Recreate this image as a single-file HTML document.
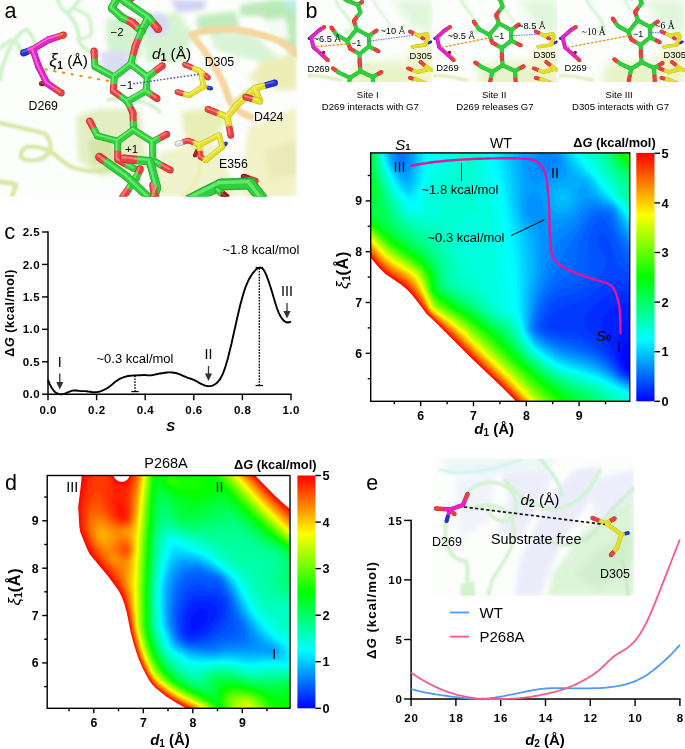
<!DOCTYPE html>
<html><head><meta charset="utf-8"><title>Figure</title>
<style>
html,body{margin:0;padding:0;background:#fff}
svg{display:block}
text{font-family:"Liberation Sans",sans-serif;fill:#000}
.b{font-weight:bold}
.i{font-style:italic}
.ser{font-family:"Liberation Serif",serif}
</style></head><body>

<svg width="685" height="749" viewBox="0 0 685 749">
<rect width="685" height="749" fill="#fff"/>
<defs><filter id="bl2" x="-20%" y="-20%" width="140%" height="140%"><feGaussianBlur stdDeviation="1.2"/></filter><filter id="bl3" x="-20%" y="-20%" width="140%" height="140%"><feGaussianBlur stdDeviation="2.5"/></filter><filter id="bl5" x="-30%" y="-30%" width="160%" height="160%"><feGaussianBlur stdDeviation="4"/></filter><filter id="bl9" x="-30%" y="-30%" width="160%" height="160%"><feGaussianBlur stdDeviation="8"/></filter></defs>
<clipPath id="ca"><rect x="0" y="0" width="296.8" height="196.6"/></clipPath>
<g clip-path="url(#ca)">
<rect x="0" y="0" width="297" height="197" fill="#fcfefb"/>
<g filter="url(#bl3)"><path d="M106 19 L132.6 15.8 L139.6 22.8 L141.3 57.8 L123.8 61.3 L111.5 57.8 L106.3 43.8 Z" fill="#d3f3cf"/><path d="M137.8 17.5 L178 12 L193 33 L186 61 L146.6 63 Z" fill="#d6f4d2"/><circle cx="157" cy="24" r="12" fill="#d8d8f5"/><path d="M100 52 L128 50 L130 74 L104 78 Z" fill="#dcdcf4"/><path d="M170 0 L207 0 L203 10 L178 12 Z" fill="#d0d0f4"/><path d="M240 5 L272 0 L297 0 L297 62 L288 51 L275 27 L261 16 L240 16 Z" fill="#bbeab8"/><path d="M197 16 L235 11 L240 27 L213 35 L197 29 Z" fill="#c0ecbd"/><path d="M210 35 L250 30 L270 50 L297 70 L297 82 L260 62 L215 50 Z" fill="#d8f4d5"/><path d="M283 0 L297 0 L297 11 L285 8 Z" fill="#b8ece0"/><path d="M264 20 L285 18 L290 40 L272 36 Z" fill="#f4fbf3"/><path d="M248 80 L262 61 L297 53 L297 90 L280 90 Z" fill="#ededb6"/><path d="M181 112 L213 107 L227 120 L213 139 L187 150 Z" fill="#e8efb6"/><path d="M248 128 L297 107 L297 197 L240 197 Z" fill="#f1f2c6"/><path d="M160 152 L215 142 L240 197 L150 197 Z" fill="#eff3cc"/><path d="M265 150 L297 140 L297 175 L270 180 Z" fill="#ebe9b8"/><path d="M76 116 L100 108 L140 110 L148 170 L100 176 L78 160 Z" fill="#e3efc2"/><path d="M88 140 L112 136 L116 162 L92 164 Z" fill="#d6e4a8"/></g><g fill="none" stroke-linecap="round" stroke-linejoin="round" filter="url(#bl2)"><path d="M57.5 0 C60 6 63 10 65.5 12 C70 12 73 9 75 5 L80 0" stroke="#cdf2ca" stroke-width="3.5"/><path d="M66.8 12 C72 18 76 24 77.5 29.4 C79 36 79 40 80.2 43 C83 48 88 52 94 54" stroke="#cdf2ca" stroke-width="4"/><path d="M0 80 C1 70 3 64 5.3 59 C9 48 13 40 18.7 35 C21 32 24 30 26.7 29.4 C30 32 33 38 35 43" stroke="#cdf2ca" stroke-width="4"/><path d="M0 48 C5 44 9 41 13.4 40 C17 42 19 46 21.4 51" stroke="#d2f3cf" stroke-width="4.5"/><path d="M72 8 C78 10 84 12 88 16 C91 22 92 28 91 35 C87 38 82 39 77.5 40" stroke="#d2f3cf" stroke-width="3.5"/><path d="M192 35 C208 27 240 26 277 40 C288 45 294 52 300 56" stroke="#f4d6a0" stroke-width="7"/><path d="M192 35 C205 50 222 75 229 99 C232 108 243 114 251 117" stroke="#f4d6a0" stroke-width="7"/><path d="M0 123 C8 125 15 126 21.4 128 C30 130 38 131 45.5 134 C49 138 51 144 50.8 150 C47 156 42 159 37.4 160 C31 161 25 160 21.4 158 C20 153 22 149 26.7 147 C34 146 41 147 48 150 C56 155 62 161 69.5 166 C76 169 82 170 88 171 C98 171 108 170 118 168" stroke="#d7e8a8" stroke-width="4.5"/><path d="M0 182 C6 182 12 183 16 185 L11 200" stroke="#d7e8a8" stroke-width="5"/><path d="M196 150 C205 168 196 186 182 197" stroke="#eceeb0" stroke-width="4"/><path d="M108 100 C120 96 150 100 160 112" stroke="#cdf2ca" stroke-width="3.5"/><path d="M232 104 C240 96 252 86 262 84" stroke="#e6e6a8" stroke-width="4"/></g>
<g fill="none"><circle cx="255.5" cy="181.0" r="3.2" fill="#c43030"/><circle cx="244.0" cy="177.0" r="3.2" fill="#701010"/><path d="M244.0 177.0 L249.8 179.0" stroke="#701010" stroke-width="6.5"/><path d="M249.8 179.0 L255.5 181.0" stroke="#c43030" stroke-width="6.5"/><circle cx="255.5" cy="181.0" r="2.6" fill="#ea4040"/><circle cx="244.0" cy="177.0" r="2.6" fill="#a01c1c"/><path d="M244.0 177.0 L249.8 179.0" stroke="#a01c1c" stroke-width="5.2"/><path d="M249.8 179.0 L255.5 181.0" stroke="#ea4040" stroke-width="5.2"/><g stroke-linecap="round" opacity="0.8"><path d="M243.0 176.0 L248.7 178.0" stroke="#c04040" stroke-width="1.8"/><path d="M248.7 178.0 L254.5 180.0" stroke="#f88888" stroke-width="1.8"/></g></g>
<g fill="none"><circle cx="250.0" cy="183.5" r="6.0" fill="#25ac30"/><circle cx="262.0" cy="199.0" r="6.0" fill="#25ac30"/><circle cx="221.0" cy="184.5" r="6.0" fill="#25ac30"/><circle cx="190.0" cy="200.0" r="6.0" fill="#25ac30"/><path d="M190.0 200.0 L205.5 192.2" stroke="#25ac30" stroke-width="12.0"/><path d="M205.5 192.2 L221.0 184.5" stroke="#25ac30" stroke-width="12.0"/><path d="M221.0 184.5 L235.5 184.0" stroke="#25ac30" stroke-width="12.0"/><path d="M235.5 184.0 L250.0 183.5" stroke="#25ac30" stroke-width="12.0"/><path d="M250.0 183.5 L256.0 191.2" stroke="#25ac30" stroke-width="12.0"/><path d="M256.0 191.2 L262.0 199.0" stroke="#25ac30" stroke-width="12.0"/><circle cx="250.0" cy="183.5" r="4.8" fill="#2fd03c"/><circle cx="262.0" cy="199.0" r="4.8" fill="#2fd03c"/><circle cx="221.0" cy="184.5" r="4.8" fill="#2fd03c"/><circle cx="190.0" cy="200.0" r="4.8" fill="#2fd03c"/><path d="M190.0 200.0 L205.5 192.2" stroke="#2fd03c" stroke-width="9.6"/><path d="M205.5 192.2 L221.0 184.5" stroke="#2fd03c" stroke-width="9.6"/><path d="M221.0 184.5 L235.5 184.0" stroke="#2fd03c" stroke-width="9.6"/><path d="M235.5 184.0 L250.0 183.5" stroke="#2fd03c" stroke-width="9.6"/><path d="M250.0 183.5 L256.0 191.2" stroke="#2fd03c" stroke-width="9.6"/><path d="M256.0 191.2 L262.0 199.0" stroke="#2fd03c" stroke-width="9.6"/><g stroke-linecap="round" opacity="0.8"><path d="M188.1 198.1 L203.6 190.3" stroke="#74ec7c" stroke-width="3.4"/><path d="M203.6 190.3 L219.1 182.6" stroke="#74ec7c" stroke-width="3.4"/><path d="M219.1 182.6 L233.6 182.1" stroke="#74ec7c" stroke-width="3.4"/><path d="M233.6 182.1 L248.1 181.6" stroke="#74ec7c" stroke-width="3.4"/><path d="M248.1 181.6 L254.1 189.3" stroke="#74ec7c" stroke-width="3.4"/><path d="M254.1 189.3 L260.1 197.1" stroke="#74ec7c" stroke-width="3.4"/></g></g>
<g fill="none"><circle cx="218.0" cy="190.0" r="3.5" fill="#25ac30"/><circle cx="226.0" cy="197.0" r="3.5" fill="#701010"/><path d="M218.0 190.0 L222.0 193.5" stroke="#25ac30" stroke-width="7.0"/><path d="M222.0 193.5 L226.0 197.0" stroke="#701010" stroke-width="7.0"/><circle cx="218.0" cy="190.0" r="2.8" fill="#2fd03c"/><circle cx="226.0" cy="197.0" r="2.8" fill="#a01c1c"/><path d="M218.0 190.0 L222.0 193.5" stroke="#2fd03c" stroke-width="5.6"/><path d="M222.0 193.5 L226.0 197.0" stroke="#a01c1c" stroke-width="5.6"/><g stroke-linecap="round" opacity="0.8"><path d="M216.9 188.9 L220.9 192.4" stroke="#74ec7c" stroke-width="2.0"/><path d="M220.9 192.4 L224.9 195.9" stroke="#c04040" stroke-width="2.0"/></g></g>
<g fill="none"><circle cx="132.6" cy="22.8" r="4.0" fill="#c43030"/><circle cx="141.5" cy="31.2" r="4.0" fill="#25ac30"/><circle cx="117.7" cy="-3.0" r="4.0" fill="#25ac30"/><circle cx="111.8" cy="8.2" r="4.0" fill="#25ac30"/><circle cx="122.0" cy="17.5" r="4.0" fill="#25ac30"/><path d="M117.7 -3.0 L114.8 2.6" stroke="#25ac30" stroke-width="8.0"/><path d="M114.8 2.6 L111.8 8.2" stroke="#25ac30" stroke-width="8.0"/><path d="M111.8 8.2 L116.9 12.8" stroke="#25ac30" stroke-width="8.0"/><path d="M116.9 12.8 L122.0 17.5" stroke="#25ac30" stroke-width="8.0"/><path d="M122.0 17.5 L127.3 20.1" stroke="#25ac30" stroke-width="8.0"/><path d="M127.3 20.1 L132.6 22.8" stroke="#c43030" stroke-width="8.0"/><path d="M132.6 22.8 L137.1 27.0" stroke="#c43030" stroke-width="8.0"/><path d="M137.1 27.0 L141.5 31.2" stroke="#25ac30" stroke-width="8.0"/><circle cx="132.6" cy="22.8" r="3.2" fill="#ea4040"/><circle cx="141.5" cy="31.2" r="3.2" fill="#2fd03c"/><circle cx="117.7" cy="-3.0" r="3.2" fill="#2fd03c"/><circle cx="111.8" cy="8.2" r="3.2" fill="#2fd03c"/><circle cx="122.0" cy="17.5" r="3.2" fill="#2fd03c"/><path d="M117.7 -3.0 L114.8 2.6" stroke="#2fd03c" stroke-width="6.4"/><path d="M114.8 2.6 L111.8 8.2" stroke="#2fd03c" stroke-width="6.4"/><path d="M111.8 8.2 L116.9 12.8" stroke="#2fd03c" stroke-width="6.4"/><path d="M116.9 12.8 L122.0 17.5" stroke="#2fd03c" stroke-width="6.4"/><path d="M122.0 17.5 L127.3 20.1" stroke="#2fd03c" stroke-width="6.4"/><path d="M127.3 20.1 L132.6 22.8" stroke="#ea4040" stroke-width="6.4"/><path d="M132.6 22.8 L137.1 27.0" stroke="#ea4040" stroke-width="6.4"/><path d="M137.1 27.0 L141.5 31.2" stroke="#2fd03c" stroke-width="6.4"/><g stroke-linecap="round" opacity="0.8"><path d="M116.4 -4.3 L113.5 1.3" stroke="#74ec7c" stroke-width="2.2"/><path d="M113.5 1.3 L110.5 6.9" stroke="#74ec7c" stroke-width="2.2"/><path d="M110.5 6.9 L115.6 11.6" stroke="#74ec7c" stroke-width="2.2"/><path d="M115.6 11.6 L120.7 16.2" stroke="#74ec7c" stroke-width="2.2"/><path d="M120.7 16.2 L126.0 18.9" stroke="#74ec7c" stroke-width="2.2"/><path d="M126.0 18.9 L131.3 21.5" stroke="#f88888" stroke-width="2.2"/><path d="M131.3 21.5 L135.8 25.7" stroke="#f88888" stroke-width="2.2"/><path d="M135.8 25.7 L140.2 29.9" stroke="#74ec7c" stroke-width="2.2"/></g></g>
<g fill="none"><circle cx="131.5" cy="-2.0" r="3.5" fill="#c43030"/><circle cx="127.0" cy="3.0" r="3.5" fill="#25ac30"/><path d="M131.5 -2.0 L129.2 0.5" stroke="#c43030" stroke-width="7.0"/><path d="M129.2 0.5 L127.0 3.0" stroke="#25ac30" stroke-width="7.0"/><circle cx="131.5" cy="-2.0" r="2.8" fill="#ea4040"/><circle cx="127.0" cy="3.0" r="2.8" fill="#2fd03c"/><path d="M131.5 -2.0 L129.2 0.5" stroke="#ea4040" stroke-width="5.6"/><path d="M129.2 0.5 L127.0 3.0" stroke="#2fd03c" stroke-width="5.6"/><g stroke-linecap="round" opacity="0.8"><path d="M130.4 -3.1 L128.1 -0.6" stroke="#f88888" stroke-width="2.0"/><path d="M128.1 -0.6 L125.9 1.9" stroke="#74ec7c" stroke-width="2.0"/></g></g>
<g fill="none"><circle cx="158.0" cy="28.9" r="4.0" fill="#c43030"/><circle cx="125.5" cy="1.8" r="4.0" fill="#25ac30"/><circle cx="141.5" cy="31.2" r="4.0" fill="#25ac30"/><circle cx="119.0" cy="-4.0" r="4.0" fill="#25ac30"/><circle cx="148.5" cy="17.5" r="4.0" fill="#25ac30"/><path d="M141.5 31.2 L145.0 24.4" stroke="#25ac30" stroke-width="8.0"/><path d="M145.0 24.4 L148.5 17.5" stroke="#25ac30" stroke-width="8.0"/><path d="M148.5 17.5 L153.2 23.2" stroke="#25ac30" stroke-width="8.0"/><path d="M153.2 23.2 L158.0 28.9" stroke="#c43030" stroke-width="8.0"/><path d="M148.5 17.5 L137.0 9.7" stroke="#25ac30" stroke-width="8.0"/><path d="M137.0 9.7 L125.5 1.8" stroke="#25ac30" stroke-width="8.0"/><path d="M125.5 1.8 L122.2 -1.1" stroke="#25ac30" stroke-width="8.0"/><path d="M122.2 -1.1 L119.0 -4.0" stroke="#25ac30" stroke-width="8.0"/><circle cx="158.0" cy="28.9" r="3.2" fill="#ea4040"/><circle cx="125.5" cy="1.8" r="3.2" fill="#2fd03c"/><circle cx="141.5" cy="31.2" r="3.2" fill="#2fd03c"/><circle cx="119.0" cy="-4.0" r="3.2" fill="#2fd03c"/><circle cx="148.5" cy="17.5" r="3.2" fill="#2fd03c"/><path d="M141.5 31.2 L145.0 24.4" stroke="#2fd03c" stroke-width="6.4"/><path d="M145.0 24.4 L148.5 17.5" stroke="#2fd03c" stroke-width="6.4"/><path d="M148.5 17.5 L153.2 23.2" stroke="#2fd03c" stroke-width="6.4"/><path d="M153.2 23.2 L158.0 28.9" stroke="#ea4040" stroke-width="6.4"/><path d="M148.5 17.5 L137.0 9.7" stroke="#2fd03c" stroke-width="6.4"/><path d="M137.0 9.7 L125.5 1.8" stroke="#2fd03c" stroke-width="6.4"/><path d="M125.5 1.8 L122.2 -1.1" stroke="#2fd03c" stroke-width="6.4"/><path d="M122.2 -1.1 L119.0 -4.0" stroke="#2fd03c" stroke-width="6.4"/><g stroke-linecap="round" opacity="0.8"><path d="M140.2 29.9 L143.7 23.1" stroke="#74ec7c" stroke-width="2.2"/><path d="M143.7 23.1 L147.2 16.2" stroke="#74ec7c" stroke-width="2.2"/><path d="M147.2 16.2 L152.0 21.9" stroke="#74ec7c" stroke-width="2.2"/><path d="M152.0 21.9 L156.7 27.6" stroke="#f88888" stroke-width="2.2"/><path d="M147.2 16.2 L135.7 8.4" stroke="#74ec7c" stroke-width="2.2"/><path d="M135.7 8.4 L124.2 0.5" stroke="#74ec7c" stroke-width="2.2"/><path d="M124.2 0.5 L121.0 -2.4" stroke="#74ec7c" stroke-width="2.2"/><path d="M121.0 -2.4 L117.7 -5.3" stroke="#74ec7c" stroke-width="2.2"/></g></g>
<g fill="none"><circle cx="127.5" cy="101.5" r="3.5" fill="#25ac30"/><circle cx="114.2" cy="77.0" r="3.5" fill="#25ac30"/><circle cx="133.4" cy="129.8" r="3.5" fill="#25ac30"/><circle cx="157.0" cy="98.5" r="3.5" fill="#c43030"/><circle cx="162.3" cy="65.7" r="3.5" fill="#c43030"/><circle cx="130.8" cy="64.0" r="3.5" fill="#25ac30"/><circle cx="113.3" cy="91.0" r="3.5" fill="#c43030"/><circle cx="146.0" cy="91.0" r="3.5" fill="#25ac30"/><circle cx="94.9" cy="66.6" r="3.5" fill="#25ac30"/><circle cx="94.0" cy="51.0" r="3.5" fill="#c43030"/><circle cx="147.4" cy="77.0" r="3.5" fill="#25ac30"/><circle cx="133.0" cy="113.0" r="3.5" fill="#c43030"/><circle cx="141.5" cy="31.2" r="3.5" fill="#25ac30"/><circle cx="135.2" cy="46.4" r="3.5" fill="#c43030"/><path d="M130.8 64.0 L139.1 70.5" stroke="#25ac30" stroke-width="7.0"/><path d="M139.1 70.5 L147.4 77.0" stroke="#25ac30" stroke-width="7.0"/><path d="M147.4 77.0 L146.7 84.0" stroke="#25ac30" stroke-width="7.0"/><path d="M146.7 84.0 L146.0 91.0" stroke="#25ac30" stroke-width="7.0"/><path d="M146.0 91.0 L136.8 96.2" stroke="#25ac30" stroke-width="7.0"/><path d="M136.8 96.2 L127.5 101.5" stroke="#25ac30" stroke-width="7.0"/><path d="M127.5 101.5 L120.4 96.2" stroke="#25ac30" stroke-width="7.0"/><path d="M120.4 96.2 L113.3 91.0" stroke="#c43030" stroke-width="7.0"/><path d="M113.3 91.0 L113.8 84.0" stroke="#c43030" stroke-width="7.0"/><path d="M113.8 84.0 L114.2 77.0" stroke="#25ac30" stroke-width="7.0"/><path d="M114.2 77.0 L122.5 70.5" stroke="#25ac30" stroke-width="7.0"/><path d="M122.5 70.5 L130.8 64.0" stroke="#25ac30" stroke-width="7.0"/><path d="M114.2 77.0 L104.6 71.8" stroke="#25ac30" stroke-width="7.0"/><path d="M104.6 71.8 L94.9 66.6" stroke="#25ac30" stroke-width="7.0"/><path d="M94.9 66.6 L94.5 58.8" stroke="#25ac30" stroke-width="7.0"/><path d="M94.5 58.8 L94.0 51.0" stroke="#c43030" stroke-width="7.0"/><path d="M130.8 64.0 L133.0 55.2" stroke="#25ac30" stroke-width="7.0"/><path d="M133.0 55.2 L135.2 46.4" stroke="#c43030" stroke-width="7.0"/><path d="M135.2 46.4 L138.3 38.8" stroke="#c43030" stroke-width="7.0"/><path d="M138.3 38.8 L141.5 31.2" stroke="#25ac30" stroke-width="7.0"/><path d="M147.4 77.0 L154.9 71.3" stroke="#25ac30" stroke-width="7.0"/><path d="M154.9 71.3 L162.3 65.7" stroke="#c43030" stroke-width="7.0"/><path d="M146.0 91.0 L151.5 94.8" stroke="#25ac30" stroke-width="7.0"/><path d="M151.5 94.8 L157.0 98.5" stroke="#c43030" stroke-width="7.0"/><path d="M127.5 101.5 L130.2 107.2" stroke="#25ac30" stroke-width="7.0"/><path d="M130.2 107.2 L133.0 113.0" stroke="#c43030" stroke-width="7.0"/><path d="M133.0 113.0 L133.2 121.4" stroke="#c43030" stroke-width="7.0"/><path d="M133.2 121.4 L133.4 129.8" stroke="#25ac30" stroke-width="7.0"/><circle cx="127.5" cy="101.5" r="2.8" fill="#2fd03c"/><circle cx="114.2" cy="77.0" r="2.8" fill="#2fd03c"/><circle cx="133.4" cy="129.8" r="2.8" fill="#2fd03c"/><circle cx="157.0" cy="98.5" r="2.8" fill="#ea4040"/><circle cx="162.3" cy="65.7" r="2.8" fill="#ea4040"/><circle cx="130.8" cy="64.0" r="2.8" fill="#2fd03c"/><circle cx="113.3" cy="91.0" r="2.8" fill="#ea4040"/><circle cx="146.0" cy="91.0" r="2.8" fill="#2fd03c"/><circle cx="94.9" cy="66.6" r="2.8" fill="#2fd03c"/><circle cx="94.0" cy="51.0" r="2.8" fill="#ea4040"/><circle cx="147.4" cy="77.0" r="2.8" fill="#2fd03c"/><circle cx="133.0" cy="113.0" r="2.8" fill="#ea4040"/><circle cx="141.5" cy="31.2" r="2.8" fill="#2fd03c"/><circle cx="135.2" cy="46.4" r="2.8" fill="#ea4040"/><path d="M130.8 64.0 L139.1 70.5" stroke="#2fd03c" stroke-width="5.6"/><path d="M139.1 70.5 L147.4 77.0" stroke="#2fd03c" stroke-width="5.6"/><path d="M147.4 77.0 L146.7 84.0" stroke="#2fd03c" stroke-width="5.6"/><path d="M146.7 84.0 L146.0 91.0" stroke="#2fd03c" stroke-width="5.6"/><path d="M146.0 91.0 L136.8 96.2" stroke="#2fd03c" stroke-width="5.6"/><path d="M136.8 96.2 L127.5 101.5" stroke="#2fd03c" stroke-width="5.6"/><path d="M127.5 101.5 L120.4 96.2" stroke="#2fd03c" stroke-width="5.6"/><path d="M120.4 96.2 L113.3 91.0" stroke="#ea4040" stroke-width="5.6"/><path d="M113.3 91.0 L113.8 84.0" stroke="#ea4040" stroke-width="5.6"/><path d="M113.8 84.0 L114.2 77.0" stroke="#2fd03c" stroke-width="5.6"/><path d="M114.2 77.0 L122.5 70.5" stroke="#2fd03c" stroke-width="5.6"/><path d="M122.5 70.5 L130.8 64.0" stroke="#2fd03c" stroke-width="5.6"/><path d="M114.2 77.0 L104.6 71.8" stroke="#2fd03c" stroke-width="5.6"/><path d="M104.6 71.8 L94.9 66.6" stroke="#2fd03c" stroke-width="5.6"/><path d="M94.9 66.6 L94.5 58.8" stroke="#2fd03c" stroke-width="5.6"/><path d="M94.5 58.8 L94.0 51.0" stroke="#ea4040" stroke-width="5.6"/><path d="M130.8 64.0 L133.0 55.2" stroke="#2fd03c" stroke-width="5.6"/><path d="M133.0 55.2 L135.2 46.4" stroke="#ea4040" stroke-width="5.6"/><path d="M135.2 46.4 L138.3 38.8" stroke="#ea4040" stroke-width="5.6"/><path d="M138.3 38.8 L141.5 31.2" stroke="#2fd03c" stroke-width="5.6"/><path d="M147.4 77.0 L154.9 71.3" stroke="#2fd03c" stroke-width="5.6"/><path d="M154.9 71.3 L162.3 65.7" stroke="#ea4040" stroke-width="5.6"/><path d="M146.0 91.0 L151.5 94.8" stroke="#2fd03c" stroke-width="5.6"/><path d="M151.5 94.8 L157.0 98.5" stroke="#ea4040" stroke-width="5.6"/><path d="M127.5 101.5 L130.2 107.2" stroke="#2fd03c" stroke-width="5.6"/><path d="M130.2 107.2 L133.0 113.0" stroke="#ea4040" stroke-width="5.6"/><path d="M133.0 113.0 L133.2 121.4" stroke="#ea4040" stroke-width="5.6"/><path d="M133.2 121.4 L133.4 129.8" stroke="#2fd03c" stroke-width="5.6"/><g stroke-linecap="round" opacity="0.8"><path d="M129.7 62.9 L138.0 69.4" stroke="#74ec7c" stroke-width="2.0"/><path d="M138.0 69.4 L146.3 75.9" stroke="#74ec7c" stroke-width="2.0"/><path d="M146.3 75.9 L145.6 82.9" stroke="#74ec7c" stroke-width="2.0"/><path d="M145.6 82.9 L144.9 89.9" stroke="#74ec7c" stroke-width="2.0"/><path d="M144.9 89.9 L135.6 95.1" stroke="#74ec7c" stroke-width="2.0"/><path d="M135.6 95.1 L126.4 100.4" stroke="#74ec7c" stroke-width="2.0"/><path d="M126.4 100.4 L119.3 95.1" stroke="#74ec7c" stroke-width="2.0"/><path d="M119.3 95.1 L112.2 89.9" stroke="#f88888" stroke-width="2.0"/><path d="M112.2 89.9 L112.6 82.9" stroke="#f88888" stroke-width="2.0"/><path d="M112.6 82.9 L113.1 75.9" stroke="#74ec7c" stroke-width="2.0"/><path d="M113.1 75.9 L121.4 69.4" stroke="#74ec7c" stroke-width="2.0"/><path d="M121.4 69.4 L129.7 62.9" stroke="#74ec7c" stroke-width="2.0"/><path d="M113.1 75.9 L103.4 70.7" stroke="#74ec7c" stroke-width="2.0"/><path d="M103.4 70.7 L93.8 65.5" stroke="#74ec7c" stroke-width="2.0"/><path d="M93.8 65.5 L93.3 57.7" stroke="#74ec7c" stroke-width="2.0"/><path d="M93.3 57.7 L92.9 49.9" stroke="#f88888" stroke-width="2.0"/><path d="M129.7 62.9 L131.9 54.1" stroke="#74ec7c" stroke-width="2.0"/><path d="M131.9 54.1 L134.1 45.3" stroke="#f88888" stroke-width="2.0"/><path d="M134.1 45.3 L137.2 37.7" stroke="#f88888" stroke-width="2.0"/><path d="M137.2 37.7 L140.4 30.1" stroke="#74ec7c" stroke-width="2.0"/><path d="M146.3 75.9 L153.7 70.2" stroke="#74ec7c" stroke-width="2.0"/><path d="M153.7 70.2 L161.2 64.6" stroke="#f88888" stroke-width="2.0"/><path d="M144.9 89.9 L150.4 93.6" stroke="#74ec7c" stroke-width="2.0"/><path d="M150.4 93.6 L155.9 97.4" stroke="#f88888" stroke-width="2.0"/><path d="M126.4 100.4 L129.1 106.1" stroke="#74ec7c" stroke-width="2.0"/><path d="M129.1 106.1 L131.9 111.9" stroke="#f88888" stroke-width="2.0"/><path d="M131.9 111.9 L132.1 120.3" stroke="#f88888" stroke-width="2.0"/><path d="M132.1 120.3 L132.3 128.7" stroke="#74ec7c" stroke-width="2.0"/></g></g>
<g fill="none"><circle cx="133.4" cy="129.8" r="3.5" fill="#25ac30"/><circle cx="152.7" cy="142.0" r="3.5" fill="#25ac30"/><circle cx="117.7" cy="159.6" r="3.5" fill="#c43030"/><circle cx="170.2" cy="170.0" r="3.5" fill="#c43030"/><circle cx="166.7" cy="134.2" r="3.5" fill="#c43030"/><circle cx="134.0" cy="168.5" r="3.5" fill="#25ac30"/><circle cx="152.7" cy="160.4" r="3.5" fill="#25ac30"/><circle cx="97.5" cy="135.9" r="3.5" fill="#25ac30"/><circle cx="89.6" cy="121.0" r="3.5" fill="#c43030"/><circle cx="117.7" cy="141.2" r="3.5" fill="#25ac30"/><path d="M133.4 129.8 L143.1 135.9" stroke="#25ac30" stroke-width="7.0"/><path d="M143.1 135.9 L152.7 142.0" stroke="#25ac30" stroke-width="7.0"/><path d="M152.7 142.0 L152.7 151.2" stroke="#25ac30" stroke-width="7.0"/><path d="M152.7 151.2 L152.7 160.4" stroke="#25ac30" stroke-width="7.0"/><path d="M134.0 168.5 L125.8 164.1" stroke="#25ac30" stroke-width="7.0"/><path d="M125.8 164.1 L117.7 159.6" stroke="#c43030" stroke-width="7.0"/><path d="M117.7 159.6 L117.7 150.4" stroke="#c43030" stroke-width="7.0"/><path d="M117.7 150.4 L117.7 141.2" stroke="#25ac30" stroke-width="7.0"/><path d="M117.7 141.2 L125.6 135.5" stroke="#25ac30" stroke-width="7.0"/><path d="M125.6 135.5 L133.4 129.8" stroke="#25ac30" stroke-width="7.0"/><path d="M117.7 141.2 L107.6 138.6" stroke="#25ac30" stroke-width="7.0"/><path d="M107.6 138.6 L97.5 135.9" stroke="#25ac30" stroke-width="7.0"/><path d="M97.5 135.9 L93.5 128.4" stroke="#25ac30" stroke-width="7.0"/><path d="M93.5 128.4 L89.6 121.0" stroke="#c43030" stroke-width="7.0"/><path d="M152.7 142.0 L159.7 138.1" stroke="#25ac30" stroke-width="7.0"/><path d="M159.7 138.1 L166.7 134.2" stroke="#c43030" stroke-width="7.0"/><path d="M152.7 160.4 L161.4 165.2" stroke="#25ac30" stroke-width="7.0"/><path d="M161.4 165.2 L170.2 170.0" stroke="#c43030" stroke-width="7.0"/><circle cx="133.4" cy="129.8" r="2.8" fill="#2fd03c"/><circle cx="152.7" cy="142.0" r="2.8" fill="#2fd03c"/><circle cx="117.7" cy="159.6" r="2.8" fill="#ea4040"/><circle cx="170.2" cy="170.0" r="2.8" fill="#ea4040"/><circle cx="166.7" cy="134.2" r="2.8" fill="#ea4040"/><circle cx="134.0" cy="168.5" r="2.8" fill="#2fd03c"/><circle cx="152.7" cy="160.4" r="2.8" fill="#2fd03c"/><circle cx="97.5" cy="135.9" r="2.8" fill="#2fd03c"/><circle cx="89.6" cy="121.0" r="2.8" fill="#ea4040"/><circle cx="117.7" cy="141.2" r="2.8" fill="#2fd03c"/><path d="M133.4 129.8 L143.1 135.9" stroke="#2fd03c" stroke-width="5.6"/><path d="M143.1 135.9 L152.7 142.0" stroke="#2fd03c" stroke-width="5.6"/><path d="M152.7 142.0 L152.7 151.2" stroke="#2fd03c" stroke-width="5.6"/><path d="M152.7 151.2 L152.7 160.4" stroke="#2fd03c" stroke-width="5.6"/><path d="M134.0 168.5 L125.8 164.1" stroke="#2fd03c" stroke-width="5.6"/><path d="M125.8 164.1 L117.7 159.6" stroke="#ea4040" stroke-width="5.6"/><path d="M117.7 159.6 L117.7 150.4" stroke="#ea4040" stroke-width="5.6"/><path d="M117.7 150.4 L117.7 141.2" stroke="#2fd03c" stroke-width="5.6"/><path d="M117.7 141.2 L125.6 135.5" stroke="#2fd03c" stroke-width="5.6"/><path d="M125.6 135.5 L133.4 129.8" stroke="#2fd03c" stroke-width="5.6"/><path d="M117.7 141.2 L107.6 138.6" stroke="#2fd03c" stroke-width="5.6"/><path d="M107.6 138.6 L97.5 135.9" stroke="#2fd03c" stroke-width="5.6"/><path d="M97.5 135.9 L93.5 128.4" stroke="#2fd03c" stroke-width="5.6"/><path d="M93.5 128.4 L89.6 121.0" stroke="#ea4040" stroke-width="5.6"/><path d="M152.7 142.0 L159.7 138.1" stroke="#2fd03c" stroke-width="5.6"/><path d="M159.7 138.1 L166.7 134.2" stroke="#ea4040" stroke-width="5.6"/><path d="M152.7 160.4 L161.4 165.2" stroke="#2fd03c" stroke-width="5.6"/><path d="M161.4 165.2 L170.2 170.0" stroke="#ea4040" stroke-width="5.6"/><g stroke-linecap="round" opacity="0.8"><path d="M132.3 128.7 L141.9 134.8" stroke="#74ec7c" stroke-width="2.0"/><path d="M141.9 134.8 L151.6 140.9" stroke="#74ec7c" stroke-width="2.0"/><path d="M151.6 140.9 L151.6 150.1" stroke="#74ec7c" stroke-width="2.0"/><path d="M151.6 150.1 L151.6 159.3" stroke="#74ec7c" stroke-width="2.0"/><path d="M132.9 167.4 L124.7 162.9" stroke="#74ec7c" stroke-width="2.0"/><path d="M124.7 162.9 L116.6 158.5" stroke="#f88888" stroke-width="2.0"/><path d="M116.6 158.5 L116.6 149.3" stroke="#f88888" stroke-width="2.0"/><path d="M116.6 149.3 L116.6 140.1" stroke="#74ec7c" stroke-width="2.0"/><path d="M116.6 140.1 L124.4 134.4" stroke="#74ec7c" stroke-width="2.0"/><path d="M124.4 134.4 L132.3 128.7" stroke="#74ec7c" stroke-width="2.0"/><path d="M116.6 140.1 L106.5 137.4" stroke="#74ec7c" stroke-width="2.0"/><path d="M106.5 137.4 L96.4 134.8" stroke="#74ec7c" stroke-width="2.0"/><path d="M96.4 134.8 L92.4 127.3" stroke="#74ec7c" stroke-width="2.0"/><path d="M92.4 127.3 L88.5 119.9" stroke="#f88888" stroke-width="2.0"/><path d="M151.6 140.9 L158.6 137.0" stroke="#74ec7c" stroke-width="2.0"/><path d="M158.6 137.0 L165.6 133.1" stroke="#f88888" stroke-width="2.0"/><path d="M151.6 159.3 L160.3 164.1" stroke="#74ec7c" stroke-width="2.0"/><path d="M160.3 164.1 L169.1 168.9" stroke="#f88888" stroke-width="2.0"/></g></g>
<g fill="none"><circle cx="140.0" cy="169.0" r="3.8" fill="#c43030"/><circle cx="121.0" cy="200.0" r="3.8" fill="#c43030"/><circle cx="136.0" cy="178.0" r="3.8" fill="#25ac30"/><path d="M140.0 169.0 L138.0 173.5" stroke="#c43030" stroke-width="7.5"/><path d="M138.0 173.5 L136.0 178.0" stroke="#25ac30" stroke-width="7.5"/><path d="M136.0 178.0 L128.5 189.0" stroke="#25ac30" stroke-width="7.5"/><path d="M128.5 189.0 L121.0 200.0" stroke="#c43030" stroke-width="7.5"/><circle cx="140.0" cy="169.0" r="3.0" fill="#ea4040"/><circle cx="121.0" cy="200.0" r="3.0" fill="#ea4040"/><circle cx="136.0" cy="178.0" r="3.0" fill="#2fd03c"/><path d="M140.0 169.0 L138.0 173.5" stroke="#ea4040" stroke-width="6.0"/><path d="M138.0 173.5 L136.0 178.0" stroke="#2fd03c" stroke-width="6.0"/><path d="M136.0 178.0 L128.5 189.0" stroke="#2fd03c" stroke-width="6.0"/><path d="M128.5 189.0 L121.0 200.0" stroke="#ea4040" stroke-width="6.0"/><g stroke-linecap="round" opacity="0.8"><path d="M138.8 167.8 L136.8 172.3" stroke="#f88888" stroke-width="2.1"/><path d="M136.8 172.3 L134.8 176.8" stroke="#74ec7c" stroke-width="2.1"/><path d="M134.8 176.8 L127.3 187.8" stroke="#74ec7c" stroke-width="2.1"/><path d="M127.3 187.8 L119.8 198.8" stroke="#f88888" stroke-width="2.1"/></g></g>
<g fill="none"><circle cx="110.5" cy="165.0" r="4.2" fill="#25ac30"/><circle cx="148.0" cy="197.0" r="4.2" fill="#25ac30"/><circle cx="99.3" cy="157.0" r="4.2" fill="#c43030"/><circle cx="127.3" cy="177.0" r="4.2" fill="#25ac30"/><path d="M99.3 157.0 L104.9 161.0" stroke="#c43030" stroke-width="8.5"/><path d="M104.9 161.0 L110.5 165.0" stroke="#25ac30" stroke-width="8.5"/><path d="M110.5 165.0 L118.9 171.0" stroke="#25ac30" stroke-width="8.5"/><path d="M118.9 171.0 L127.3 177.0" stroke="#25ac30" stroke-width="8.5"/><path d="M127.3 177.0 L137.7 187.0" stroke="#25ac30" stroke-width="8.5"/><path d="M137.7 187.0 L148.0 197.0" stroke="#25ac30" stroke-width="8.5"/><circle cx="110.5" cy="165.0" r="3.4" fill="#2fd03c"/><circle cx="148.0" cy="197.0" r="3.4" fill="#2fd03c"/><circle cx="99.3" cy="157.0" r="3.4" fill="#ea4040"/><circle cx="127.3" cy="177.0" r="3.4" fill="#2fd03c"/><path d="M99.3 157.0 L104.9 161.0" stroke="#ea4040" stroke-width="6.8"/><path d="M104.9 161.0 L110.5 165.0" stroke="#2fd03c" stroke-width="6.8"/><path d="M110.5 165.0 L118.9 171.0" stroke="#2fd03c" stroke-width="6.8"/><path d="M118.9 171.0 L127.3 177.0" stroke="#2fd03c" stroke-width="6.8"/><path d="M127.3 177.0 L137.7 187.0" stroke="#2fd03c" stroke-width="6.8"/><path d="M137.7 187.0 L148.0 197.0" stroke="#2fd03c" stroke-width="6.8"/><g stroke-linecap="round" opacity="0.8"><path d="M97.9 155.6 L103.5 159.6" stroke="#f88888" stroke-width="2.4"/><path d="M103.5 159.6 L109.1 163.6" stroke="#74ec7c" stroke-width="2.4"/><path d="M109.1 163.6 L117.5 169.6" stroke="#74ec7c" stroke-width="2.4"/><path d="M117.5 169.6 L125.9 175.6" stroke="#74ec7c" stroke-width="2.4"/><path d="M125.9 175.6 L136.3 185.6" stroke="#74ec7c" stroke-width="2.4"/><path d="M136.3 185.6 L146.6 195.6" stroke="#74ec7c" stroke-width="2.4"/></g></g>
<g fill="none"><circle cx="153.0" cy="200.0" r="4.2" fill="#25ac30"/><circle cx="155.5" cy="200.0" r="4.2" fill="#c43030"/><circle cx="123.8" cy="158.7" r="4.2" fill="#c43030"/><circle cx="150.0" cy="161.3" r="4.2" fill="#25ac30"/><circle cx="157.0" cy="187.6" r="4.2" fill="#25ac30"/><circle cx="153.5" cy="185.0" r="4.2" fill="#c43030"/><path d="M123.8 158.7 L136.9 160.0" stroke="#c43030" stroke-width="8.5"/><path d="M136.9 160.0 L150.0 161.3" stroke="#25ac30" stroke-width="8.5"/><path d="M150.0 161.3 L153.5 174.4" stroke="#25ac30" stroke-width="8.5"/><path d="M153.5 174.4 L157.0 187.6" stroke="#25ac30" stroke-width="8.5"/><path d="M157.0 187.6 L155.0 193.8" stroke="#25ac30" stroke-width="8.5"/><path d="M155.0 193.8 L153.0 200.0" stroke="#25ac30" stroke-width="8.5"/><path d="M153.5 185.0 L154.5 192.5" stroke="#c43030" stroke-width="8.5"/><path d="M154.5 192.5 L155.5 200.0" stroke="#c43030" stroke-width="8.5"/><circle cx="153.0" cy="200.0" r="3.4" fill="#2fd03c"/><circle cx="155.5" cy="200.0" r="3.4" fill="#ea4040"/><circle cx="123.8" cy="158.7" r="3.4" fill="#ea4040"/><circle cx="150.0" cy="161.3" r="3.4" fill="#2fd03c"/><circle cx="157.0" cy="187.6" r="3.4" fill="#2fd03c"/><circle cx="153.5" cy="185.0" r="3.4" fill="#ea4040"/><path d="M123.8 158.7 L136.9 160.0" stroke="#ea4040" stroke-width="6.8"/><path d="M136.9 160.0 L150.0 161.3" stroke="#2fd03c" stroke-width="6.8"/><path d="M150.0 161.3 L153.5 174.4" stroke="#2fd03c" stroke-width="6.8"/><path d="M153.5 174.4 L157.0 187.6" stroke="#2fd03c" stroke-width="6.8"/><path d="M157.0 187.6 L155.0 193.8" stroke="#2fd03c" stroke-width="6.8"/><path d="M155.0 193.8 L153.0 200.0" stroke="#2fd03c" stroke-width="6.8"/><path d="M153.5 185.0 L154.5 192.5" stroke="#ea4040" stroke-width="6.8"/><path d="M154.5 192.5 L155.5 200.0" stroke="#ea4040" stroke-width="6.8"/><g stroke-linecap="round" opacity="0.8"><path d="M122.4 157.3 L135.5 158.6" stroke="#f88888" stroke-width="2.4"/><path d="M135.5 158.6 L148.6 159.9" stroke="#74ec7c" stroke-width="2.4"/><path d="M148.6 159.9 L152.1 173.1" stroke="#74ec7c" stroke-width="2.4"/><path d="M152.1 173.1 L155.6 186.2" stroke="#74ec7c" stroke-width="2.4"/><path d="M155.6 186.2 L153.6 192.4" stroke="#74ec7c" stroke-width="2.4"/><path d="M153.6 192.4 L151.6 198.6" stroke="#74ec7c" stroke-width="2.4"/><path d="M152.1 183.6 L153.1 191.1" stroke="#f88888" stroke-width="2.4"/><path d="M153.1 191.1 L154.1 198.6" stroke="#f88888" stroke-width="2.4"/></g></g>
<g fill="none"><circle cx="47.0" cy="83.2" r="2.5" fill="#bc18a2"/><circle cx="41.5" cy="83.5" r="2.5" fill="#701010"/><path d="M47.0 83.2 L44.2 83.3" stroke="#bc18a2" stroke-width="5.0"/><path d="M44.2 83.3 L41.5 83.5" stroke="#701010" stroke-width="5.0"/><circle cx="47.0" cy="83.2" r="2.0" fill="#e424c6"/><circle cx="41.5" cy="83.5" r="2.0" fill="#a01c1c"/><path d="M47.0 83.2 L44.2 83.3" stroke="#e424c6" stroke-width="4.0"/><path d="M44.2 83.3 L41.5 83.5" stroke="#a01c1c" stroke-width="4.0"/><g stroke-linecap="round" opacity="0.8"><path d="M46.2 82.4 L43.5 82.5" stroke="#f678e0" stroke-width="1.4"/><path d="M43.5 82.5 L40.7 82.7" stroke="#c04040" stroke-width="1.4"/></g></g>
<g fill="none"><circle cx="49.3" cy="39.4" r="3.4" fill="#bc18a2"/><circle cx="38.3" cy="65.7" r="3.4" fill="#bc18a2"/><circle cx="32.8" cy="49.3" r="3.4" fill="#bc18a2"/><circle cx="61.3" cy="93.0" r="3.4" fill="#c43030"/><circle cx="23.5" cy="53.0" r="3.4" fill="#1820a0"/><circle cx="63.5" cy="35.0" r="3.4" fill="#c43030"/><circle cx="47.0" cy="83.2" r="3.4" fill="#bc18a2"/><path d="M63.5 35.0 L56.4 37.2" stroke="#c43030" stroke-width="6.8"/><path d="M56.4 37.2 L49.3 39.4" stroke="#bc18a2" stroke-width="6.8"/><path d="M49.3 39.4 L41.0 44.3" stroke="#bc18a2" stroke-width="6.8"/><path d="M41.0 44.3 L32.8 49.3" stroke="#bc18a2" stroke-width="6.8"/><path d="M32.8 49.3 L28.1 51.1" stroke="#bc18a2" stroke-width="6.8"/><path d="M28.1 51.1 L23.5 53.0" stroke="#1820a0" stroke-width="6.8"/><path d="M32.8 49.3 L35.5 57.5" stroke="#bc18a2" stroke-width="6.8"/><path d="M35.5 57.5 L38.3 65.7" stroke="#bc18a2" stroke-width="6.8"/><path d="M38.3 65.7 L42.6 74.5" stroke="#bc18a2" stroke-width="6.8"/><path d="M42.6 74.5 L47.0 83.2" stroke="#bc18a2" stroke-width="6.8"/><path d="M47.0 83.2 L54.1 88.1" stroke="#bc18a2" stroke-width="6.8"/><path d="M54.1 88.1 L61.3 93.0" stroke="#c43030" stroke-width="6.8"/><circle cx="49.3" cy="39.4" r="2.7" fill="#e424c6"/><circle cx="38.3" cy="65.7" r="2.7" fill="#e424c6"/><circle cx="32.8" cy="49.3" r="2.7" fill="#e424c6"/><circle cx="61.3" cy="93.0" r="2.7" fill="#ea4040"/><circle cx="23.5" cy="53.0" r="2.7" fill="#2434d8"/><circle cx="63.5" cy="35.0" r="2.7" fill="#ea4040"/><circle cx="47.0" cy="83.2" r="2.7" fill="#e424c6"/><path d="M63.5 35.0 L56.4 37.2" stroke="#ea4040" stroke-width="5.4"/><path d="M56.4 37.2 L49.3 39.4" stroke="#e424c6" stroke-width="5.4"/><path d="M49.3 39.4 L41.0 44.3" stroke="#e424c6" stroke-width="5.4"/><path d="M41.0 44.3 L32.8 49.3" stroke="#e424c6" stroke-width="5.4"/><path d="M32.8 49.3 L28.1 51.1" stroke="#e424c6" stroke-width="5.4"/><path d="M28.1 51.1 L23.5 53.0" stroke="#2434d8" stroke-width="5.4"/><path d="M32.8 49.3 L35.5 57.5" stroke="#e424c6" stroke-width="5.4"/><path d="M35.5 57.5 L38.3 65.7" stroke="#e424c6" stroke-width="5.4"/><path d="M38.3 65.7 L42.6 74.5" stroke="#e424c6" stroke-width="5.4"/><path d="M42.6 74.5 L47.0 83.2" stroke="#e424c6" stroke-width="5.4"/><path d="M47.0 83.2 L54.1 88.1" stroke="#e424c6" stroke-width="5.4"/><path d="M54.1 88.1 L61.3 93.0" stroke="#ea4040" stroke-width="5.4"/><g stroke-linecap="round" opacity="0.8"><path d="M62.4 33.9 L55.3 36.1" stroke="#f88888" stroke-width="1.9"/><path d="M55.3 36.1 L48.2 38.3" stroke="#f678e0" stroke-width="1.9"/><path d="M48.2 38.3 L40.0 43.3" stroke="#f678e0" stroke-width="1.9"/><path d="M40.0 43.3 L31.7 48.2" stroke="#f678e0" stroke-width="1.9"/><path d="M31.7 48.2 L27.1 50.1" stroke="#f678e0" stroke-width="1.9"/><path d="M27.1 50.1 L22.4 51.9" stroke="#6470f0" stroke-width="1.9"/><path d="M31.7 48.2 L34.5 56.4" stroke="#f678e0" stroke-width="1.9"/><path d="M34.5 56.4 L37.2 64.6" stroke="#f678e0" stroke-width="1.9"/><path d="M37.2 64.6 L41.6 73.4" stroke="#f678e0" stroke-width="1.9"/><path d="M41.6 73.4 L45.9 82.1" stroke="#f678e0" stroke-width="1.9"/><path d="M45.9 82.1 L53.1 87.0" stroke="#f678e0" stroke-width="1.9"/><path d="M53.1 87.0 L60.2 91.9" stroke="#f88888" stroke-width="1.9"/></g></g>
<g fill="none"><circle cx="211.0" cy="88.5" r="2.0" fill="#1820a0"/><circle cx="203.6" cy="86.5" r="2.0" fill="#c2bb20"/><path d="M203.6 86.5 L207.3 87.5" stroke="#c2bb20" stroke-width="4.0"/><path d="M207.3 87.5 L211.0 88.5" stroke="#1820a0" stroke-width="4.0"/><circle cx="211.0" cy="88.5" r="1.6" fill="#2434d8"/><circle cx="203.6" cy="86.5" r="1.6" fill="#e6de28"/><path d="M203.6 86.5 L207.3 87.5" stroke="#e6de28" stroke-width="3.2"/><path d="M207.3 87.5 L211.0 88.5" stroke="#2434d8" stroke-width="3.2"/><g stroke-linecap="round" opacity="0.8"><path d="M203.0 85.9 L206.7 86.9" stroke="#f4f070" stroke-width="1.1"/><path d="M206.7 86.9 L210.4 87.9" stroke="#6470f0" stroke-width="1.1"/></g></g>
<g fill="none"><circle cx="200.4" cy="71.2" r="2.8" fill="#c2bb20"/><circle cx="177.4" cy="92.0" r="2.8" fill="#c43030"/><circle cx="208.0" cy="77.7" r="2.8" fill="#c43030"/><circle cx="189.4" cy="95.3" r="2.8" fill="#c2bb20"/><circle cx="185.0" cy="64.6" r="2.8" fill="#c43030"/><circle cx="203.6" cy="86.5" r="2.8" fill="#c2bb20"/><path d="M185.0 64.6 L192.7 67.9" stroke="#c43030" stroke-width="5.6"/><path d="M192.7 67.9 L200.4 71.2" stroke="#c2bb20" stroke-width="5.6"/><path d="M200.4 71.2 L204.2 74.5" stroke="#c2bb20" stroke-width="5.6"/><path d="M204.2 74.5 L208.0 77.7" stroke="#c43030" stroke-width="5.6"/><path d="M200.4 71.2 L202.0 78.8" stroke="#c2bb20" stroke-width="5.6"/><path d="M202.0 78.8 L203.6 86.5" stroke="#c2bb20" stroke-width="5.6"/><path d="M203.6 86.5 L196.5 90.9" stroke="#c2bb20" stroke-width="5.6"/><path d="M196.5 90.9 L189.4 95.3" stroke="#c2bb20" stroke-width="5.6"/><path d="M189.4 95.3 L183.4 93.7" stroke="#c2bb20" stroke-width="5.6"/><path d="M183.4 93.7 L177.4 92.0" stroke="#c43030" stroke-width="5.6"/><circle cx="200.4" cy="71.2" r="2.2" fill="#e6de28"/><circle cx="177.4" cy="92.0" r="2.2" fill="#ea4040"/><circle cx="208.0" cy="77.7" r="2.2" fill="#ea4040"/><circle cx="189.4" cy="95.3" r="2.2" fill="#e6de28"/><circle cx="185.0" cy="64.6" r="2.2" fill="#ea4040"/><circle cx="203.6" cy="86.5" r="2.2" fill="#e6de28"/><path d="M185.0 64.6 L192.7 67.9" stroke="#ea4040" stroke-width="4.5"/><path d="M192.7 67.9 L200.4 71.2" stroke="#e6de28" stroke-width="4.5"/><path d="M200.4 71.2 L204.2 74.5" stroke="#e6de28" stroke-width="4.5"/><path d="M204.2 74.5 L208.0 77.7" stroke="#ea4040" stroke-width="4.5"/><path d="M200.4 71.2 L202.0 78.8" stroke="#e6de28" stroke-width="4.5"/><path d="M202.0 78.8 L203.6 86.5" stroke="#e6de28" stroke-width="4.5"/><path d="M203.6 86.5 L196.5 90.9" stroke="#e6de28" stroke-width="4.5"/><path d="M196.5 90.9 L189.4 95.3" stroke="#e6de28" stroke-width="4.5"/><path d="M189.4 95.3 L183.4 93.7" stroke="#e6de28" stroke-width="4.5"/><path d="M183.4 93.7 L177.4 92.0" stroke="#ea4040" stroke-width="4.5"/><g stroke-linecap="round" opacity="0.8"><path d="M184.1 63.7 L191.8 67.0" stroke="#f88888" stroke-width="1.6"/><path d="M191.8 67.0 L199.5 70.3" stroke="#f4f070" stroke-width="1.6"/><path d="M199.5 70.3 L203.3 73.6" stroke="#f4f070" stroke-width="1.6"/><path d="M203.3 73.6 L207.1 76.8" stroke="#f88888" stroke-width="1.6"/><path d="M199.5 70.3 L201.1 78.0" stroke="#f4f070" stroke-width="1.6"/><path d="M201.1 78.0 L202.7 85.6" stroke="#f4f070" stroke-width="1.6"/><path d="M202.7 85.6 L195.6 90.0" stroke="#f4f070" stroke-width="1.6"/><path d="M195.6 90.0 L188.5 94.4" stroke="#f4f070" stroke-width="1.6"/><path d="M188.5 94.4 L182.5 92.8" stroke="#f4f070" stroke-width="1.6"/><path d="M182.5 92.8 L176.5 91.1" stroke="#f88888" stroke-width="1.6"/></g></g>
<g fill="none"><circle cx="255.3" cy="88.2" r="3.3" fill="#c2bb20"/><circle cx="236.0" cy="106.0" r="3.3" fill="#c2bb20"/><circle cx="230.8" cy="135.5" r="3.3" fill="#c43030"/><circle cx="274.6" cy="82.9" r="3.3" fill="#1820a0"/><circle cx="227.3" cy="117.0" r="3.3" fill="#c2bb20"/><circle cx="208.0" cy="109.2" r="3.3" fill="#c43030"/><circle cx="259.7" cy="101.3" r="3.3" fill="#c2bb20"/><path d="M274.6 82.9 L265.0 85.6" stroke="#1820a0" stroke-width="6.6"/><path d="M265.0 85.6 L255.3 88.2" stroke="#c2bb20" stroke-width="6.6"/><path d="M255.3 88.2 L257.5 94.8" stroke="#c2bb20" stroke-width="6.6"/><path d="M257.5 94.8 L259.7 101.3" stroke="#c2bb20" stroke-width="6.6"/><path d="M255.3 88.2 L245.7 97.1" stroke="#c2bb20" stroke-width="6.6"/><path d="M245.7 97.1 L236.0 106.0" stroke="#c2bb20" stroke-width="6.6"/><path d="M236.0 106.0 L231.7 111.5" stroke="#c2bb20" stroke-width="6.6"/><path d="M231.7 111.5 L227.3 117.0" stroke="#c2bb20" stroke-width="6.6"/><path d="M227.3 117.0 L217.7 113.1" stroke="#c2bb20" stroke-width="6.6"/><path d="M217.7 113.1 L208.0 109.2" stroke="#c43030" stroke-width="6.6"/><path d="M227.3 117.0 L229.1 126.2" stroke="#c2bb20" stroke-width="6.6"/><path d="M229.1 126.2 L230.8 135.5" stroke="#c43030" stroke-width="6.6"/><circle cx="255.3" cy="88.2" r="2.6" fill="#e6de28"/><circle cx="236.0" cy="106.0" r="2.6" fill="#e6de28"/><circle cx="230.8" cy="135.5" r="2.6" fill="#ea4040"/><circle cx="274.6" cy="82.9" r="2.6" fill="#2434d8"/><circle cx="227.3" cy="117.0" r="2.6" fill="#e6de28"/><circle cx="208.0" cy="109.2" r="2.6" fill="#ea4040"/><circle cx="259.7" cy="101.3" r="2.6" fill="#e6de28"/><path d="M274.6 82.9 L265.0 85.6" stroke="#2434d8" stroke-width="5.3"/><path d="M265.0 85.6 L255.3 88.2" stroke="#e6de28" stroke-width="5.3"/><path d="M255.3 88.2 L257.5 94.8" stroke="#e6de28" stroke-width="5.3"/><path d="M257.5 94.8 L259.7 101.3" stroke="#e6de28" stroke-width="5.3"/><path d="M255.3 88.2 L245.7 97.1" stroke="#e6de28" stroke-width="5.3"/><path d="M245.7 97.1 L236.0 106.0" stroke="#e6de28" stroke-width="5.3"/><path d="M236.0 106.0 L231.7 111.5" stroke="#e6de28" stroke-width="5.3"/><path d="M231.7 111.5 L227.3 117.0" stroke="#e6de28" stroke-width="5.3"/><path d="M227.3 117.0 L217.7 113.1" stroke="#e6de28" stroke-width="5.3"/><path d="M217.7 113.1 L208.0 109.2" stroke="#ea4040" stroke-width="5.3"/><path d="M227.3 117.0 L229.1 126.2" stroke="#e6de28" stroke-width="5.3"/><path d="M229.1 126.2 L230.8 135.5" stroke="#ea4040" stroke-width="5.3"/><g stroke-linecap="round" opacity="0.8"><path d="M273.5 81.8 L263.9 84.5" stroke="#6470f0" stroke-width="1.8"/><path d="M263.9 84.5 L254.2 87.1" stroke="#f4f070" stroke-width="1.8"/><path d="M254.2 87.1 L256.4 93.7" stroke="#f4f070" stroke-width="1.8"/><path d="M256.4 93.7 L258.6 100.2" stroke="#f4f070" stroke-width="1.8"/><path d="M254.2 87.1 L244.6 96.0" stroke="#f4f070" stroke-width="1.8"/><path d="M244.6 96.0 L234.9 104.9" stroke="#f4f070" stroke-width="1.8"/><path d="M234.9 104.9 L230.6 110.4" stroke="#f4f070" stroke-width="1.8"/><path d="M230.6 110.4 L226.2 115.9" stroke="#f4f070" stroke-width="1.8"/><path d="M226.2 115.9 L216.6 112.0" stroke="#f4f070" stroke-width="1.8"/><path d="M216.6 112.0 L206.9 108.1" stroke="#f88888" stroke-width="1.8"/><path d="M226.2 115.9 L228.0 125.2" stroke="#f4f070" stroke-width="1.8"/><path d="M228.0 125.2 L229.7 134.4" stroke="#f88888" stroke-width="1.8"/></g></g>
<g fill="none"><circle cx="259.7" cy="101.3" r="3.3" fill="#c2bb20"/><circle cx="245.7" cy="97.0" r="3.3" fill="#c43030"/><path d="M259.7 101.3 L252.7 99.2" stroke="#c2bb20" stroke-width="6.6"/><path d="M252.7 99.2 L245.7 97.0" stroke="#c43030" stroke-width="6.6"/><circle cx="259.7" cy="101.3" r="2.6" fill="#e6de28"/><circle cx="245.7" cy="97.0" r="2.6" fill="#ea4040"/><path d="M259.7 101.3 L252.7 99.2" stroke="#e6de28" stroke-width="5.3"/><path d="M252.7 99.2 L245.7 97.0" stroke="#ea4040" stroke-width="5.3"/><g stroke-linecap="round" opacity="0.8"><path d="M258.6 100.2 L251.6 98.1" stroke="#f4f070" stroke-width="1.8"/><path d="M251.6 98.1 L244.6 95.9" stroke="#f88888" stroke-width="1.8"/></g></g>
<g fill="none"><circle cx="199.3" cy="144.9" r="2.0" fill="#c2bb20"/><circle cx="225.8" cy="143.5" r="2.0" fill="#1820a0"/><circle cx="222.3" cy="147.0" r="2.0" fill="#c2bb20"/><circle cx="195.0" cy="155.5" r="2.0" fill="#701010"/><path d="M222.3 147.0 L224.1 145.2" stroke="#c2bb20" stroke-width="4.0"/><path d="M224.1 145.2 L225.8 143.5" stroke="#1820a0" stroke-width="4.0"/><path d="M199.3 144.9 L197.2 150.2" stroke="#c2bb20" stroke-width="4.0"/><path d="M197.2 150.2 L195.0 155.5" stroke="#701010" stroke-width="4.0"/><circle cx="199.3" cy="144.9" r="1.6" fill="#e6de28"/><circle cx="225.8" cy="143.5" r="1.6" fill="#2434d8"/><circle cx="222.3" cy="147.0" r="1.6" fill="#e6de28"/><circle cx="195.0" cy="155.5" r="1.6" fill="#a01c1c"/><path d="M222.3 147.0 L224.1 145.2" stroke="#e6de28" stroke-width="3.2"/><path d="M224.1 145.2 L225.8 143.5" stroke="#2434d8" stroke-width="3.2"/><path d="M199.3 144.9 L197.2 150.2" stroke="#e6de28" stroke-width="3.2"/><path d="M197.2 150.2 L195.0 155.5" stroke="#a01c1c" stroke-width="3.2"/><g stroke-linecap="round" opacity="0.8"><path d="M221.7 146.4 L223.4 144.6" stroke="#f4f070" stroke-width="1.1"/><path d="M223.4 144.6 L225.2 142.9" stroke="#6470f0" stroke-width="1.1"/><path d="M198.7 144.3 L196.5 149.6" stroke="#f4f070" stroke-width="1.1"/><path d="M196.5 149.6 L194.4 154.9" stroke="#c04040" stroke-width="1.1"/></g></g>
<g fill="none"><circle cx="199.3" cy="144.9" r="2.8" fill="#c2bb20"/><circle cx="200.5" cy="157.0" r="2.8" fill="#c43030"/><circle cx="177.4" cy="143.8" r="2.8" fill="#aaaaaa"/><circle cx="206.0" cy="160.2" r="2.8" fill="#c2bb20"/><circle cx="222.3" cy="147.0" r="2.8" fill="#c2bb20"/><circle cx="188.3" cy="140.5" r="2.8" fill="#c43030"/><circle cx="219.0" cy="135.0" r="2.8" fill="#c2bb20"/><path d="M177.4 143.8 L182.9 142.2" stroke="#aaaaaa" stroke-width="5.6"/><path d="M182.9 142.2 L188.3 140.5" stroke="#c43030" stroke-width="5.6"/><path d="M188.3 140.5 L193.8 142.7" stroke="#c43030" stroke-width="5.6"/><path d="M193.8 142.7 L199.3 144.9" stroke="#c2bb20" stroke-width="5.6"/><path d="M199.3 144.9 L209.2 139.9" stroke="#c2bb20" stroke-width="5.6"/><path d="M209.2 139.9 L219.0 135.0" stroke="#c2bb20" stroke-width="5.6"/><path d="M219.0 135.0 L220.7 141.0" stroke="#c2bb20" stroke-width="5.6"/><path d="M220.7 141.0 L222.3 147.0" stroke="#c2bb20" stroke-width="5.6"/><path d="M222.3 147.0 L214.2 153.6" stroke="#c2bb20" stroke-width="5.6"/><path d="M214.2 153.6 L206.0 160.2" stroke="#c2bb20" stroke-width="5.6"/><path d="M206.0 160.2 L203.2 158.6" stroke="#c2bb20" stroke-width="5.6"/><path d="M203.2 158.6 L200.5 157.0" stroke="#c43030" stroke-width="5.6"/><path d="M200.5 157.0 L199.9 150.9" stroke="#c43030" stroke-width="5.6"/><path d="M199.9 150.9 L199.3 144.9" stroke="#c2bb20" stroke-width="5.6"/><circle cx="199.3" cy="144.9" r="2.2" fill="#e6de28"/><circle cx="200.5" cy="157.0" r="2.2" fill="#ea4040"/><circle cx="177.4" cy="143.8" r="2.2" fill="#dcdcdc"/><circle cx="206.0" cy="160.2" r="2.2" fill="#e6de28"/><circle cx="222.3" cy="147.0" r="2.2" fill="#e6de28"/><circle cx="188.3" cy="140.5" r="2.2" fill="#ea4040"/><circle cx="219.0" cy="135.0" r="2.2" fill="#e6de28"/><path d="M177.4 143.8 L182.9 142.2" stroke="#dcdcdc" stroke-width="4.5"/><path d="M182.9 142.2 L188.3 140.5" stroke="#ea4040" stroke-width="4.5"/><path d="M188.3 140.5 L193.8 142.7" stroke="#ea4040" stroke-width="4.5"/><path d="M193.8 142.7 L199.3 144.9" stroke="#e6de28" stroke-width="4.5"/><path d="M199.3 144.9 L209.2 139.9" stroke="#e6de28" stroke-width="4.5"/><path d="M209.2 139.9 L219.0 135.0" stroke="#e6de28" stroke-width="4.5"/><path d="M219.0 135.0 L220.7 141.0" stroke="#e6de28" stroke-width="4.5"/><path d="M220.7 141.0 L222.3 147.0" stroke="#e6de28" stroke-width="4.5"/><path d="M222.3 147.0 L214.2 153.6" stroke="#e6de28" stroke-width="4.5"/><path d="M214.2 153.6 L206.0 160.2" stroke="#e6de28" stroke-width="4.5"/><path d="M206.0 160.2 L203.2 158.6" stroke="#e6de28" stroke-width="4.5"/><path d="M203.2 158.6 L200.5 157.0" stroke="#ea4040" stroke-width="4.5"/><path d="M200.5 157.0 L199.9 150.9" stroke="#ea4040" stroke-width="4.5"/><path d="M199.9 150.9 L199.3 144.9" stroke="#e6de28" stroke-width="4.5"/><g stroke-linecap="round" opacity="0.8"><path d="M176.5 142.9 L182.0 141.3" stroke="#f6f6f6" stroke-width="1.6"/><path d="M182.0 141.3 L187.4 139.6" stroke="#f88888" stroke-width="1.6"/><path d="M187.4 139.6 L192.9 141.8" stroke="#f88888" stroke-width="1.6"/><path d="M192.9 141.8 L198.4 144.0" stroke="#f4f070" stroke-width="1.6"/><path d="M198.4 144.0 L208.3 139.1" stroke="#f4f070" stroke-width="1.6"/><path d="M208.3 139.1 L218.1 134.1" stroke="#f4f070" stroke-width="1.6"/><path d="M218.1 134.1 L219.8 140.1" stroke="#f4f070" stroke-width="1.6"/><path d="M219.8 140.1 L221.4 146.1" stroke="#f4f070" stroke-width="1.6"/><path d="M221.4 146.1 L213.3 152.7" stroke="#f4f070" stroke-width="1.6"/><path d="M213.3 152.7 L205.1 159.3" stroke="#f4f070" stroke-width="1.6"/><path d="M205.1 159.3 L202.4 157.7" stroke="#f4f070" stroke-width="1.6"/><path d="M202.4 157.7 L199.6 156.1" stroke="#f88888" stroke-width="1.6"/><path d="M199.6 156.1 L199.0 150.1" stroke="#f88888" stroke-width="1.6"/><path d="M199.0 150.1 L198.4 144.0" stroke="#f4f070" stroke-width="1.6"/></g></g>
<line x1="44.5" y1="69.3" x2="122.5" y2="83.5" stroke="#ea8f18" stroke-width="2.0" stroke-dasharray="3.1 5.8 3.1 5.8 3.1 5.8 3.1 5.8 3.1 5.8 3.1 5.8 3.1 5.8 3.1 14.6 3.1 30"/>
<line x1="134.0" y1="83.7" x2="198.0" y2="74.3" stroke="#4545d2" stroke-width="1.7" stroke-dasharray="0.1 3.3" stroke-linecap="round"/>
</g>
<text x="4.4" y="18.1" font-size="21.5">a</text>
<text x="110.5" y="36.0" font-size="11.5">&#8722;2</text>
<text x="120.0" y="88.8" font-size="11.5">&#8722;1</text>
<text x="125.0" y="152.5" font-size="11.5">+1</text>
<text x="49.3" y="66.3" font-size="15.5"><tspan class="i" font-size="18">&#958;</tspan><tspan class="b" font-size="10" dy="3">1</tspan><tspan dy="-3"> (&#197;)</tspan></text>
<text x="152.0" y="59.4" font-size="15.5"><tspan class="i">d</tspan><tspan class="b" font-size="10" dy="2">1</tspan><tspan dy="-2"> (&#197;)</tspan></text>
<text x="204.7" y="65.8" font-size="12.3">D305</text>
<text x="28.5" y="110.0" font-size="12.3">D269</text>
<text x="254.0" y="121.3" font-size="12.3">D424</text>
<text x="219.0" y="168.0" font-size="12.3">E356</text>
<clipPath id="cb1"><rect x="307.4" y="0" width="125.2" height="82"/></clipPath>
<g clip-path="url(#cb1)">
<rect x="307.4" y="0" width="125.2" height="82" fill="#fcfefb"/>
<g transform="translate(307.4 0)">
<g filter="url(#bl5)"><path d="M46 64 L96 60 L100 90 L44 90 Z" fill="#e8f3c8"/><path d="M84 0 L126 0 L126 36 L104 26 Z" fill="#e0f7dc"/><path d="M100 52 L126 46 L126 90 L96 90 Z" fill="#f0f3c8"/></g>
<g fill="none" stroke-linecap="round" filter="url(#bl2)"><path d="M28 0 C32 10 40 14 44 24 C46 30 42 34 38 30" stroke="#d2f3cf" stroke-width="3"/><path d="M66 0 C70 12 82 18 84 30" stroke="#daf5d7" stroke-width="2.5"/><path d="M0 76 C10 74 20 78 34 80" stroke="#dcebb8" stroke-width="3"/></g>
</g>
<g fill="none"><circle cx="409.9" cy="77.8" r="1.9" fill="#c43030"/><circle cx="408.0" cy="68.3" r="1.9" fill="#c43030"/><circle cx="420.4" cy="62.0" r="1.9" fill="#c43030"/><circle cx="437.4" cy="72.0" r="1.9" fill="#c2bb20"/><circle cx="417.4" cy="72.0" r="1.9" fill="#c2bb20"/><circle cx="427.4" cy="84.0" r="1.9" fill="#c2bb20"/><circle cx="429.4" cy="69.0" r="1.9" fill="#c2bb20"/><circle cx="417.4" cy="79.7" r="1.9" fill="#c2bb20"/><path d="M408.0 68.3 L412.7 70.2" stroke="#c43030" stroke-width="3.9"/><path d="M412.7 70.2 L417.4 72.0" stroke="#c2bb20" stroke-width="3.9"/><path d="M417.4 72.0 L423.4 70.5" stroke="#c2bb20" stroke-width="3.9"/><path d="M423.4 70.5 L429.4 69.0" stroke="#c2bb20" stroke-width="3.9"/><path d="M429.4 69.0 L433.4 70.5" stroke="#c2bb20" stroke-width="3.9"/><path d="M433.4 70.5 L437.4 72.0" stroke="#c2bb20" stroke-width="3.9"/><path d="M409.9 77.8 L413.6 78.8" stroke="#c43030" stroke-width="3.9"/><path d="M413.6 78.8 L417.4 79.7" stroke="#c2bb20" stroke-width="3.9"/><path d="M417.4 79.7 L422.4 81.8" stroke="#c2bb20" stroke-width="3.9"/><path d="M422.4 81.8 L427.4 84.0" stroke="#c2bb20" stroke-width="3.9"/><path d="M429.4 69.0 L424.9 65.5" stroke="#c2bb20" stroke-width="3.9"/><path d="M424.9 65.5 L420.4 62.0" stroke="#c43030" stroke-width="3.9"/><circle cx="409.9" cy="77.8" r="1.6" fill="#ea4040"/><circle cx="408.0" cy="68.3" r="1.6" fill="#ea4040"/><circle cx="420.4" cy="62.0" r="1.6" fill="#ea4040"/><circle cx="437.4" cy="72.0" r="1.6" fill="#e6de28"/><circle cx="417.4" cy="72.0" r="1.6" fill="#e6de28"/><circle cx="427.4" cy="84.0" r="1.6" fill="#e6de28"/><circle cx="429.4" cy="69.0" r="1.6" fill="#e6de28"/><circle cx="417.4" cy="79.7" r="1.6" fill="#e6de28"/><path d="M408.0 68.3 L412.7 70.2" stroke="#ea4040" stroke-width="3.1"/><path d="M412.7 70.2 L417.4 72.0" stroke="#e6de28" stroke-width="3.1"/><path d="M417.4 72.0 L423.4 70.5" stroke="#e6de28" stroke-width="3.1"/><path d="M423.4 70.5 L429.4 69.0" stroke="#e6de28" stroke-width="3.1"/><path d="M429.4 69.0 L433.4 70.5" stroke="#e6de28" stroke-width="3.1"/><path d="M433.4 70.5 L437.4 72.0" stroke="#e6de28" stroke-width="3.1"/><path d="M409.9 77.8 L413.6 78.8" stroke="#ea4040" stroke-width="3.1"/><path d="M413.6 78.8 L417.4 79.7" stroke="#e6de28" stroke-width="3.1"/><path d="M417.4 79.7 L422.4 81.8" stroke="#e6de28" stroke-width="3.1"/><path d="M422.4 81.8 L427.4 84.0" stroke="#e6de28" stroke-width="3.1"/><path d="M429.4 69.0 L424.9 65.5" stroke="#e6de28" stroke-width="3.1"/><path d="M424.9 65.5 L420.4 62.0" stroke="#ea4040" stroke-width="3.1"/></g>
<g fill="none"><circle cx="430.9" cy="41.8" r="1.3" fill="#1820a0"/><circle cx="424.9" cy="45.0" r="1.3" fill="#c2bb20"/><path d="M424.9 45.0 L427.9 43.4" stroke="#c2bb20" stroke-width="2.6"/><path d="M427.9 43.4 L430.9 41.8" stroke="#1820a0" stroke-width="2.6"/><circle cx="430.9" cy="41.8" r="1.0" fill="#2434d8"/><circle cx="424.9" cy="45.0" r="1.0" fill="#e6de28"/><path d="M424.9 45.0 L427.9 43.4" stroke="#e6de28" stroke-width="2.1"/><path d="M427.9 43.4 L430.9 41.8" stroke="#2434d8" stroke-width="2.1"/></g>
<g fill="none"><circle cx="418.4" cy="35.5" r="1.9" fill="#c2bb20"/><circle cx="423.4" cy="38.6" r="1.9" fill="#c43030"/><circle cx="426.9" cy="33.8" r="1.9" fill="#c2bb20"/><circle cx="424.9" cy="45.0" r="1.9" fill="#c2bb20"/><circle cx="428.4" cy="37.0" r="1.9" fill="#c2bb20"/><circle cx="412.4" cy="46.8" r="1.9" fill="#c2bb20"/><circle cx="409.9" cy="31.5" r="1.9" fill="#c43030"/><path d="M409.9 31.5 L414.1 33.5" stroke="#c43030" stroke-width="3.7"/><path d="M414.1 33.5 L418.4 35.5" stroke="#c2bb20" stroke-width="3.7"/><path d="M418.4 35.5 L420.9 37.0" stroke="#c2bb20" stroke-width="3.7"/><path d="M420.9 37.0 L423.4 38.6" stroke="#c43030" stroke-width="3.7"/><path d="M418.4 35.5 L422.6 34.6" stroke="#c2bb20" stroke-width="3.7"/><path d="M422.6 34.6 L426.9 33.8" stroke="#c2bb20" stroke-width="3.7"/><path d="M412.4 46.8 L418.6 45.9" stroke="#c2bb20" stroke-width="3.7"/><path d="M418.6 45.9 L424.9 45.0" stroke="#c2bb20" stroke-width="3.7"/><path d="M424.9 45.0 L426.6 41.0" stroke="#c2bb20" stroke-width="3.7"/><path d="M426.6 41.0 L428.4 37.0" stroke="#c2bb20" stroke-width="3.7"/><path d="M428.4 37.0 L427.6 35.4" stroke="#c2bb20" stroke-width="3.7"/><path d="M427.6 35.4 L426.9 33.8" stroke="#c2bb20" stroke-width="3.7"/><circle cx="418.4" cy="35.5" r="1.5" fill="#e6de28"/><circle cx="423.4" cy="38.6" r="1.5" fill="#ea4040"/><circle cx="426.9" cy="33.8" r="1.5" fill="#e6de28"/><circle cx="424.9" cy="45.0" r="1.5" fill="#e6de28"/><circle cx="428.4" cy="37.0" r="1.5" fill="#e6de28"/><circle cx="412.4" cy="46.8" r="1.5" fill="#e6de28"/><circle cx="409.9" cy="31.5" r="1.5" fill="#ea4040"/><path d="M409.9 31.5 L414.1 33.5" stroke="#ea4040" stroke-width="3.0"/><path d="M414.1 33.5 L418.4 35.5" stroke="#e6de28" stroke-width="3.0"/><path d="M418.4 35.5 L420.9 37.0" stroke="#e6de28" stroke-width="3.0"/><path d="M420.9 37.0 L423.4 38.6" stroke="#ea4040" stroke-width="3.0"/><path d="M418.4 35.5 L422.6 34.6" stroke="#e6de28" stroke-width="3.0"/><path d="M422.6 34.6 L426.9 33.8" stroke="#e6de28" stroke-width="3.0"/><path d="M412.4 46.8 L418.6 45.9" stroke="#e6de28" stroke-width="3.0"/><path d="M418.6 45.9 L424.9 45.0" stroke="#e6de28" stroke-width="3.0"/><path d="M424.9 45.0 L426.6 41.0" stroke="#e6de28" stroke-width="3.0"/><path d="M426.6 41.0 L428.4 37.0" stroke="#e6de28" stroke-width="3.0"/><path d="M428.4 37.0 L427.6 35.4" stroke="#e6de28" stroke-width="3.0"/><path d="M427.6 35.4 L426.9 33.8" stroke="#e6de28" stroke-width="3.0"/></g>
<g fill="none"><circle cx="308.9" cy="38.5" r="1.4" fill="#1820a0"/><circle cx="311.0" cy="37.5" r="1.4" fill="#bc18a2"/><path d="M311.0 37.5 L309.9 38.0" stroke="#bc18a2" stroke-width="2.8"/><path d="M309.9 38.0 L308.9 38.5" stroke="#1820a0" stroke-width="2.8"/><circle cx="308.9" cy="38.5" r="1.1" fill="#2434d8"/><circle cx="311.0" cy="37.5" r="1.1" fill="#e424c6"/><path d="M311.0 37.5 L309.9 38.0" stroke="#e424c6" stroke-width="2.2"/><path d="M309.9 38.0 L308.9 38.5" stroke="#2434d8" stroke-width="2.2"/></g>
<g fill="none"><circle cx="322.0" cy="54.8" r="1.5" fill="#bc18a2"/><circle cx="323.7" cy="52.3" r="1.5" fill="#701010"/><path d="M322.0 54.8 L322.9 53.5" stroke="#bc18a2" stroke-width="3.0"/><path d="M322.9 53.5 L323.7 52.3" stroke="#701010" stroke-width="3.0"/><circle cx="322.0" cy="54.8" r="1.2" fill="#e424c6"/><circle cx="323.7" cy="52.3" r="1.2" fill="#a01c1c"/><path d="M322.0 54.8 L322.9 53.5" stroke="#e424c6" stroke-width="2.4"/><path d="M322.9 53.5 L323.7 52.3" stroke="#a01c1c" stroke-width="2.4"/></g>
<g fill="none"><circle cx="319.4" cy="30.0" r="1.9" fill="#bc18a2"/><circle cx="313.6" cy="47.5" r="1.9" fill="#bc18a2"/><circle cx="311.0" cy="37.5" r="1.9" fill="#bc18a2"/><circle cx="327.9" cy="60.2" r="1.9" fill="#c43030"/><circle cx="324.3" cy="27.0" r="1.9" fill="#c43030"/><circle cx="322.0" cy="54.8" r="1.9" fill="#bc18a2"/><path d="M324.3 27.0 L321.8 28.5" stroke="#c43030" stroke-width="3.9"/><path d="M321.8 28.5 L319.4 30.0" stroke="#bc18a2" stroke-width="3.9"/><path d="M319.4 30.0 L315.2 33.8" stroke="#bc18a2" stroke-width="3.9"/><path d="M315.2 33.8 L311.0 37.5" stroke="#bc18a2" stroke-width="3.9"/><path d="M311.0 37.5 L312.3 42.5" stroke="#bc18a2" stroke-width="3.9"/><path d="M312.3 42.5 L313.6 47.5" stroke="#bc18a2" stroke-width="3.9"/><path d="M313.6 47.5 L317.8 51.1" stroke="#bc18a2" stroke-width="3.9"/><path d="M317.8 51.1 L322.0 54.8" stroke="#bc18a2" stroke-width="3.9"/><path d="M322.0 54.8 L324.9 57.5" stroke="#bc18a2" stroke-width="3.9"/><path d="M324.9 57.5 L327.9 60.2" stroke="#c43030" stroke-width="3.9"/><circle cx="319.4" cy="30.0" r="1.6" fill="#e424c6"/><circle cx="313.6" cy="47.5" r="1.6" fill="#e424c6"/><circle cx="311.0" cy="37.5" r="1.6" fill="#e424c6"/><circle cx="327.9" cy="60.2" r="1.6" fill="#ea4040"/><circle cx="324.3" cy="27.0" r="1.6" fill="#ea4040"/><circle cx="322.0" cy="54.8" r="1.6" fill="#e424c6"/><path d="M324.3 27.0 L321.8 28.5" stroke="#ea4040" stroke-width="3.1"/><path d="M321.8 28.5 L319.4 30.0" stroke="#e424c6" stroke-width="3.1"/><path d="M319.4 30.0 L315.2 33.8" stroke="#e424c6" stroke-width="3.1"/><path d="M315.2 33.8 L311.0 37.5" stroke="#e424c6" stroke-width="3.1"/><path d="M311.0 37.5 L312.3 42.5" stroke="#e424c6" stroke-width="3.1"/><path d="M312.3 42.5 L313.6 47.5" stroke="#e424c6" stroke-width="3.1"/><path d="M313.6 47.5 L317.8 51.1" stroke="#e424c6" stroke-width="3.1"/><path d="M317.8 51.1 L322.0 54.8" stroke="#e424c6" stroke-width="3.1"/><path d="M322.0 54.8 L324.9 57.5" stroke="#e424c6" stroke-width="3.1"/><path d="M324.9 57.5 L327.9 60.2" stroke="#ea4040" stroke-width="3.1"/></g>
<g fill="none"><circle cx="347.2" cy="40.8" r="2.0" fill="#25ac30"/><circle cx="360.5" cy="71.2" r="2.0" fill="#25ac30"/><circle cx="347.5" cy="90.0" r="2.0" fill="#c43030"/><circle cx="356.7" cy="29.4" r="2.0" fill="#25ac30"/><circle cx="357.7" cy="4.7" r="2.0" fill="#25ac30"/><circle cx="369.0" cy="36.0" r="2.0" fill="#25ac30"/><circle cx="333.0" cy="68.3" r="2.0" fill="#c43030"/><circle cx="350.0" cy="77.8" r="2.0" fill="#25ac30"/><circle cx="359.6" cy="54.0" r="2.0" fill="#25ac30"/><circle cx="339.6" cy="73.0" r="2.0" fill="#25ac30"/><circle cx="378.5" cy="51.2" r="2.0" fill="#c43030"/><circle cx="376.6" cy="30.4" r="2.0" fill="#c43030"/><circle cx="373.5" cy="90.0" r="2.0" fill="#c43030"/><circle cx="331.5" cy="27.5" r="2.0" fill="#c43030"/><circle cx="369.0" cy="46.5" r="2.0" fill="#25ac30"/><circle cx="381.4" cy="72.1" r="2.0" fill="#c43030"/><circle cx="362.0" cy="2.0" r="2.0" fill="#c43030"/><circle cx="360.5" cy="12.3" r="2.0" fill="#25ac30"/><circle cx="340.0" cy="-4.0" r="2.0" fill="#25ac30"/><circle cx="372.8" cy="76.9" r="2.0" fill="#25ac30"/><circle cx="336.8" cy="35.1" r="2.0" fill="#25ac30"/><circle cx="350.0" cy="48.4" r="2.0" fill="#c43030"/><circle cx="359.6" cy="62.6" r="2.0" fill="#c43030"/><circle cx="347.0" cy="0.5" r="2.0" fill="#25ac30"/><circle cx="353.9" cy="20.9" r="2.0" fill="#c43030"/><path d="M356.7 29.4 L362.9 32.7" stroke="#25ac30" stroke-width="4.1"/><path d="M362.9 32.7 L369.0 36.0" stroke="#25ac30" stroke-width="4.1"/><path d="M369.0 36.0 L369.0 41.2" stroke="#25ac30" stroke-width="4.1"/><path d="M369.0 41.2 L369.0 46.5" stroke="#25ac30" stroke-width="4.1"/><path d="M369.0 46.5 L364.3 50.2" stroke="#25ac30" stroke-width="4.1"/><path d="M364.3 50.2 L359.6 54.0" stroke="#25ac30" stroke-width="4.1"/><path d="M359.6 54.0 L354.8 51.2" stroke="#25ac30" stroke-width="4.1"/><path d="M354.8 51.2 L350.0 48.4" stroke="#c43030" stroke-width="4.1"/><path d="M350.0 48.4 L348.6 44.6" stroke="#c43030" stroke-width="4.1"/><path d="M348.6 44.6 L347.2 40.8" stroke="#25ac30" stroke-width="4.1"/><path d="M347.2 40.8 L351.9 35.1" stroke="#25ac30" stroke-width="4.1"/><path d="M351.9 35.1 L356.7 29.4" stroke="#25ac30" stroke-width="4.1"/><path d="M347.2 40.8 L342.0 38.0" stroke="#25ac30" stroke-width="4.1"/><path d="M342.0 38.0 L336.8 35.1" stroke="#25ac30" stroke-width="4.1"/><path d="M336.8 35.1 L334.1 31.3" stroke="#25ac30" stroke-width="4.1"/><path d="M334.1 31.3 L331.5 27.5" stroke="#c43030" stroke-width="4.1"/><path d="M356.7 29.4 L355.3 25.1" stroke="#25ac30" stroke-width="4.1"/><path d="M355.3 25.1 L353.9 20.9" stroke="#c43030" stroke-width="4.1"/><path d="M353.9 20.9 L357.2 16.6" stroke="#c43030" stroke-width="4.1"/><path d="M357.2 16.6 L360.5 12.3" stroke="#25ac30" stroke-width="4.1"/><path d="M360.5 12.3 L359.1 8.5" stroke="#25ac30" stroke-width="4.1"/><path d="M359.1 8.5 L357.7 4.7" stroke="#25ac30" stroke-width="4.1"/><path d="M357.7 4.7 L352.4 2.6" stroke="#25ac30" stroke-width="4.1"/><path d="M352.4 2.6 L347.0 0.5" stroke="#25ac30" stroke-width="4.1"/><path d="M357.7 4.7 L359.9 3.4" stroke="#25ac30" stroke-width="4.1"/><path d="M359.9 3.4 L362.0 2.0" stroke="#c43030" stroke-width="4.1"/><path d="M347.0 0.5 L343.5 -1.8" stroke="#25ac30" stroke-width="4.1"/><path d="M343.5 -1.8 L340.0 -4.0" stroke="#25ac30" stroke-width="4.1"/><path d="M369.0 36.0 L372.8 33.2" stroke="#25ac30" stroke-width="4.1"/><path d="M372.8 33.2 L376.6 30.4" stroke="#c43030" stroke-width="4.1"/><path d="M369.0 46.5 L373.8 48.9" stroke="#25ac30" stroke-width="4.1"/><path d="M373.8 48.9 L378.5 51.2" stroke="#c43030" stroke-width="4.1"/><path d="M359.6 54.0 L359.6 58.3" stroke="#25ac30" stroke-width="4.1"/><path d="M359.6 58.3 L359.6 62.6" stroke="#c43030" stroke-width="4.1"/><path d="M359.6 62.6 L360.1 66.9" stroke="#c43030" stroke-width="4.1"/><path d="M360.1 66.9 L360.5 71.2" stroke="#25ac30" stroke-width="4.1"/><path d="M360.5 71.2 L355.2 74.5" stroke="#25ac30" stroke-width="4.1"/><path d="M355.2 74.5 L350.0 77.8" stroke="#25ac30" stroke-width="4.1"/><path d="M350.0 77.8 L344.8 75.4" stroke="#25ac30" stroke-width="4.1"/><path d="M344.8 75.4 L339.6 73.0" stroke="#25ac30" stroke-width="4.1"/><path d="M339.6 73.0 L336.3 70.7" stroke="#25ac30" stroke-width="4.1"/><path d="M336.3 70.7 L333.0 68.3" stroke="#c43030" stroke-width="4.1"/><path d="M360.5 71.2 L366.6 74.1" stroke="#25ac30" stroke-width="4.1"/><path d="M366.6 74.1 L372.8 76.9" stroke="#25ac30" stroke-width="4.1"/><path d="M372.8 76.9 L377.1 74.5" stroke="#25ac30" stroke-width="4.1"/><path d="M377.1 74.5 L381.4 72.1" stroke="#c43030" stroke-width="4.1"/><path d="M350.0 77.8 L348.8 83.9" stroke="#25ac30" stroke-width="4.1"/><path d="M348.8 83.9 L347.5 90.0" stroke="#c43030" stroke-width="4.1"/><path d="M372.8 76.9 L373.1 83.5" stroke="#25ac30" stroke-width="4.1"/><path d="M373.1 83.5 L373.5 90.0" stroke="#c43030" stroke-width="4.1"/><circle cx="347.2" cy="40.8" r="1.6" fill="#2fd03c"/><circle cx="360.5" cy="71.2" r="1.6" fill="#2fd03c"/><circle cx="347.5" cy="90.0" r="1.6" fill="#ea4040"/><circle cx="356.7" cy="29.4" r="1.6" fill="#2fd03c"/><circle cx="357.7" cy="4.7" r="1.6" fill="#2fd03c"/><circle cx="369.0" cy="36.0" r="1.6" fill="#2fd03c"/><circle cx="333.0" cy="68.3" r="1.6" fill="#ea4040"/><circle cx="350.0" cy="77.8" r="1.6" fill="#2fd03c"/><circle cx="359.6" cy="54.0" r="1.6" fill="#2fd03c"/><circle cx="339.6" cy="73.0" r="1.6" fill="#2fd03c"/><circle cx="378.5" cy="51.2" r="1.6" fill="#ea4040"/><circle cx="376.6" cy="30.4" r="1.6" fill="#ea4040"/><circle cx="373.5" cy="90.0" r="1.6" fill="#ea4040"/><circle cx="331.5" cy="27.5" r="1.6" fill="#ea4040"/><circle cx="369.0" cy="46.5" r="1.6" fill="#2fd03c"/><circle cx="381.4" cy="72.1" r="1.6" fill="#ea4040"/><circle cx="362.0" cy="2.0" r="1.6" fill="#ea4040"/><circle cx="360.5" cy="12.3" r="1.6" fill="#2fd03c"/><circle cx="340.0" cy="-4.0" r="1.6" fill="#2fd03c"/><circle cx="372.8" cy="76.9" r="1.6" fill="#2fd03c"/><circle cx="336.8" cy="35.1" r="1.6" fill="#2fd03c"/><circle cx="350.0" cy="48.4" r="1.6" fill="#ea4040"/><circle cx="359.6" cy="62.6" r="1.6" fill="#ea4040"/><circle cx="347.0" cy="0.5" r="1.6" fill="#2fd03c"/><circle cx="353.9" cy="20.9" r="1.6" fill="#ea4040"/><path d="M356.7 29.4 L362.9 32.7" stroke="#2fd03c" stroke-width="3.3"/><path d="M362.9 32.7 L369.0 36.0" stroke="#2fd03c" stroke-width="3.3"/><path d="M369.0 36.0 L369.0 41.2" stroke="#2fd03c" stroke-width="3.3"/><path d="M369.0 41.2 L369.0 46.5" stroke="#2fd03c" stroke-width="3.3"/><path d="M369.0 46.5 L364.3 50.2" stroke="#2fd03c" stroke-width="3.3"/><path d="M364.3 50.2 L359.6 54.0" stroke="#2fd03c" stroke-width="3.3"/><path d="M359.6 54.0 L354.8 51.2" stroke="#2fd03c" stroke-width="3.3"/><path d="M354.8 51.2 L350.0 48.4" stroke="#ea4040" stroke-width="3.3"/><path d="M350.0 48.4 L348.6 44.6" stroke="#ea4040" stroke-width="3.3"/><path d="M348.6 44.6 L347.2 40.8" stroke="#2fd03c" stroke-width="3.3"/><path d="M347.2 40.8 L351.9 35.1" stroke="#2fd03c" stroke-width="3.3"/><path d="M351.9 35.1 L356.7 29.4" stroke="#2fd03c" stroke-width="3.3"/><path d="M347.2 40.8 L342.0 38.0" stroke="#2fd03c" stroke-width="3.3"/><path d="M342.0 38.0 L336.8 35.1" stroke="#2fd03c" stroke-width="3.3"/><path d="M336.8 35.1 L334.1 31.3" stroke="#2fd03c" stroke-width="3.3"/><path d="M334.1 31.3 L331.5 27.5" stroke="#ea4040" stroke-width="3.3"/><path d="M356.7 29.4 L355.3 25.1" stroke="#2fd03c" stroke-width="3.3"/><path d="M355.3 25.1 L353.9 20.9" stroke="#ea4040" stroke-width="3.3"/><path d="M353.9 20.9 L357.2 16.6" stroke="#ea4040" stroke-width="3.3"/><path d="M357.2 16.6 L360.5 12.3" stroke="#2fd03c" stroke-width="3.3"/><path d="M360.5 12.3 L359.1 8.5" stroke="#2fd03c" stroke-width="3.3"/><path d="M359.1 8.5 L357.7 4.7" stroke="#2fd03c" stroke-width="3.3"/><path d="M357.7 4.7 L352.4 2.6" stroke="#2fd03c" stroke-width="3.3"/><path d="M352.4 2.6 L347.0 0.5" stroke="#2fd03c" stroke-width="3.3"/><path d="M357.7 4.7 L359.9 3.4" stroke="#2fd03c" stroke-width="3.3"/><path d="M359.9 3.4 L362.0 2.0" stroke="#ea4040" stroke-width="3.3"/><path d="M347.0 0.5 L343.5 -1.8" stroke="#2fd03c" stroke-width="3.3"/><path d="M343.5 -1.8 L340.0 -4.0" stroke="#2fd03c" stroke-width="3.3"/><path d="M369.0 36.0 L372.8 33.2" stroke="#2fd03c" stroke-width="3.3"/><path d="M372.8 33.2 L376.6 30.4" stroke="#ea4040" stroke-width="3.3"/><path d="M369.0 46.5 L373.8 48.9" stroke="#2fd03c" stroke-width="3.3"/><path d="M373.8 48.9 L378.5 51.2" stroke="#ea4040" stroke-width="3.3"/><path d="M359.6 54.0 L359.6 58.3" stroke="#2fd03c" stroke-width="3.3"/><path d="M359.6 58.3 L359.6 62.6" stroke="#ea4040" stroke-width="3.3"/><path d="M359.6 62.6 L360.1 66.9" stroke="#ea4040" stroke-width="3.3"/><path d="M360.1 66.9 L360.5 71.2" stroke="#2fd03c" stroke-width="3.3"/><path d="M360.5 71.2 L355.2 74.5" stroke="#2fd03c" stroke-width="3.3"/><path d="M355.2 74.5 L350.0 77.8" stroke="#2fd03c" stroke-width="3.3"/><path d="M350.0 77.8 L344.8 75.4" stroke="#2fd03c" stroke-width="3.3"/><path d="M344.8 75.4 L339.6 73.0" stroke="#2fd03c" stroke-width="3.3"/><path d="M339.6 73.0 L336.3 70.7" stroke="#2fd03c" stroke-width="3.3"/><path d="M336.3 70.7 L333.0 68.3" stroke="#ea4040" stroke-width="3.3"/><path d="M360.5 71.2 L366.6 74.1" stroke="#2fd03c" stroke-width="3.3"/><path d="M366.6 74.1 L372.8 76.9" stroke="#2fd03c" stroke-width="3.3"/><path d="M372.8 76.9 L377.1 74.5" stroke="#2fd03c" stroke-width="3.3"/><path d="M377.1 74.5 L381.4 72.1" stroke="#ea4040" stroke-width="3.3"/><path d="M350.0 77.8 L348.8 83.9" stroke="#2fd03c" stroke-width="3.3"/><path d="M348.8 83.9 L347.5 90.0" stroke="#ea4040" stroke-width="3.3"/><path d="M372.8 76.9 L373.1 83.5" stroke="#2fd03c" stroke-width="3.3"/><path d="M373.1 83.5 L373.5 90.0" stroke="#ea4040" stroke-width="3.3"/></g>
</g>
<clipPath id="cb2"><rect x="433.2" y="0" width="124.4" height="82"/></clipPath>
<g clip-path="url(#cb2)">
<rect x="433.2" y="0" width="124.4" height="82" fill="#fcfefb"/>
<g transform="translate(433.2 0)">
<g filter="url(#bl5)"><path d="M46 64 L96 60 L100 90 L44 90 Z" fill="#e8f3c8"/><path d="M84 0 L126 0 L126 36 L104 26 Z" fill="#e0f7dc"/><path d="M100 52 L126 46 L126 90 L96 90 Z" fill="#f0f3c8"/></g>
<g fill="none" stroke-linecap="round" filter="url(#bl2)"><path d="M28 0 C32 10 40 14 44 24 C46 30 42 34 38 30" stroke="#d2f3cf" stroke-width="3"/><path d="M66 0 C70 12 82 18 84 30" stroke="#daf5d7" stroke-width="2.5"/><path d="M0 76 C10 74 20 78 34 80" stroke="#dcebb8" stroke-width="3"/></g>
</g>
<g fill="none"><circle cx="535.7" cy="77.8" r="1.9" fill="#c43030"/><circle cx="533.8" cy="68.3" r="1.9" fill="#c43030"/><circle cx="546.2" cy="62.0" r="1.9" fill="#c43030"/><circle cx="563.2" cy="72.0" r="1.9" fill="#c2bb20"/><circle cx="543.2" cy="72.0" r="1.9" fill="#c2bb20"/><circle cx="553.2" cy="84.0" r="1.9" fill="#c2bb20"/><circle cx="555.2" cy="69.0" r="1.9" fill="#c2bb20"/><circle cx="543.2" cy="79.7" r="1.9" fill="#c2bb20"/><path d="M533.8 68.3 L538.5 70.2" stroke="#c43030" stroke-width="3.9"/><path d="M538.5 70.2 L543.2 72.0" stroke="#c2bb20" stroke-width="3.9"/><path d="M543.2 72.0 L549.2 70.5" stroke="#c2bb20" stroke-width="3.9"/><path d="M549.2 70.5 L555.2 69.0" stroke="#c2bb20" stroke-width="3.9"/><path d="M555.2 69.0 L559.2 70.5" stroke="#c2bb20" stroke-width="3.9"/><path d="M559.2 70.5 L563.2 72.0" stroke="#c2bb20" stroke-width="3.9"/><path d="M535.7 77.8 L539.5 78.8" stroke="#c43030" stroke-width="3.9"/><path d="M539.5 78.8 L543.2 79.7" stroke="#c2bb20" stroke-width="3.9"/><path d="M543.2 79.7 L548.2 81.8" stroke="#c2bb20" stroke-width="3.9"/><path d="M548.2 81.8 L553.2 84.0" stroke="#c2bb20" stroke-width="3.9"/><path d="M555.2 69.0 L550.7 65.5" stroke="#c2bb20" stroke-width="3.9"/><path d="M550.7 65.5 L546.2 62.0" stroke="#c43030" stroke-width="3.9"/><circle cx="535.7" cy="77.8" r="1.6" fill="#ea4040"/><circle cx="533.8" cy="68.3" r="1.6" fill="#ea4040"/><circle cx="546.2" cy="62.0" r="1.6" fill="#ea4040"/><circle cx="563.2" cy="72.0" r="1.6" fill="#e6de28"/><circle cx="543.2" cy="72.0" r="1.6" fill="#e6de28"/><circle cx="553.2" cy="84.0" r="1.6" fill="#e6de28"/><circle cx="555.2" cy="69.0" r="1.6" fill="#e6de28"/><circle cx="543.2" cy="79.7" r="1.6" fill="#e6de28"/><path d="M533.8 68.3 L538.5 70.2" stroke="#ea4040" stroke-width="3.1"/><path d="M538.5 70.2 L543.2 72.0" stroke="#e6de28" stroke-width="3.1"/><path d="M543.2 72.0 L549.2 70.5" stroke="#e6de28" stroke-width="3.1"/><path d="M549.2 70.5 L555.2 69.0" stroke="#e6de28" stroke-width="3.1"/><path d="M555.2 69.0 L559.2 70.5" stroke="#e6de28" stroke-width="3.1"/><path d="M559.2 70.5 L563.2 72.0" stroke="#e6de28" stroke-width="3.1"/><path d="M535.7 77.8 L539.5 78.8" stroke="#ea4040" stroke-width="3.1"/><path d="M539.5 78.8 L543.2 79.7" stroke="#e6de28" stroke-width="3.1"/><path d="M543.2 79.7 L548.2 81.8" stroke="#e6de28" stroke-width="3.1"/><path d="M548.2 81.8 L553.2 84.0" stroke="#e6de28" stroke-width="3.1"/><path d="M555.2 69.0 L550.7 65.5" stroke="#e6de28" stroke-width="3.1"/><path d="M550.7 65.5 L546.2 62.0" stroke="#ea4040" stroke-width="3.1"/></g>
<g fill="none"><circle cx="556.7" cy="41.8" r="1.3" fill="#1820a0"/><circle cx="550.7" cy="45.0" r="1.3" fill="#c2bb20"/><path d="M550.7 45.0 L553.7 43.4" stroke="#c2bb20" stroke-width="2.6"/><path d="M553.7 43.4 L556.7 41.8" stroke="#1820a0" stroke-width="2.6"/><circle cx="556.7" cy="41.8" r="1.0" fill="#2434d8"/><circle cx="550.7" cy="45.0" r="1.0" fill="#e6de28"/><path d="M550.7 45.0 L553.7 43.4" stroke="#e6de28" stroke-width="2.1"/><path d="M553.7 43.4 L556.7 41.8" stroke="#2434d8" stroke-width="2.1"/></g>
<g fill="none"><circle cx="544.2" cy="35.5" r="1.9" fill="#c2bb20"/><circle cx="549.2" cy="38.6" r="1.9" fill="#c43030"/><circle cx="552.7" cy="33.8" r="1.9" fill="#c2bb20"/><circle cx="550.7" cy="45.0" r="1.9" fill="#c2bb20"/><circle cx="554.2" cy="37.0" r="1.9" fill="#c2bb20"/><circle cx="538.2" cy="46.8" r="1.9" fill="#c2bb20"/><circle cx="535.7" cy="31.5" r="1.9" fill="#c43030"/><path d="M535.7 31.5 L540.0 33.5" stroke="#c43030" stroke-width="3.7"/><path d="M540.0 33.5 L544.2 35.5" stroke="#c2bb20" stroke-width="3.7"/><path d="M544.2 35.5 L546.7 37.0" stroke="#c2bb20" stroke-width="3.7"/><path d="M546.7 37.0 L549.2 38.6" stroke="#c43030" stroke-width="3.7"/><path d="M544.2 35.5 L548.5 34.6" stroke="#c2bb20" stroke-width="3.7"/><path d="M548.5 34.6 L552.7 33.8" stroke="#c2bb20" stroke-width="3.7"/><path d="M538.2 46.8 L544.5 45.9" stroke="#c2bb20" stroke-width="3.7"/><path d="M544.5 45.9 L550.7 45.0" stroke="#c2bb20" stroke-width="3.7"/><path d="M550.7 45.0 L552.5 41.0" stroke="#c2bb20" stroke-width="3.7"/><path d="M552.5 41.0 L554.2 37.0" stroke="#c2bb20" stroke-width="3.7"/><path d="M554.2 37.0 L553.5 35.4" stroke="#c2bb20" stroke-width="3.7"/><path d="M553.5 35.4 L552.7 33.8" stroke="#c2bb20" stroke-width="3.7"/><circle cx="544.2" cy="35.5" r="1.5" fill="#e6de28"/><circle cx="549.2" cy="38.6" r="1.5" fill="#ea4040"/><circle cx="552.7" cy="33.8" r="1.5" fill="#e6de28"/><circle cx="550.7" cy="45.0" r="1.5" fill="#e6de28"/><circle cx="554.2" cy="37.0" r="1.5" fill="#e6de28"/><circle cx="538.2" cy="46.8" r="1.5" fill="#e6de28"/><circle cx="535.7" cy="31.5" r="1.5" fill="#ea4040"/><path d="M535.7 31.5 L540.0 33.5" stroke="#ea4040" stroke-width="3.0"/><path d="M540.0 33.5 L544.2 35.5" stroke="#e6de28" stroke-width="3.0"/><path d="M544.2 35.5 L546.7 37.0" stroke="#e6de28" stroke-width="3.0"/><path d="M546.7 37.0 L549.2 38.6" stroke="#ea4040" stroke-width="3.0"/><path d="M544.2 35.5 L548.5 34.6" stroke="#e6de28" stroke-width="3.0"/><path d="M548.5 34.6 L552.7 33.8" stroke="#e6de28" stroke-width="3.0"/><path d="M538.2 46.8 L544.5 45.9" stroke="#e6de28" stroke-width="3.0"/><path d="M544.5 45.9 L550.7 45.0" stroke="#e6de28" stroke-width="3.0"/><path d="M550.7 45.0 L552.5 41.0" stroke="#e6de28" stroke-width="3.0"/><path d="M552.5 41.0 L554.2 37.0" stroke="#e6de28" stroke-width="3.0"/><path d="M554.2 37.0 L553.5 35.4" stroke="#e6de28" stroke-width="3.0"/><path d="M553.5 35.4 L552.7 33.8" stroke="#e6de28" stroke-width="3.0"/></g>
<g fill="none"><circle cx="434.7" cy="38.5" r="1.4" fill="#1820a0"/><circle cx="436.8" cy="37.5" r="1.4" fill="#bc18a2"/><path d="M436.8 37.5 L435.8 38.0" stroke="#bc18a2" stroke-width="2.8"/><path d="M435.8 38.0 L434.7 38.5" stroke="#1820a0" stroke-width="2.8"/><circle cx="434.7" cy="38.5" r="1.1" fill="#2434d8"/><circle cx="436.8" cy="37.5" r="1.1" fill="#e424c6"/><path d="M436.8 37.5 L435.8 38.0" stroke="#e424c6" stroke-width="2.2"/><path d="M435.8 38.0 L434.7 38.5" stroke="#2434d8" stroke-width="2.2"/></g>
<g fill="none"><circle cx="447.8" cy="54.8" r="1.5" fill="#bc18a2"/><circle cx="449.5" cy="52.3" r="1.5" fill="#701010"/><path d="M447.8 54.8 L448.6 53.5" stroke="#bc18a2" stroke-width="3.0"/><path d="M448.6 53.5 L449.5 52.3" stroke="#701010" stroke-width="3.0"/><circle cx="447.8" cy="54.8" r="1.2" fill="#e424c6"/><circle cx="449.5" cy="52.3" r="1.2" fill="#a01c1c"/><path d="M447.8 54.8 L448.6 53.5" stroke="#e424c6" stroke-width="2.4"/><path d="M448.6 53.5 L449.5 52.3" stroke="#a01c1c" stroke-width="2.4"/></g>
<g fill="none"><circle cx="445.2" cy="30.0" r="1.9" fill="#bc18a2"/><circle cx="439.4" cy="47.5" r="1.9" fill="#bc18a2"/><circle cx="436.8" cy="37.5" r="1.9" fill="#bc18a2"/><circle cx="453.7" cy="60.2" r="1.9" fill="#c43030"/><circle cx="450.1" cy="27.0" r="1.9" fill="#c43030"/><circle cx="447.8" cy="54.8" r="1.9" fill="#bc18a2"/><path d="M450.1 27.0 L447.6 28.5" stroke="#c43030" stroke-width="3.9"/><path d="M447.6 28.5 L445.2 30.0" stroke="#bc18a2" stroke-width="3.9"/><path d="M445.2 30.0 L441.0 33.8" stroke="#bc18a2" stroke-width="3.9"/><path d="M441.0 33.8 L436.8 37.5" stroke="#bc18a2" stroke-width="3.9"/><path d="M436.8 37.5 L438.1 42.5" stroke="#bc18a2" stroke-width="3.9"/><path d="M438.1 42.5 L439.4 47.5" stroke="#bc18a2" stroke-width="3.9"/><path d="M439.4 47.5 L443.6 51.1" stroke="#bc18a2" stroke-width="3.9"/><path d="M443.6 51.1 L447.8 54.8" stroke="#bc18a2" stroke-width="3.9"/><path d="M447.8 54.8 L450.8 57.5" stroke="#bc18a2" stroke-width="3.9"/><path d="M450.8 57.5 L453.7 60.2" stroke="#c43030" stroke-width="3.9"/><circle cx="445.2" cy="30.0" r="1.6" fill="#e424c6"/><circle cx="439.4" cy="47.5" r="1.6" fill="#e424c6"/><circle cx="436.8" cy="37.5" r="1.6" fill="#e424c6"/><circle cx="453.7" cy="60.2" r="1.6" fill="#ea4040"/><circle cx="450.1" cy="27.0" r="1.6" fill="#ea4040"/><circle cx="447.8" cy="54.8" r="1.6" fill="#e424c6"/><path d="M450.1 27.0 L447.6 28.5" stroke="#ea4040" stroke-width="3.1"/><path d="M447.6 28.5 L445.2 30.0" stroke="#e424c6" stroke-width="3.1"/><path d="M445.2 30.0 L441.0 33.8" stroke="#e424c6" stroke-width="3.1"/><path d="M441.0 33.8 L436.8 37.5" stroke="#e424c6" stroke-width="3.1"/><path d="M436.8 37.5 L438.1 42.5" stroke="#e424c6" stroke-width="3.1"/><path d="M438.1 42.5 L439.4 47.5" stroke="#e424c6" stroke-width="3.1"/><path d="M439.4 47.5 L443.6 51.1" stroke="#e424c6" stroke-width="3.1"/><path d="M443.6 51.1 L447.8 54.8" stroke="#e424c6" stroke-width="3.1"/><path d="M447.8 54.8 L450.8 57.5" stroke="#e424c6" stroke-width="3.1"/><path d="M450.8 57.5 L453.7 60.2" stroke="#ea4040" stroke-width="3.1"/></g>
<g fill="none"><circle cx="489.4" cy="34.9" r="2.0" fill="#25ac30"/><circle cx="502.7" cy="65.3" r="2.0" fill="#25ac30"/><circle cx="489.7" cy="84.1" r="2.0" fill="#c43030"/><circle cx="498.9" cy="23.5" r="2.0" fill="#25ac30"/><circle cx="499.9" cy="-1.2" r="2.0" fill="#25ac30"/><circle cx="511.2" cy="30.1" r="2.0" fill="#25ac30"/><circle cx="475.2" cy="62.4" r="2.0" fill="#c43030"/><circle cx="492.2" cy="71.9" r="2.0" fill="#25ac30"/><circle cx="501.8" cy="48.1" r="2.0" fill="#25ac30"/><circle cx="481.8" cy="67.1" r="2.0" fill="#25ac30"/><circle cx="520.7" cy="45.3" r="2.0" fill="#c43030"/><circle cx="518.8" cy="24.5" r="2.0" fill="#c43030"/><circle cx="515.7" cy="84.1" r="2.0" fill="#c43030"/><circle cx="473.7" cy="21.6" r="2.0" fill="#c43030"/><circle cx="511.2" cy="40.6" r="2.0" fill="#25ac30"/><circle cx="523.6" cy="66.2" r="2.0" fill="#c43030"/><circle cx="504.2" cy="-3.9" r="2.0" fill="#c43030"/><circle cx="502.7" cy="6.4" r="2.0" fill="#25ac30"/><circle cx="482.2" cy="-9.9" r="2.0" fill="#25ac30"/><circle cx="515.0" cy="71.0" r="2.0" fill="#25ac30"/><circle cx="479.0" cy="29.2" r="2.0" fill="#25ac30"/><circle cx="492.2" cy="42.5" r="2.0" fill="#c43030"/><circle cx="501.8" cy="56.7" r="2.0" fill="#c43030"/><circle cx="489.2" cy="-5.4" r="2.0" fill="#25ac30"/><circle cx="496.1" cy="15.0" r="2.0" fill="#c43030"/><path d="M498.9 23.5 L505.1 26.8" stroke="#25ac30" stroke-width="4.1"/><path d="M505.1 26.8 L511.2 30.1" stroke="#25ac30" stroke-width="4.1"/><path d="M511.2 30.1 L511.2 35.4" stroke="#25ac30" stroke-width="4.1"/><path d="M511.2 35.4 L511.2 40.6" stroke="#25ac30" stroke-width="4.1"/><path d="M511.2 40.6 L506.5 44.4" stroke="#25ac30" stroke-width="4.1"/><path d="M506.5 44.4 L501.8 48.1" stroke="#25ac30" stroke-width="4.1"/><path d="M501.8 48.1 L497.0 45.3" stroke="#25ac30" stroke-width="4.1"/><path d="M497.0 45.3 L492.2 42.5" stroke="#c43030" stroke-width="4.1"/><path d="M492.2 42.5 L490.8 38.7" stroke="#c43030" stroke-width="4.1"/><path d="M490.8 38.7 L489.4 34.9" stroke="#25ac30" stroke-width="4.1"/><path d="M489.4 34.9 L494.1 29.2" stroke="#25ac30" stroke-width="4.1"/><path d="M494.1 29.2 L498.9 23.5" stroke="#25ac30" stroke-width="4.1"/><path d="M489.4 34.9 L484.2 32.0" stroke="#25ac30" stroke-width="4.1"/><path d="M484.2 32.0 L479.0 29.2" stroke="#25ac30" stroke-width="4.1"/><path d="M479.0 29.2 L476.4 25.4" stroke="#25ac30" stroke-width="4.1"/><path d="M476.4 25.4 L473.7 21.6" stroke="#c43030" stroke-width="4.1"/><path d="M498.9 23.5 L497.5 19.2" stroke="#25ac30" stroke-width="4.1"/><path d="M497.5 19.2 L496.1 15.0" stroke="#c43030" stroke-width="4.1"/><path d="M496.1 15.0 L499.4 10.7" stroke="#c43030" stroke-width="4.1"/><path d="M499.4 10.7 L502.7 6.4" stroke="#25ac30" stroke-width="4.1"/><path d="M502.7 6.4 L501.3 2.6" stroke="#25ac30" stroke-width="4.1"/><path d="M501.3 2.6 L499.9 -1.2" stroke="#25ac30" stroke-width="4.1"/><path d="M499.9 -1.2 L494.6 -3.3" stroke="#25ac30" stroke-width="4.1"/><path d="M494.6 -3.3 L489.2 -5.4" stroke="#25ac30" stroke-width="4.1"/><path d="M499.9 -1.2 L502.1 -2.6" stroke="#25ac30" stroke-width="4.1"/><path d="M502.1 -2.6 L504.2 -3.9" stroke="#c43030" stroke-width="4.1"/><path d="M489.2 -5.4 L485.7 -7.7" stroke="#25ac30" stroke-width="4.1"/><path d="M485.7 -7.7 L482.2 -9.9" stroke="#25ac30" stroke-width="4.1"/><path d="M511.2 30.1 L515.0 27.3" stroke="#25ac30" stroke-width="4.1"/><path d="M515.0 27.3 L518.8 24.5" stroke="#c43030" stroke-width="4.1"/><path d="M511.2 40.6 L516.0 43.0" stroke="#25ac30" stroke-width="4.1"/><path d="M516.0 43.0 L520.7 45.3" stroke="#c43030" stroke-width="4.1"/><path d="M501.8 48.1 L501.8 52.4" stroke="#25ac30" stroke-width="4.1"/><path d="M501.8 52.4 L501.8 56.7" stroke="#c43030" stroke-width="4.1"/><path d="M501.8 56.7 L502.3 61.0" stroke="#c43030" stroke-width="4.1"/><path d="M502.3 61.0 L502.7 65.3" stroke="#25ac30" stroke-width="4.1"/><path d="M502.7 65.3 L497.5 68.6" stroke="#25ac30" stroke-width="4.1"/><path d="M497.5 68.6 L492.2 71.9" stroke="#25ac30" stroke-width="4.1"/><path d="M492.2 71.9 L487.0 69.5" stroke="#25ac30" stroke-width="4.1"/><path d="M487.0 69.5 L481.8 67.1" stroke="#25ac30" stroke-width="4.1"/><path d="M481.8 67.1 L478.5 64.8" stroke="#25ac30" stroke-width="4.1"/><path d="M478.5 64.8 L475.2 62.4" stroke="#c43030" stroke-width="4.1"/><path d="M502.7 65.3 L508.9 68.2" stroke="#25ac30" stroke-width="4.1"/><path d="M508.9 68.2 L515.0 71.0" stroke="#25ac30" stroke-width="4.1"/><path d="M515.0 71.0 L519.3 68.6" stroke="#25ac30" stroke-width="4.1"/><path d="M519.3 68.6 L523.6 66.2" stroke="#c43030" stroke-width="4.1"/><path d="M492.2 71.9 L491.0 78.0" stroke="#25ac30" stroke-width="4.1"/><path d="M491.0 78.0 L489.7 84.1" stroke="#c43030" stroke-width="4.1"/><path d="M515.0 71.0 L515.4 77.5" stroke="#25ac30" stroke-width="4.1"/><path d="M515.4 77.5 L515.7 84.1" stroke="#c43030" stroke-width="4.1"/><circle cx="489.4" cy="34.9" r="1.6" fill="#2fd03c"/><circle cx="502.7" cy="65.3" r="1.6" fill="#2fd03c"/><circle cx="489.7" cy="84.1" r="1.6" fill="#ea4040"/><circle cx="498.9" cy="23.5" r="1.6" fill="#2fd03c"/><circle cx="499.9" cy="-1.2" r="1.6" fill="#2fd03c"/><circle cx="511.2" cy="30.1" r="1.6" fill="#2fd03c"/><circle cx="475.2" cy="62.4" r="1.6" fill="#ea4040"/><circle cx="492.2" cy="71.9" r="1.6" fill="#2fd03c"/><circle cx="501.8" cy="48.1" r="1.6" fill="#2fd03c"/><circle cx="481.8" cy="67.1" r="1.6" fill="#2fd03c"/><circle cx="520.7" cy="45.3" r="1.6" fill="#ea4040"/><circle cx="518.8" cy="24.5" r="1.6" fill="#ea4040"/><circle cx="515.7" cy="84.1" r="1.6" fill="#ea4040"/><circle cx="473.7" cy="21.6" r="1.6" fill="#ea4040"/><circle cx="511.2" cy="40.6" r="1.6" fill="#2fd03c"/><circle cx="523.6" cy="66.2" r="1.6" fill="#ea4040"/><circle cx="504.2" cy="-3.9" r="1.6" fill="#ea4040"/><circle cx="502.7" cy="6.4" r="1.6" fill="#2fd03c"/><circle cx="482.2" cy="-9.9" r="1.6" fill="#2fd03c"/><circle cx="515.0" cy="71.0" r="1.6" fill="#2fd03c"/><circle cx="479.0" cy="29.2" r="1.6" fill="#2fd03c"/><circle cx="492.2" cy="42.5" r="1.6" fill="#ea4040"/><circle cx="501.8" cy="56.7" r="1.6" fill="#ea4040"/><circle cx="489.2" cy="-5.4" r="1.6" fill="#2fd03c"/><circle cx="496.1" cy="15.0" r="1.6" fill="#ea4040"/><path d="M498.9 23.5 L505.1 26.8" stroke="#2fd03c" stroke-width="3.3"/><path d="M505.1 26.8 L511.2 30.1" stroke="#2fd03c" stroke-width="3.3"/><path d="M511.2 30.1 L511.2 35.4" stroke="#2fd03c" stroke-width="3.3"/><path d="M511.2 35.4 L511.2 40.6" stroke="#2fd03c" stroke-width="3.3"/><path d="M511.2 40.6 L506.5 44.4" stroke="#2fd03c" stroke-width="3.3"/><path d="M506.5 44.4 L501.8 48.1" stroke="#2fd03c" stroke-width="3.3"/><path d="M501.8 48.1 L497.0 45.3" stroke="#2fd03c" stroke-width="3.3"/><path d="M497.0 45.3 L492.2 42.5" stroke="#ea4040" stroke-width="3.3"/><path d="M492.2 42.5 L490.8 38.7" stroke="#ea4040" stroke-width="3.3"/><path d="M490.8 38.7 L489.4 34.9" stroke="#2fd03c" stroke-width="3.3"/><path d="M489.4 34.9 L494.1 29.2" stroke="#2fd03c" stroke-width="3.3"/><path d="M494.1 29.2 L498.9 23.5" stroke="#2fd03c" stroke-width="3.3"/><path d="M489.4 34.9 L484.2 32.0" stroke="#2fd03c" stroke-width="3.3"/><path d="M484.2 32.0 L479.0 29.2" stroke="#2fd03c" stroke-width="3.3"/><path d="M479.0 29.2 L476.4 25.4" stroke="#2fd03c" stroke-width="3.3"/><path d="M476.4 25.4 L473.7 21.6" stroke="#ea4040" stroke-width="3.3"/><path d="M498.9 23.5 L497.5 19.2" stroke="#2fd03c" stroke-width="3.3"/><path d="M497.5 19.2 L496.1 15.0" stroke="#ea4040" stroke-width="3.3"/><path d="M496.1 15.0 L499.4 10.7" stroke="#ea4040" stroke-width="3.3"/><path d="M499.4 10.7 L502.7 6.4" stroke="#2fd03c" stroke-width="3.3"/><path d="M502.7 6.4 L501.3 2.6" stroke="#2fd03c" stroke-width="3.3"/><path d="M501.3 2.6 L499.9 -1.2" stroke="#2fd03c" stroke-width="3.3"/><path d="M499.9 -1.2 L494.6 -3.3" stroke="#2fd03c" stroke-width="3.3"/><path d="M494.6 -3.3 L489.2 -5.4" stroke="#2fd03c" stroke-width="3.3"/><path d="M499.9 -1.2 L502.1 -2.6" stroke="#2fd03c" stroke-width="3.3"/><path d="M502.1 -2.6 L504.2 -3.9" stroke="#ea4040" stroke-width="3.3"/><path d="M489.2 -5.4 L485.7 -7.7" stroke="#2fd03c" stroke-width="3.3"/><path d="M485.7 -7.7 L482.2 -9.9" stroke="#2fd03c" stroke-width="3.3"/><path d="M511.2 30.1 L515.0 27.3" stroke="#2fd03c" stroke-width="3.3"/><path d="M515.0 27.3 L518.8 24.5" stroke="#ea4040" stroke-width="3.3"/><path d="M511.2 40.6 L516.0 43.0" stroke="#2fd03c" stroke-width="3.3"/><path d="M516.0 43.0 L520.7 45.3" stroke="#ea4040" stroke-width="3.3"/><path d="M501.8 48.1 L501.8 52.4" stroke="#2fd03c" stroke-width="3.3"/><path d="M501.8 52.4 L501.8 56.7" stroke="#ea4040" stroke-width="3.3"/><path d="M501.8 56.7 L502.3 61.0" stroke="#ea4040" stroke-width="3.3"/><path d="M502.3 61.0 L502.7 65.3" stroke="#2fd03c" stroke-width="3.3"/><path d="M502.7 65.3 L497.5 68.6" stroke="#2fd03c" stroke-width="3.3"/><path d="M497.5 68.6 L492.2 71.9" stroke="#2fd03c" stroke-width="3.3"/><path d="M492.2 71.9 L487.0 69.5" stroke="#2fd03c" stroke-width="3.3"/><path d="M487.0 69.5 L481.8 67.1" stroke="#2fd03c" stroke-width="3.3"/><path d="M481.8 67.1 L478.5 64.8" stroke="#2fd03c" stroke-width="3.3"/><path d="M478.5 64.8 L475.2 62.4" stroke="#ea4040" stroke-width="3.3"/><path d="M502.7 65.3 L508.9 68.2" stroke="#2fd03c" stroke-width="3.3"/><path d="M508.9 68.2 L515.0 71.0" stroke="#2fd03c" stroke-width="3.3"/><path d="M515.0 71.0 L519.3 68.6" stroke="#2fd03c" stroke-width="3.3"/><path d="M519.3 68.6 L523.6 66.2" stroke="#ea4040" stroke-width="3.3"/><path d="M492.2 71.9 L491.0 78.0" stroke="#2fd03c" stroke-width="3.3"/><path d="M491.0 78.0 L489.7 84.1" stroke="#ea4040" stroke-width="3.3"/><path d="M515.0 71.0 L515.4 77.5" stroke="#2fd03c" stroke-width="3.3"/><path d="M515.4 77.5 L515.7 84.1" stroke="#ea4040" stroke-width="3.3"/></g>
</g>
<clipPath id="cb3"><rect x="558.9" y="0" width="126.1" height="82"/></clipPath>
<g clip-path="url(#cb3)">
<rect x="558.9" y="0" width="126.1" height="82" fill="#fcfefb"/>
<g transform="translate(558.9 0)">
<g filter="url(#bl5)"><path d="M46 64 L96 60 L100 90 L44 90 Z" fill="#e8f3c8"/><path d="M84 0 L126 0 L126 36 L104 26 Z" fill="#e0f7dc"/><path d="M100 52 L126 46 L126 90 L96 90 Z" fill="#f0f3c8"/></g>
<g fill="none" stroke-linecap="round" filter="url(#bl2)"><path d="M28 0 C32 10 40 14 44 24 C46 30 42 34 38 30" stroke="#d2f3cf" stroke-width="3"/><path d="M66 0 C70 12 82 18 84 30" stroke="#daf5d7" stroke-width="2.5"/><path d="M0 76 C10 74 20 78 34 80" stroke="#dcebb8" stroke-width="3"/></g>
</g>
<g fill="none"><circle cx="661.4" cy="77.8" r="1.9" fill="#c43030"/><circle cx="659.5" cy="68.3" r="1.9" fill="#c43030"/><circle cx="671.9" cy="62.0" r="1.9" fill="#c43030"/><circle cx="688.9" cy="72.0" r="1.9" fill="#c2bb20"/><circle cx="668.9" cy="72.0" r="1.9" fill="#c2bb20"/><circle cx="678.9" cy="84.0" r="1.9" fill="#c2bb20"/><circle cx="680.9" cy="69.0" r="1.9" fill="#c2bb20"/><circle cx="668.9" cy="79.7" r="1.9" fill="#c2bb20"/><path d="M659.5 68.3 L664.2 70.2" stroke="#c43030" stroke-width="3.9"/><path d="M664.2 70.2 L668.9 72.0" stroke="#c2bb20" stroke-width="3.9"/><path d="M668.9 72.0 L674.9 70.5" stroke="#c2bb20" stroke-width="3.9"/><path d="M674.9 70.5 L680.9 69.0" stroke="#c2bb20" stroke-width="3.9"/><path d="M680.9 69.0 L684.9 70.5" stroke="#c2bb20" stroke-width="3.9"/><path d="M684.9 70.5 L688.9 72.0" stroke="#c2bb20" stroke-width="3.9"/><path d="M661.4 77.8 L665.1 78.8" stroke="#c43030" stroke-width="3.9"/><path d="M665.1 78.8 L668.9 79.7" stroke="#c2bb20" stroke-width="3.9"/><path d="M668.9 79.7 L673.9 81.8" stroke="#c2bb20" stroke-width="3.9"/><path d="M673.9 81.8 L678.9 84.0" stroke="#c2bb20" stroke-width="3.9"/><path d="M680.9 69.0 L676.4 65.5" stroke="#c2bb20" stroke-width="3.9"/><path d="M676.4 65.5 L671.9 62.0" stroke="#c43030" stroke-width="3.9"/><circle cx="661.4" cy="77.8" r="1.6" fill="#ea4040"/><circle cx="659.5" cy="68.3" r="1.6" fill="#ea4040"/><circle cx="671.9" cy="62.0" r="1.6" fill="#ea4040"/><circle cx="688.9" cy="72.0" r="1.6" fill="#e6de28"/><circle cx="668.9" cy="72.0" r="1.6" fill="#e6de28"/><circle cx="678.9" cy="84.0" r="1.6" fill="#e6de28"/><circle cx="680.9" cy="69.0" r="1.6" fill="#e6de28"/><circle cx="668.9" cy="79.7" r="1.6" fill="#e6de28"/><path d="M659.5 68.3 L664.2 70.2" stroke="#ea4040" stroke-width="3.1"/><path d="M664.2 70.2 L668.9 72.0" stroke="#e6de28" stroke-width="3.1"/><path d="M668.9 72.0 L674.9 70.5" stroke="#e6de28" stroke-width="3.1"/><path d="M674.9 70.5 L680.9 69.0" stroke="#e6de28" stroke-width="3.1"/><path d="M680.9 69.0 L684.9 70.5" stroke="#e6de28" stroke-width="3.1"/><path d="M684.9 70.5 L688.9 72.0" stroke="#e6de28" stroke-width="3.1"/><path d="M661.4 77.8 L665.1 78.8" stroke="#ea4040" stroke-width="3.1"/><path d="M665.1 78.8 L668.9 79.7" stroke="#e6de28" stroke-width="3.1"/><path d="M668.9 79.7 L673.9 81.8" stroke="#e6de28" stroke-width="3.1"/><path d="M673.9 81.8 L678.9 84.0" stroke="#e6de28" stroke-width="3.1"/><path d="M680.9 69.0 L676.4 65.5" stroke="#e6de28" stroke-width="3.1"/><path d="M676.4 65.5 L671.9 62.0" stroke="#ea4040" stroke-width="3.1"/></g>
<g fill="none"><circle cx="682.4" cy="41.8" r="1.3" fill="#1820a0"/><circle cx="676.4" cy="45.0" r="1.3" fill="#c2bb20"/><path d="M676.4 45.0 L679.4 43.4" stroke="#c2bb20" stroke-width="2.6"/><path d="M679.4 43.4 L682.4 41.8" stroke="#1820a0" stroke-width="2.6"/><circle cx="682.4" cy="41.8" r="1.0" fill="#2434d8"/><circle cx="676.4" cy="45.0" r="1.0" fill="#e6de28"/><path d="M676.4 45.0 L679.4 43.4" stroke="#e6de28" stroke-width="2.1"/><path d="M679.4 43.4 L682.4 41.8" stroke="#2434d8" stroke-width="2.1"/></g>
<g fill="none"><circle cx="669.9" cy="35.5" r="1.9" fill="#c2bb20"/><circle cx="674.9" cy="38.6" r="1.9" fill="#c43030"/><circle cx="678.4" cy="33.8" r="1.9" fill="#c2bb20"/><circle cx="676.4" cy="45.0" r="1.9" fill="#c2bb20"/><circle cx="679.9" cy="37.0" r="1.9" fill="#c2bb20"/><circle cx="663.9" cy="46.8" r="1.9" fill="#c2bb20"/><circle cx="661.4" cy="31.5" r="1.9" fill="#c43030"/><path d="M661.4 31.5 L665.6 33.5" stroke="#c43030" stroke-width="3.7"/><path d="M665.6 33.5 L669.9 35.5" stroke="#c2bb20" stroke-width="3.7"/><path d="M669.9 35.5 L672.4 37.0" stroke="#c2bb20" stroke-width="3.7"/><path d="M672.4 37.0 L674.9 38.6" stroke="#c43030" stroke-width="3.7"/><path d="M669.9 35.5 L674.1 34.6" stroke="#c2bb20" stroke-width="3.7"/><path d="M674.1 34.6 L678.4 33.8" stroke="#c2bb20" stroke-width="3.7"/><path d="M663.9 46.8 L670.1 45.9" stroke="#c2bb20" stroke-width="3.7"/><path d="M670.1 45.9 L676.4 45.0" stroke="#c2bb20" stroke-width="3.7"/><path d="M676.4 45.0 L678.1 41.0" stroke="#c2bb20" stroke-width="3.7"/><path d="M678.1 41.0 L679.9 37.0" stroke="#c2bb20" stroke-width="3.7"/><path d="M679.9 37.0 L679.1 35.4" stroke="#c2bb20" stroke-width="3.7"/><path d="M679.1 35.4 L678.4 33.8" stroke="#c2bb20" stroke-width="3.7"/><circle cx="669.9" cy="35.5" r="1.5" fill="#e6de28"/><circle cx="674.9" cy="38.6" r="1.5" fill="#ea4040"/><circle cx="678.4" cy="33.8" r="1.5" fill="#e6de28"/><circle cx="676.4" cy="45.0" r="1.5" fill="#e6de28"/><circle cx="679.9" cy="37.0" r="1.5" fill="#e6de28"/><circle cx="663.9" cy="46.8" r="1.5" fill="#e6de28"/><circle cx="661.4" cy="31.5" r="1.5" fill="#ea4040"/><path d="M661.4 31.5 L665.6 33.5" stroke="#ea4040" stroke-width="3.0"/><path d="M665.6 33.5 L669.9 35.5" stroke="#e6de28" stroke-width="3.0"/><path d="M669.9 35.5 L672.4 37.0" stroke="#e6de28" stroke-width="3.0"/><path d="M672.4 37.0 L674.9 38.6" stroke="#ea4040" stroke-width="3.0"/><path d="M669.9 35.5 L674.1 34.6" stroke="#e6de28" stroke-width="3.0"/><path d="M674.1 34.6 L678.4 33.8" stroke="#e6de28" stroke-width="3.0"/><path d="M663.9 46.8 L670.1 45.9" stroke="#e6de28" stroke-width="3.0"/><path d="M670.1 45.9 L676.4 45.0" stroke="#e6de28" stroke-width="3.0"/><path d="M676.4 45.0 L678.1 41.0" stroke="#e6de28" stroke-width="3.0"/><path d="M678.1 41.0 L679.9 37.0" stroke="#e6de28" stroke-width="3.0"/><path d="M679.9 37.0 L679.1 35.4" stroke="#e6de28" stroke-width="3.0"/><path d="M679.1 35.4 L678.4 33.8" stroke="#e6de28" stroke-width="3.0"/></g>
<g fill="none"><circle cx="560.4" cy="38.5" r="1.4" fill="#1820a0"/><circle cx="562.5" cy="37.5" r="1.4" fill="#bc18a2"/><path d="M562.5 37.5 L561.5 38.0" stroke="#bc18a2" stroke-width="2.8"/><path d="M561.5 38.0 L560.4 38.5" stroke="#1820a0" stroke-width="2.8"/><circle cx="560.4" cy="38.5" r="1.1" fill="#2434d8"/><circle cx="562.5" cy="37.5" r="1.1" fill="#e424c6"/><path d="M562.5 37.5 L561.5 38.0" stroke="#e424c6" stroke-width="2.2"/><path d="M561.5 38.0 L560.4 38.5" stroke="#2434d8" stroke-width="2.2"/></g>
<g fill="none"><circle cx="573.5" cy="54.8" r="1.5" fill="#bc18a2"/><circle cx="575.2" cy="52.3" r="1.5" fill="#701010"/><path d="M573.5 54.8 L574.3 53.5" stroke="#bc18a2" stroke-width="3.0"/><path d="M574.3 53.5 L575.2 52.3" stroke="#701010" stroke-width="3.0"/><circle cx="573.5" cy="54.8" r="1.2" fill="#e424c6"/><circle cx="575.2" cy="52.3" r="1.2" fill="#a01c1c"/><path d="M573.5 54.8 L574.3 53.5" stroke="#e424c6" stroke-width="2.4"/><path d="M574.3 53.5 L575.2 52.3" stroke="#a01c1c" stroke-width="2.4"/></g>
<g fill="none"><circle cx="570.9" cy="30.0" r="1.9" fill="#bc18a2"/><circle cx="565.1" cy="47.5" r="1.9" fill="#bc18a2"/><circle cx="562.5" cy="37.5" r="1.9" fill="#bc18a2"/><circle cx="579.4" cy="60.2" r="1.9" fill="#c43030"/><circle cx="575.8" cy="27.0" r="1.9" fill="#c43030"/><circle cx="573.5" cy="54.8" r="1.9" fill="#bc18a2"/><path d="M575.8 27.0 L573.3 28.5" stroke="#c43030" stroke-width="3.9"/><path d="M573.3 28.5 L570.9 30.0" stroke="#bc18a2" stroke-width="3.9"/><path d="M570.9 30.0 L566.7 33.8" stroke="#bc18a2" stroke-width="3.9"/><path d="M566.7 33.8 L562.5 37.5" stroke="#bc18a2" stroke-width="3.9"/><path d="M562.5 37.5 L563.8 42.5" stroke="#bc18a2" stroke-width="3.9"/><path d="M563.8 42.5 L565.1 47.5" stroke="#bc18a2" stroke-width="3.9"/><path d="M565.1 47.5 L569.3 51.1" stroke="#bc18a2" stroke-width="3.9"/><path d="M569.3 51.1 L573.5 54.8" stroke="#bc18a2" stroke-width="3.9"/><path d="M573.5 54.8 L576.5 57.5" stroke="#bc18a2" stroke-width="3.9"/><path d="M576.5 57.5 L579.4 60.2" stroke="#c43030" stroke-width="3.9"/><circle cx="570.9" cy="30.0" r="1.6" fill="#e424c6"/><circle cx="565.1" cy="47.5" r="1.6" fill="#e424c6"/><circle cx="562.5" cy="37.5" r="1.6" fill="#e424c6"/><circle cx="579.4" cy="60.2" r="1.6" fill="#ea4040"/><circle cx="575.8" cy="27.0" r="1.6" fill="#ea4040"/><circle cx="573.5" cy="54.8" r="1.6" fill="#e424c6"/><path d="M575.8 27.0 L573.3 28.5" stroke="#ea4040" stroke-width="3.1"/><path d="M573.3 28.5 L570.9 30.0" stroke="#e424c6" stroke-width="3.1"/><path d="M570.9 30.0 L566.7 33.8" stroke="#e424c6" stroke-width="3.1"/><path d="M566.7 33.8 L562.5 37.5" stroke="#e424c6" stroke-width="3.1"/><path d="M562.5 37.5 L563.8 42.5" stroke="#e424c6" stroke-width="3.1"/><path d="M563.8 42.5 L565.1 47.5" stroke="#e424c6" stroke-width="3.1"/><path d="M565.1 47.5 L569.3 51.1" stroke="#e424c6" stroke-width="3.1"/><path d="M569.3 51.1 L573.5 54.8" stroke="#e424c6" stroke-width="3.1"/><path d="M573.5 54.8 L576.5 57.5" stroke="#e424c6" stroke-width="3.1"/><path d="M576.5 57.5 L579.4 60.2" stroke="#ea4040" stroke-width="3.1"/></g>
<g fill="none"><circle cx="628.4" cy="31.8" r="2.0" fill="#25ac30"/><circle cx="641.7" cy="62.2" r="2.0" fill="#25ac30"/><circle cx="628.7" cy="81.0" r="2.0" fill="#c43030"/><circle cx="637.9" cy="20.4" r="2.0" fill="#25ac30"/><circle cx="638.9" cy="-4.3" r="2.0" fill="#25ac30"/><circle cx="650.2" cy="27.0" r="2.0" fill="#25ac30"/><circle cx="614.2" cy="59.3" r="2.0" fill="#c43030"/><circle cx="631.2" cy="68.8" r="2.0" fill="#25ac30"/><circle cx="640.8" cy="45.0" r="2.0" fill="#25ac30"/><circle cx="620.8" cy="64.0" r="2.0" fill="#25ac30"/><circle cx="659.7" cy="42.2" r="2.0" fill="#c43030"/><circle cx="657.8" cy="21.4" r="2.0" fill="#c43030"/><circle cx="654.7" cy="81.0" r="2.0" fill="#c43030"/><circle cx="612.7" cy="18.5" r="2.0" fill="#c43030"/><circle cx="650.2" cy="37.5" r="2.0" fill="#25ac30"/><circle cx="662.6" cy="63.1" r="2.0" fill="#c43030"/><circle cx="643.2" cy="-7.0" r="2.0" fill="#c43030"/><circle cx="641.7" cy="3.3" r="2.0" fill="#25ac30"/><circle cx="621.2" cy="-13.0" r="2.0" fill="#25ac30"/><circle cx="654.0" cy="67.9" r="2.0" fill="#25ac30"/><circle cx="618.0" cy="26.1" r="2.0" fill="#25ac30"/><circle cx="631.2" cy="39.4" r="2.0" fill="#c43030"/><circle cx="640.8" cy="53.6" r="2.0" fill="#c43030"/><circle cx="628.2" cy="-8.5" r="2.0" fill="#25ac30"/><circle cx="635.1" cy="11.9" r="2.0" fill="#c43030"/><path d="M637.9 20.4 L644.0 23.7" stroke="#25ac30" stroke-width="4.1"/><path d="M644.0 23.7 L650.2 27.0" stroke="#25ac30" stroke-width="4.1"/><path d="M650.2 27.0 L650.2 32.2" stroke="#25ac30" stroke-width="4.1"/><path d="M650.2 32.2 L650.2 37.5" stroke="#25ac30" stroke-width="4.1"/><path d="M650.2 37.5 L645.5 41.2" stroke="#25ac30" stroke-width="4.1"/><path d="M645.5 41.2 L640.8 45.0" stroke="#25ac30" stroke-width="4.1"/><path d="M640.8 45.0 L636.0 42.2" stroke="#25ac30" stroke-width="4.1"/><path d="M636.0 42.2 L631.2 39.4" stroke="#c43030" stroke-width="4.1"/><path d="M631.2 39.4 L629.8 35.6" stroke="#c43030" stroke-width="4.1"/><path d="M629.8 35.6 L628.4 31.8" stroke="#25ac30" stroke-width="4.1"/><path d="M628.4 31.8 L633.1 26.1" stroke="#25ac30" stroke-width="4.1"/><path d="M633.1 26.1 L637.9 20.4" stroke="#25ac30" stroke-width="4.1"/><path d="M628.4 31.8 L623.2 28.9" stroke="#25ac30" stroke-width="4.1"/><path d="M623.2 28.9 L618.0 26.1" stroke="#25ac30" stroke-width="4.1"/><path d="M618.0 26.1 L615.4 22.3" stroke="#25ac30" stroke-width="4.1"/><path d="M615.4 22.3 L612.7 18.5" stroke="#c43030" stroke-width="4.1"/><path d="M637.9 20.4 L636.5 16.1" stroke="#25ac30" stroke-width="4.1"/><path d="M636.5 16.1 L635.1 11.9" stroke="#c43030" stroke-width="4.1"/><path d="M635.1 11.9 L638.4 7.6" stroke="#c43030" stroke-width="4.1"/><path d="M638.4 7.6 L641.7 3.3" stroke="#25ac30" stroke-width="4.1"/><path d="M641.7 3.3 L640.3 -0.5" stroke="#25ac30" stroke-width="4.1"/><path d="M640.3 -0.5 L638.9 -4.3" stroke="#25ac30" stroke-width="4.1"/><path d="M638.9 -4.3 L633.5 -6.4" stroke="#25ac30" stroke-width="4.1"/><path d="M633.5 -6.4 L628.2 -8.5" stroke="#25ac30" stroke-width="4.1"/><path d="M638.9 -4.3 L641.0 -5.7" stroke="#25ac30" stroke-width="4.1"/><path d="M641.0 -5.7 L643.2 -7.0" stroke="#c43030" stroke-width="4.1"/><path d="M628.2 -8.5 L624.7 -10.8" stroke="#25ac30" stroke-width="4.1"/><path d="M624.7 -10.8 L621.2 -13.0" stroke="#25ac30" stroke-width="4.1"/><path d="M650.2 27.0 L654.0 24.2" stroke="#25ac30" stroke-width="4.1"/><path d="M654.0 24.2 L657.8 21.4" stroke="#c43030" stroke-width="4.1"/><path d="M650.2 37.5 L655.0 39.9" stroke="#25ac30" stroke-width="4.1"/><path d="M655.0 39.9 L659.7 42.2" stroke="#c43030" stroke-width="4.1"/><path d="M640.8 45.0 L640.8 49.3" stroke="#25ac30" stroke-width="4.1"/><path d="M640.8 49.3 L640.8 53.6" stroke="#c43030" stroke-width="4.1"/><path d="M640.8 53.6 L641.2 57.9" stroke="#c43030" stroke-width="4.1"/><path d="M641.2 57.9 L641.7 62.2" stroke="#25ac30" stroke-width="4.1"/><path d="M641.7 62.2 L636.5 65.5" stroke="#25ac30" stroke-width="4.1"/><path d="M636.5 65.5 L631.2 68.8" stroke="#25ac30" stroke-width="4.1"/><path d="M631.2 68.8 L626.0 66.4" stroke="#25ac30" stroke-width="4.1"/><path d="M626.0 66.4 L620.8 64.0" stroke="#25ac30" stroke-width="4.1"/><path d="M620.8 64.0 L617.5 61.6" stroke="#25ac30" stroke-width="4.1"/><path d="M617.5 61.6 L614.2 59.3" stroke="#c43030" stroke-width="4.1"/><path d="M641.7 62.2 L647.9 65.1" stroke="#25ac30" stroke-width="4.1"/><path d="M647.9 65.1 L654.0 67.9" stroke="#25ac30" stroke-width="4.1"/><path d="M654.0 67.9 L658.3 65.5" stroke="#25ac30" stroke-width="4.1"/><path d="M658.3 65.5 L662.6 63.1" stroke="#c43030" stroke-width="4.1"/><path d="M631.2 68.8 L630.0 74.9" stroke="#25ac30" stroke-width="4.1"/><path d="M630.0 74.9 L628.7 81.0" stroke="#c43030" stroke-width="4.1"/><path d="M654.0 67.9 L654.4 74.5" stroke="#25ac30" stroke-width="4.1"/><path d="M654.4 74.5 L654.7 81.0" stroke="#c43030" stroke-width="4.1"/><circle cx="628.4" cy="31.8" r="1.6" fill="#2fd03c"/><circle cx="641.7" cy="62.2" r="1.6" fill="#2fd03c"/><circle cx="628.7" cy="81.0" r="1.6" fill="#ea4040"/><circle cx="637.9" cy="20.4" r="1.6" fill="#2fd03c"/><circle cx="638.9" cy="-4.3" r="1.6" fill="#2fd03c"/><circle cx="650.2" cy="27.0" r="1.6" fill="#2fd03c"/><circle cx="614.2" cy="59.3" r="1.6" fill="#ea4040"/><circle cx="631.2" cy="68.8" r="1.6" fill="#2fd03c"/><circle cx="640.8" cy="45.0" r="1.6" fill="#2fd03c"/><circle cx="620.8" cy="64.0" r="1.6" fill="#2fd03c"/><circle cx="659.7" cy="42.2" r="1.6" fill="#ea4040"/><circle cx="657.8" cy="21.4" r="1.6" fill="#ea4040"/><circle cx="654.7" cy="81.0" r="1.6" fill="#ea4040"/><circle cx="612.7" cy="18.5" r="1.6" fill="#ea4040"/><circle cx="650.2" cy="37.5" r="1.6" fill="#2fd03c"/><circle cx="662.6" cy="63.1" r="1.6" fill="#ea4040"/><circle cx="643.2" cy="-7.0" r="1.6" fill="#ea4040"/><circle cx="641.7" cy="3.3" r="1.6" fill="#2fd03c"/><circle cx="621.2" cy="-13.0" r="1.6" fill="#2fd03c"/><circle cx="654.0" cy="67.9" r="1.6" fill="#2fd03c"/><circle cx="618.0" cy="26.1" r="1.6" fill="#2fd03c"/><circle cx="631.2" cy="39.4" r="1.6" fill="#ea4040"/><circle cx="640.8" cy="53.6" r="1.6" fill="#ea4040"/><circle cx="628.2" cy="-8.5" r="1.6" fill="#2fd03c"/><circle cx="635.1" cy="11.9" r="1.6" fill="#ea4040"/><path d="M637.9 20.4 L644.0 23.7" stroke="#2fd03c" stroke-width="3.3"/><path d="M644.0 23.7 L650.2 27.0" stroke="#2fd03c" stroke-width="3.3"/><path d="M650.2 27.0 L650.2 32.2" stroke="#2fd03c" stroke-width="3.3"/><path d="M650.2 32.2 L650.2 37.5" stroke="#2fd03c" stroke-width="3.3"/><path d="M650.2 37.5 L645.5 41.2" stroke="#2fd03c" stroke-width="3.3"/><path d="M645.5 41.2 L640.8 45.0" stroke="#2fd03c" stroke-width="3.3"/><path d="M640.8 45.0 L636.0 42.2" stroke="#2fd03c" stroke-width="3.3"/><path d="M636.0 42.2 L631.2 39.4" stroke="#ea4040" stroke-width="3.3"/><path d="M631.2 39.4 L629.8 35.6" stroke="#ea4040" stroke-width="3.3"/><path d="M629.8 35.6 L628.4 31.8" stroke="#2fd03c" stroke-width="3.3"/><path d="M628.4 31.8 L633.1 26.1" stroke="#2fd03c" stroke-width="3.3"/><path d="M633.1 26.1 L637.9 20.4" stroke="#2fd03c" stroke-width="3.3"/><path d="M628.4 31.8 L623.2 28.9" stroke="#2fd03c" stroke-width="3.3"/><path d="M623.2 28.9 L618.0 26.1" stroke="#2fd03c" stroke-width="3.3"/><path d="M618.0 26.1 L615.4 22.3" stroke="#2fd03c" stroke-width="3.3"/><path d="M615.4 22.3 L612.7 18.5" stroke="#ea4040" stroke-width="3.3"/><path d="M637.9 20.4 L636.5 16.1" stroke="#2fd03c" stroke-width="3.3"/><path d="M636.5 16.1 L635.1 11.9" stroke="#ea4040" stroke-width="3.3"/><path d="M635.1 11.9 L638.4 7.6" stroke="#ea4040" stroke-width="3.3"/><path d="M638.4 7.6 L641.7 3.3" stroke="#2fd03c" stroke-width="3.3"/><path d="M641.7 3.3 L640.3 -0.5" stroke="#2fd03c" stroke-width="3.3"/><path d="M640.3 -0.5 L638.9 -4.3" stroke="#2fd03c" stroke-width="3.3"/><path d="M638.9 -4.3 L633.5 -6.4" stroke="#2fd03c" stroke-width="3.3"/><path d="M633.5 -6.4 L628.2 -8.5" stroke="#2fd03c" stroke-width="3.3"/><path d="M638.9 -4.3 L641.0 -5.7" stroke="#2fd03c" stroke-width="3.3"/><path d="M641.0 -5.7 L643.2 -7.0" stroke="#ea4040" stroke-width="3.3"/><path d="M628.2 -8.5 L624.7 -10.8" stroke="#2fd03c" stroke-width="3.3"/><path d="M624.7 -10.8 L621.2 -13.0" stroke="#2fd03c" stroke-width="3.3"/><path d="M650.2 27.0 L654.0 24.2" stroke="#2fd03c" stroke-width="3.3"/><path d="M654.0 24.2 L657.8 21.4" stroke="#ea4040" stroke-width="3.3"/><path d="M650.2 37.5 L655.0 39.9" stroke="#2fd03c" stroke-width="3.3"/><path d="M655.0 39.9 L659.7 42.2" stroke="#ea4040" stroke-width="3.3"/><path d="M640.8 45.0 L640.8 49.3" stroke="#2fd03c" stroke-width="3.3"/><path d="M640.8 49.3 L640.8 53.6" stroke="#ea4040" stroke-width="3.3"/><path d="M640.8 53.6 L641.2 57.9" stroke="#ea4040" stroke-width="3.3"/><path d="M641.2 57.9 L641.7 62.2" stroke="#2fd03c" stroke-width="3.3"/><path d="M641.7 62.2 L636.5 65.5" stroke="#2fd03c" stroke-width="3.3"/><path d="M636.5 65.5 L631.2 68.8" stroke="#2fd03c" stroke-width="3.3"/><path d="M631.2 68.8 L626.0 66.4" stroke="#2fd03c" stroke-width="3.3"/><path d="M626.0 66.4 L620.8 64.0" stroke="#2fd03c" stroke-width="3.3"/><path d="M620.8 64.0 L617.5 61.6" stroke="#2fd03c" stroke-width="3.3"/><path d="M617.5 61.6 L614.2 59.3" stroke="#ea4040" stroke-width="3.3"/><path d="M641.7 62.2 L647.9 65.1" stroke="#2fd03c" stroke-width="3.3"/><path d="M647.9 65.1 L654.0 67.9" stroke="#2fd03c" stroke-width="3.3"/><path d="M654.0 67.9 L658.3 65.5" stroke="#2fd03c" stroke-width="3.3"/><path d="M658.3 65.5 L662.6 63.1" stroke="#ea4040" stroke-width="3.3"/><path d="M631.2 68.8 L630.0 74.9" stroke="#2fd03c" stroke-width="3.3"/><path d="M630.0 74.9 L628.7 81.0" stroke="#ea4040" stroke-width="3.3"/><path d="M654.0 67.9 L654.4 74.5" stroke="#2fd03c" stroke-width="3.3"/><path d="M654.4 74.5 L654.7 81.0" stroke="#ea4040" stroke-width="3.3"/></g>
</g>
<line x1="317.0" y1="46.6" x2="346.0" y2="44.1" stroke="#ea8f18" stroke-width="1.3" stroke-dasharray="1.6 2.4" stroke-linecap="round"/>
<line x1="368.0" y1="41.3" x2="413.0" y2="35.3" stroke="#5a5ae0" stroke-width="0.9" stroke-dasharray="0.8 1.8" stroke-linecap="round"/>
<line x1="441.8" y1="47.4" x2="489.0" y2="37.9" stroke="#ea8f18" stroke-width="1.3" stroke-dasharray="1.6 2.4" stroke-linecap="round"/>
<line x1="511.0" y1="35.8" x2="537.5" y2="34.3" stroke="#5a5ae0" stroke-width="0.9" stroke-dasharray="0.8 1.8" stroke-linecap="round"/>
<line x1="567.8" y1="47.4" x2="627.5" y2="35.9" stroke="#ea8f18" stroke-width="1.3" stroke-dasharray="1.6 2.4" stroke-linecap="round"/>
<line x1="650.0" y1="32.7" x2="662.0" y2="32.7" stroke="#5a5ae0" stroke-width="0.9" stroke-dasharray="0.8 1.8" stroke-linecap="round"/>
<text x="305.5" y="18.2" font-size="21.5">b</text>
<text x="313.5" y="42.2" font-size="9.3">~6.5 &#197;</text>
<text x="380.4" y="34.3" font-size="9.3">~10 &#197;</text>
<text x="351.0" y="45.6" font-size="9">&#8722;1</text>
<text x="409.5" y="58.5" font-size="9.4">D305</text>
<text x="307.4" y="71.8" font-size="9.4">D269</text>
<text x="367.7" y="97.7" font-size="9.6" text-anchor="middle">Site I</text>
<text x="370.4" y="109.5" font-size="9.6" text-anchor="middle">D269 interacts with G7</text>
<text x="447.6" y="38.5" font-size="9.3">~9.5 &#197;</text>
<text x="518.0" y="29.3" font-size="9.3">~8.5 &#197;</text>
<text x="494.0" y="38.9" font-size="9">&#8722;1</text>
<text x="533.4" y="58.3" font-size="9.4">D305</text>
<text x="436.3" y="70.6" font-size="9.4">D269</text>
<text x="494.2" y="97.7" font-size="9.6" text-anchor="middle">Site II</text>
<text x="495.0" y="109.5" font-size="9.6" text-anchor="middle">D269 releases G7</text>
<text x="581.8" y="35.3" font-size="9.5" class="ser">~10 &#197;</text>
<text x="655.4" y="28.7" font-size="9.5" class="ser">~6 &#197;</text>
<text x="633.0" y="36.5" font-size="9">&#8722;1</text>
<text x="663.5" y="58.3" font-size="9.4">D305</text>
<text x="564.4" y="70.6" font-size="9.4">D269</text>
<text x="619.2" y="97.7" font-size="9.6" text-anchor="middle">Site III</text>
<text x="620.6" y="109.5" font-size="9.6" text-anchor="middle">D305 interacts with G7</text>
<clipPath id="cwt"><rect x="370.7" y="152.9" width="259.0" height="248.4"/></clipPath>
<g clip-path="url(#cwt)">
<path fill="#0006ff" fill-rule="evenodd" d="M367.7 149.9L633.7 149.9L633.7 405.9L367.7 405.9Z"/>
<path fill="#0013ff" fill-rule="evenodd" d="M367.7 149.9L633.7 149.9L633.7 332.2L628.6 339.9L623.7 345.9L621.9 349.9L621.3 353.9L621.7 357.9L622.2 359.9L623.7 363.9L625.7 367.2L627.7 369.1L629 369.9L631.7 370.5L633.7 370.6L633.7 405.9L367.7 405.9Z"/>
<path fill="#0020ff" fill-rule="evenodd" d="M367.7 149.9L633.7 149.9L633.7 315.7L629.7 317.1L627.7 318.2L625.5 319.9L622.2 323.9L620.3 327.9L619.2 331.9L616.8 341.9L616.4 345.9L616.6 349.9L617.7 355.9L619.9 361.9L622 365.9L624.9 369.9L627.4 371.9L629.7 372.6L633.7 372.9L633.7 405.9L367.7 405.9Z"/>
<path fill="#002dff" fill-rule="evenodd" d="M367.7 149.9L633.7 149.9L633.7 303.2L627.7 302.5L623.7 302.7L619 303.9L613.7 306.5L609.2 309.9L605.4 313.9L603.7 316.5L602.1 319.9L601.3 323.9L601.6 327.9L603 331.9L609.7 345.1L615.3 357.9L619.6 365.9L622.5 369.9L625.7 373L627.7 374L633.7 374.7L633.7 405.9L367.7 405.9Z"/>
<path fill="#0039ff" fill-rule="evenodd" d="M367.7 149.9L633.7 149.9L633.7 293.4L627.7 291.6L621.7 290.8L615.7 291.5L609.5 293.9L605.7 296.1L600.6 299.9L593.6 305.9L589.5 309.9L586.2 313.9L585.2 315.9L584.5 317.9L584.3 319.9L584.9 323.9L586.6 327.9L587.9 329.9L591.3 333.9L601.7 343.5L605.7 348.1L609.7 353.8L617.5 365.9L621.7 371.3L623.7 373.3L625.7 374.7L629.5 375.9L633.7 376.2L633.7 405.9L367.7 405.9Z"/>
<path fill="#0046ff" fill-rule="evenodd" d="M367.7 149.9L633.7 149.9L633.7 284.9L627.7 282L621.7 279.8L617.7 279.2L615.7 279.3L611.7 280.3L607.7 282.3L603.7 284.9L591.7 294.4L583.7 299.6L575.7 303L563.7 306.8L559.7 308.5L555.7 310.8L551.7 314L549.7 316.4L547.7 319.9L547.3 321.9L547.3 323.9L548 325.9L549.9 327.9L553.7 329.9L559.7 331.3L571.7 332.5L575.7 333.6L581.7 336.4L593.7 343.4L599.7 347.7L603.7 351.4L609.7 358.3L618.6 369.9L622.4 373.9L625.7 376.1L629.7 377.2L633.7 377.6L633.7 405.9L367.7 405.9Z"/>
<path fill="#0053ff" fill-rule="evenodd" d="M367.7 149.9L633.7 149.9L633.7 277L626.9 271.9L622.1 267.9L616.5 261.9L614.5 257.9L613.2 249.9L611.7 245.3L605.7 235.4L603.7 233.3L601.7 232.6L599.7 234L598.8 235.9L598.3 237.9L598 241.9L598.7 245.9L599.7 248.6L601.7 252.1L604.4 255.9L606.5 259.9L606.8 261.9L606.6 263.9L604.9 267.9L603.6 269.9L598.9 275.9L593.5 281.9L589.2 285.9L585.7 288.5L581.7 290.7L577.7 292.3L565.7 295.7L561.7 297.2L557.7 299.3L553.7 302.3L549.7 306.7L545.7 312.8L543.3 317.9L542.1 321.9L541.8 323.9L542.1 325.9L543.7 328.9L545.7 330.7L549.7 333.1L557.7 335.9L571.7 339L577.7 340.7L587.7 344.9L595.7 349.2L601.7 353.6L605.7 357.3L616.8 369.9L621.7 374.7L623.7 376.2L627.6 377.9L633.7 378.9L633.7 405.9L367.7 405.9Z"/>
<path fill="#0060ff" fill-rule="evenodd" d="M367.7 149.9L633.7 149.9L633.7 269.5L628.4 263.9L624.2 257.9L617.8 243.9L612.4 233.9L607.9 223.9L606.7 221.9L605.7 220.7L603.7 219.4L601.7 219L599.7 219.3L597.7 220.2L595.6 221.9L592.8 225.9L590.2 231.9L588.5 237.9L587.6 243.9L587.6 247.9L588.1 251.9L589.8 259.9L590.2 263.9L590.1 265.9L589.1 269.9L586.2 275.9L583.1 279.9L580.6 281.9L577.7 283.3L567.7 286.1L561.7 288.5L555.7 292.2L551.7 295.8L547.7 300.9L543.7 308.5L539.9 317.9L538.5 323.9L538.6 325.9L539.1 327.9L540.2 329.9L542.1 331.9L545.7 334.4L553.7 338.1L559.7 340L577.7 344.9L583.7 347L591.7 350.5L597.7 354L603.7 358.5L607.7 362.3L616.9 371.9L621.4 375.9L625.7 378.3L629.7 379.5L633.7 380.1L633.7 405.9L367.7 405.9Z"/>
<path fill="#006cff" fill-rule="evenodd" d="M367.7 149.9L633.7 149.9L633.7 262.6L628.6 255.9L625 249.9L616.3 233.9L609.7 218.2L607.9 215.9L605.7 214.5L603.7 213.8L601.7 213.6L597.7 214L593.8 215.9L591.7 217.8L590 219.9L587.7 223.7L580.5 239.9L577.8 247.9L575.2 261.9L573.3 267.9L570.5 271.9L568.3 273.9L559.7 280.3L553.7 285.8L549.7 290.2L545.7 295.9L543.7 299.9L541.7 305L537.9 315.9L536.4 321.9L536 325.9L536.3 327.9L537.2 329.9L538.7 331.9L541.7 334.5L545.7 337.1L551.4 339.9L556.5 341.9L563.7 344.3L581.7 349.6L587.7 351.8L593.7 354.6L597.7 356.9L603.7 361.2L617.3 373.9L621.7 377.3L623.7 378.5L627.7 380L633.7 381.3L633.7 405.9L367.7 405.9Z"/>
<path fill="#0079ff" fill-rule="evenodd" d="M367.7 149.9L633.7 149.9L633.7 256.4L629 249.9L620.5 235.9L616.5 227.9L611.8 215.9L609.7 213.1L607.7 211.7L605.7 211L599.7 209.9L595.7 210.2L591.5 211.9L589 213.9L585.7 217.9L577.7 231.7L568 245.9L564.9 251.9L560.2 263.9L557.4 269.9L543.6 291.9L541.6 295.9L537.7 308.7L535.2 317.9L533.9 325.9L534.1 327.9L534.8 329.9L536.1 331.9L540.4 335.9L545.7 339.4L551.7 342.4L559.7 345.7L566.2 347.9L583.7 353L593.7 357.2L599.7 360.7L603.7 363.5L615.6 373.9L620.9 377.9L625.7 380.3L633.7 382.4L633.7 405.9L367.7 405.9Z"/>
<path fill="#0086ff" fill-rule="evenodd" d="M367.7 149.9L397.6 149.9L396.9 151.9L396.7 153.9L397.3 157.9L398.2 159.9L399.6 161.9L401.7 163L403.7 162.4L404.1 161.9L405 159.9L405.3 157.9L404.9 153.9L404.3 151.9L403 149.9L633.7 149.9L633.7 251.1L627.7 242.7L621 231.9L618.1 225.9L613.7 214.8L611.7 211.6L609.4 209.9L605.7 208.4L601.7 207.4L597.7 206.7L593.7 206.7L591.7 207.1L589.7 207.9L587.7 209.2L585.7 211L583.3 213.9L575.7 225.1L573.7 227.5L560.2 239.9L557.7 243L555.7 246.6L553.8 251.9L551.5 263.9L549.8 269.9L546.6 277.9L540 291.9L538.6 295.9L533.7 316.3L532.3 325.9L532.4 327.9L532.9 329.9L535.7 333.9L539.7 337.5L545.7 341.5L553.7 345.5L561.7 348.9L583.7 355.6L593.7 359.6L599.7 362.9L603.7 365.6L616.4 375.9L621.7 379.5L627.7 382L633.7 383.5L633.7 405.9L367.7 405.9ZM547.7 159.5L547.1 159.9L547 161.9L547.7 162.4L549.7 162.5L550.6 161.9L550.8 159.9L549.7 159.3Z"/>
<path fill="#0093ff" fill-rule="evenodd" d="M367.7 149.9L394 149.9L393.8 151.9L394.1 155.9L396.1 161.9L397.7 164.5L399.7 166.5L401.7 167.8L403.7 168.3L405.7 167.4L407.6 163.9L408.1 161.9L408.4 155.9L407.8 151.9L407.2 149.9L633.7 149.9L633.7 246.6L627.7 238.4L622.3 229.9L619.3 223.9L615.2 213.9L613.7 211.1L612.7 209.9L609.7 208L605.7 206.3L595.7 203.4L591.7 202.9L589.7 203L587.7 203.6L585.7 204.8L582.6 207.9L575.7 217L571.7 221.4L569.7 223.1L565.7 225.8L553.7 231.4L551.7 233.1L549.7 236L547.7 241.7L546.5 247.9L546 259.9L545 267.9L542.9 275.9L537.7 290L536 295.9L532.1 315.9L531 325.9L531.3 329.9L533.7 333.6L535.7 335.9L539.7 339.4L545.7 343.4L555.7 348.5L563.7 351.9L585.7 358.5L593.7 361.8L599.7 364.9L603.7 367.5L614.7 375.9L620.6 379.9L625.7 382.3L633.7 384.6L633.7 405.9L367.7 405.9ZM531.7 206.8L531.4 207.9L531.7 208.5L533.7 209.7L534.6 207.9L533.7 206.1ZM543.7 151.8L541.7 152.3L538.4 153.9L536.4 155.9L535.2 157.9L534.5 159.9L534.3 163.9L535.6 167.9L537.7 170.4L539.7 171.6L541.7 172.2L543.7 172.5L547.7 172.4L551.7 171.6L553.7 170.7L555.7 169.4L557 167.9L558.1 165.9L558.7 161.9L558.5 159.9L557.7 157.1L555.7 154.8L551.7 152.7L547.7 151.7Z"/>
<path fill="#009fff" fill-rule="evenodd" d="M367.7 149.9L391.7 149.9L391.9 153.9L392.7 157.9L394 161.9L395.7 165.2L397.7 167.8L401.7 171.7L403.7 172.9L405.7 172.9L407.7 171.2L408.4 169.9L409.7 166.8L410.3 163.9L410.8 157.9L410 149.9L533.5 149.9L531.3 151.9L529.7 153.9L528.7 155.9L527.5 159.9L527.2 165.9L527.9 169.9L529.7 175.4L533.7 182.9L535.7 184.7L537.7 184.1L541.2 181.9L545.3 179.9L551.7 178L555.7 176.5L559.6 173.9L561.2 171.9L562 169.9L562.6 165.9L562.2 161.9L561.1 157.9L559.7 155.2L557.7 152.9L553.2 149.9L633.7 149.9L633.7 242.6L627.7 234.7L623.7 228.6L620.2 221.9L615.7 211.5L613.7 208.8L611.7 207.3L607.7 205.3L591.7 198.6L587.7 197.6L585.7 197.9L583.7 199L581.7 201.3L575.7 210L571.7 214.5L569.7 216.2L565.7 218.6L563.7 219.4L559.7 220.1L555.7 219.9L553.7 219.4L550.8 217.9L548.7 215.9L547.2 213.9L545.7 210.8L539.7 195.9L537.7 192.2L535.7 189.7L533.7 190L531.7 191.8L529.7 194.4L526.9 199.9L525.7 203.6L525.4 205.9L525.9 209.9L527.7 214L529.7 216.9L535.8 223.9L538.3 227.9L539.1 229.9L540.1 233.9L540.7 239.9L541.1 257.9L540.7 265.9L539 275.9L534.1 293.9L531.3 309.9L530.3 317.9L529.7 325.9L530 329.9L531 331.9L535.7 337.7L539.7 341.3L543.7 344L553.7 349.5L563.7 354.1L585.7 360.6L593.7 363.8L599.7 366.8L603.7 369.3L615.7 377.9L619.7 380.4L625.7 383.3L633.7 385.8L633.7 405.9L367.7 405.9Z"/>
<path fill="#00acff" fill-rule="evenodd" d="M367.7 149.9L389.9 149.9L390.3 153.9L391.1 157.9L392.4 161.9L393.7 165L397.7 170.6L401.7 175.2L403.7 176.7L405.7 177.2L407.7 176.6L409.7 174.1L411.7 168.5L412.5 163.9L412.8 159.9L412.7 153.9L412.3 149.9L525.7 149.9L523.7 153.4L522.8 155.9L521.7 161.9L521.7 167.9L524 179.9L524.5 185.9L524.3 189.9L522.3 201.9L522.3 207.9L523.8 213.9L525.7 218L531.4 227.9L533.2 231.9L534.4 235.9L535.3 239.9L536 245.9L536.9 259.9L536.8 265.9L536.2 271.9L531.7 294.1L529.3 311.9L528.7 325.9L529 329.9L529.7 331.8L533.7 337.2L536.2 339.9L539.7 343L544.1 345.9L555.7 352.5L559.7 354.5L565.7 356.8L583.7 362L593.7 365.7L599.7 368.6L603.7 370.9L619.7 381.5L625.7 384.3L633.7 386.9L633.7 405.9L367.7 405.9ZM557.5 149.9L633.7 149.9L633.7 239.1L627.7 231.4L624.1 225.9L620.9 219.9L617.3 211.9L615.7 209.1L614.6 207.9L611.7 205.8L600.3 199.9L594 195.9L589.6 191.9L585.7 187.3L583.7 185.9L581.7 185.6L579.7 186.6L578.9 187.9L577.2 197.9L575.8 201.9L573.7 205.5L571.9 207.9L569.7 210L567.7 211.5L563.7 213.1L559.7 213.4L557.7 212.9L555.7 212.1L553.7 210.6L551.7 208.5L549.1 203.9L547.3 197.9L547 193.9L547.9 189.9L548.9 187.9L551.7 185.2L555.7 182.9L562.7 179.9L565.6 177.9L566.8 175.9L567.1 173.9L566.5 167.9L564.4 159.9L562.5 155.9L561.3 153.9Z"/>
<path fill="#00b9ff" fill-rule="evenodd" d="M367.7 149.9L388.4 149.9L388.8 153.9L390.3 159.9L391.7 163.9L393.7 167.6L399.7 176L401.7 178.3L403.7 180.1L405.7 181.2L407.7 181.2L409.7 179.6L411.7 176.1L413.7 169.1L414.7 159.9L414.4 149.9L519.6 149.9L517.7 155.9L517 163.9L517.4 169.9L519.1 179.9L519.7 185.9L519.2 201.9L519.5 207.9L520.2 211.9L521.4 215.9L528.4 231.9L530.3 237.9L531.9 245.9L533 257.9L533.1 265.9L532.8 271.9L529.2 295.9L527.6 311.9L527.7 327L528.1 329.9L528.8 331.9L531.7 336.5L535.7 341.2L537.7 343L541.7 346L555.7 354.4L559.7 356.4L565.7 358.8L583.7 363.9L593.7 367.5L601.7 371.4L619.7 382.5L625.7 385.3L633.7 388L633.7 405.9L367.7 405.9ZM560.3 149.9L633.7 149.9L633.7 235.9L629.7 231L625.7 225.4L622.5 219.9L617.4 209.9L615.7 207.4L611.7 204.5L600.7 197.9L595.8 193.9L592.4 189.9L589.7 185L587.5 181.9L583.9 179.9L577.7 177.3L575.7 176L573.7 174L571.1 169.9L566.8 159.9L564.8 155.9L562 151.9ZM559.4 187.9L561.7 187.2L563.7 187L565.7 187.2L567.7 188L569.9 189.9L571.1 191.9L571.8 193.9L571.9 197.9L570.6 201.9L569.3 203.9L567.7 205.4L565.7 206.7L563.7 207.4L561.7 207.5L559.7 207.1L557.7 206.2L555.3 203.9L554.1 201.9L553.4 199.9L553.1 195.9L553.5 193.9L554.4 191.9L556.1 189.9Z"/>
<path fill="#00c6ff" fill-rule="evenodd" d="M367.7 149.9L387 149.9L387.5 153.9L389.1 159.9L391.7 166.6L397.7 176L401.7 181.4L405.7 185.4L407.7 186L409.7 184.9L411.7 182.1L413.5 177.9L414.6 173.9L416.3 163.9L416.6 157.9L416.4 149.9L514.4 149.9L513.1 155.9L512.9 163.9L513.5 169.9L515.9 185.9L516.4 201.9L516.9 207.9L517.7 212.6L519.2 217.9L524.5 231.9L526.3 237.9L528.3 247.9L529.4 257.9L529.7 265.9L529.4 273.9L526.9 297.9L526 311.9L526.9 327.9L527.8 331.9L531.7 338.1L534.8 341.9L537.7 344.7L541.7 347.6L555.7 356.2L559.7 358.2L565.7 360.6L585.7 366.4L595.7 370.1L603.7 374.1L619.7 383.6L627.7 387.1L633.7 389.2L633.7 405.9L367.7 405.9ZM562.6 149.9L633.7 149.9L633.7 233L629.7 228.2L625.7 222.6L617.2 207.9L613.7 204.6L603.8 197.9L598.8 193.9L595.4 189.9L590.8 181.9L589.2 179.9L579.7 174.2L576.9 171.9L573.7 167.9L566.9 155.9ZM560.6 195.9L561.7 194.9L563.7 194.7L565.4 195.9L565.9 197.9L564.9 199.9L563.7 200.7L561.7 200.5L560.9 199.9L559.9 197.9Z"/>
<path fill="#00d2ff" fill-rule="evenodd" d="M367.7 149.9L385.7 149.9L387.9 159.9L389.3 163.9L391.2 167.9L397.7 178.6L401.7 184.5L405.7 189.1L407.7 190L409.7 189.3L411.7 187.3L413.7 183.7L415.7 177.9L417.4 169.9L418.1 163.9L418.4 149.9L509.5 149.9L508.8 155.9L509 163.9L512.4 185.9L514.6 209.9L516.4 217.9L520.9 231.9L523.1 239.9L524.6 247.9L525.6 255.9L526.3 265.9L526.3 273.9L524.5 301.9L524.3 311.9L526 327.9L526.9 331.9L527.7 333.7L533.3 341.9L537.3 345.9L551.7 355.5L557.7 359L565.7 362.4L583.7 367.5L595.7 371.7L603.7 375.6L618.1 383.9L625.7 387.4L633.7 390.5L633.7 405.9L367.7 405.9ZM564.7 149.9L633.7 149.9L633.7 230.3L627 221.9L618.3 207.9L613.7 203.4L606.3 197.9L601.5 193.9L599.5 191.9L596.4 187.9L591.6 179.9L589.7 178L581.1 171.9L577.7 168.6L575.5 165.9L569.1 155.9Z"/>
<path fill="#00dfff" fill-rule="evenodd" d="M367.7 149.9L384.5 149.9L385.7 155.6L387.4 161.9L389.9 167.9L397.7 181.4L401.7 187.5L403.7 190L405.7 191.7L407.7 192.5L409.7 192.3L411.7 191L412.7 189.9L415.1 185.9L416.7 181.9L418.2 175.9L419.7 165.9L420.4 149.9L504.8 149.9L504.5 155.9L505.2 163.9L509 185.9L512 209.9L514.2 219.9L519.5 239.9L521.8 253.9L522.7 263.9L523.1 273.9L522.5 309.9L523.1 315.9L525.4 329.9L526.8 333.9L531.7 341.5L535.7 346.1L539.7 349.2L556.1 359.9L560.1 361.9L565.7 364.1L583.7 369.2L595.7 373.3L603.7 377L617.7 384.8L627.7 389.4L633.7 391.7L633.7 405.9L367.7 405.9ZM566.7 149.9L633.7 149.9L633.7 227.7L627.7 220.5L619.3 207.9L613.7 202.1L606.1 195.9L601.9 191.9L598.6 187.9L594.8 181.9L591.7 177.9L582.3 169.9L578.6 165.9Z"/>
<path fill="#00ecff" fill-rule="evenodd" d="M367.7 149.9L383.4 149.9L385.7 159.4L387.9 165.9L397.7 184.1L401.5 189.9L403.7 192.3L405.7 193.9L407.7 195L409.7 195.1L411.7 194.1L413.7 192.2L415.4 189.9L417.5 185.9L418.9 181.9L420.2 175.9L421.7 165.9L422.5 149.9L500.1 149.9L500.2 155.9L501.3 163.9L505.7 186.4L510.5 215.9L515.5 237.9L517.6 249.9L519 261.9L519.7 272.1L520.6 309.9L521.1 313.9L524.5 329.9L525.9 333.9L531.7 343.3L535.7 347.7L555.7 361.3L560.9 363.9L565.7 365.8L583.7 370.9L597.7 375.7L603.7 378.5L615.7 385L633.7 393.1L633.7 405.9L367.7 405.9ZM568.9 149.9L633.7 149.9L633.7 225.3L627.7 218.2L620.5 207.9L613.7 200.7L606.2 193.9L602.4 189.9L595.2 179.9L591.7 176L581.5 165.9Z"/>
<path fill="#00f9ff" fill-rule="evenodd" d="M367.7 149.9L382.5 149.9L385.4 161.9L386.8 165.9L395.7 183.3L399.7 189.9L401.7 192.5L405.7 196.6L407.7 198L409.7 198.8L411.7 198.1L416.8 191.9L419.1 187.9L420.5 183.9L422 177.9L423.8 165.9L424.9 149.9L495.3 149.9L496.4 159.9L501.7 184.2L505.6 203.9L513.1 245.9L515.7 268.6L518.5 309.9L519.9 315.9L522.8 325.9L524.1 331.9L525.9 335.9L530.9 343.9L534.3 347.9L537.7 350.6L551.7 360.4L555.7 362.9L561.7 365.8L565.7 367.3L583.7 372.5L597.7 377.2L603.7 380L615.7 386.3L633.7 394.6L633.7 405.9L367.7 405.9ZM571.1 149.9L633.7 149.9L633.7 223L627.7 216L621.7 207.9L613.7 199.1L604.6 189.9L597.1 179.9L584.3 165.9Z"/>
<path fill="#00fff9" fill-rule="evenodd" d="M367.7 149.9L381.5 149.9L385.8 165.9L387.7 170.3L395.7 186L399.4 191.9L402.6 195.9L407.7 202.9L409.7 204.9L411.7 205.3L414.1 203.9L415.1 201.9L417.1 195.9L420.9 189.9L423.1 183.9L424.1 179.9L426.6 165.9L427.6 155.9L427.9 149.9L490.4 149.9L491.9 159.9L503 207.9L508.5 243.9L513.7 290L514.3 297.9L515.7 307.9L516.6 311.9L521.7 325.6L523.2 331.9L524.9 335.9L529.7 344L533.7 348.8L551.6 361.9L555.7 364.4L561.7 367.3L565.7 368.9L589.7 376L597.7 378.8L607.7 383.5L615.7 387.7L633.7 396.1L633.7 405.9L367.7 405.9ZM573.6 149.9L633.7 149.9L633.7 220.7L627.7 214L623 207.9L619.1 203.9L615.7 199.7L606.8 189.9L599.1 179.9L593.8 173.9L580.7 157.9Z"/>
<path fill="#00ffec" fill-rule="evenodd" d="M367.7 149.9L380.7 149.9L383.7 162.2L385.5 167.9L391.7 181.1L395.7 188.8L401.8 197.9L406.6 205.9L407.7 207.2L409.7 208.6L411.7 209.2L413.7 209.3L415.7 208.9L417.5 207.9L419.2 205.9L419.7 204.8L421.1 197.9L425.2 187.9L426.9 181.9L429 171.9L431.7 165.2L433.7 162.8L435.7 162.4L439.7 162.9L441.7 162.6L442.7 161.9L444 159.9L444 157.9L443 155.9L441.7 154.5L437 151.9L435.8 149.9L485.3 149.9L490.7 177.9L497.7 202.8L499.2 209.9L500.3 217.9L506.1 273.9L509 297.9L510.7 303.9L512.9 309.9L519.7 323.8L522.9 333.9L527.2 341.9L529.8 345.9L533.7 350.3L549.7 362.1L555.7 365.9L561.7 368.8L565.7 370.4L589.7 377.6L597.7 380.4L605.4 383.9L615.7 389.4L633.7 398L633.7 405.9L367.7 405.9ZM576.4 149.9L633.7 149.9L633.7 218.5L629.7 214.3L624.5 207.9L619.7 203L601.3 179.9L596 173.9L591.7 167.9L585.4 159.9Z"/>
<path fill="#00ffdf" fill-rule="evenodd" d="M367.7 149.9L379.8 149.9L383.3 163.9L385.3 169.9L391.7 183.8L395.7 191.5L399.7 197.9L403.7 205.5L405.7 208.3L407.7 210.2L409.7 211.5L411.7 212.3L415.7 213L417.7 212.9L421.1 211.9L424.1 209.9L425.6 207.9L427.1 203.9L428.2 195.9L429.7 189.5L431.7 182.2L433.2 177.9L434.3 175.9L436 173.9L437.7 172.7L443.7 169.8L445.7 168.4L448 165.9L449.1 163.9L450.3 159.9L450.6 155.9L450.4 149.9L479.5 149.9L481.3 155.9L482.4 161.9L483.1 167.9L483.6 177.9L484.2 181.9L491.6 203.9L493.3 211.9L493.9 219.9L493.3 235.9L493.5 241.9L496.1 259.9L496.7 275.9L498 293.9L499.3 299.9L501.2 303.9L503 305.9L509.7 311.5L513.7 316.5L518.2 323.9L519.7 327.3L521.1 331.9L522.7 335.9L527.2 343.9L531.7 349.8L535.7 353.2L551.7 364.9L559.7 369.4L567.7 372.5L589.7 379.2L597.7 382L606 385.9L615.7 391.2L633.7 400L633.7 405.9L367.7 405.9ZM579.5 149.9L633.7 149.9L633.7 216.3L620.3 201.9L615.7 195.5L597.1 171.9L593.2 165.9L588.7 159.9L585.3 155.9Z"/>
<path fill="#00ffd2" fill-rule="evenodd" d="M367.7 149.9L379 149.9L382.9 165.9L385 171.9L393.3 189.9L402.9 207.9L405.7 211.3L409.7 214.3L413.7 216L419.7 217L423.7 216.8L429.7 215.5L433.9 213.9L435.7 212.9L437.3 211.9L439.5 209.9L440.8 207.9L441.4 205.9L441.5 203.9L440.2 193.9L440.4 189.9L440.9 187.9L441.7 185.9L442.9 183.9L449.7 176.7L452.9 171.9L454.9 165.9L456.9 155.9L458.5 151.9L459.8 149.9L471.3 149.9L471.7 150.2L473.7 152.9L475.1 155.9L475.8 157.9L476.5 161.9L476.5 167.9L474.1 179.9L473.8 183.9L474.5 189.9L477.6 201.9L478 205.9L478 207.9L477.6 209.9L476.6 211.9L474.6 213.9L471.7 215.4L463.7 218.1L461.1 219.9L459.7 221.6L458.8 223.9L458.3 225.9L458.1 229.9L458.9 235.9L459.9 239.9L461.7 244.3L467 253.9L468.8 257.9L471.7 269.3L472.9 271.9L476.1 275.9L481.7 281L485.6 285.9L487.7 289.7L493.3 301.9L495.6 305.9L497.2 307.9L499.7 310.1L507.7 314.2L511.7 317.6L513.7 320L517.7 326.2L521.6 335.9L526 343.9L529.7 349.1L533.7 353L549.7 365L557.7 369.8L565.7 373.3L592.9 381.9L601.7 385.6L606.2 387.9L617.7 394.7L633.7 402.1L633.7 405.9L367.7 405.9ZM582.9 149.9L633.7 149.9L633.7 214.1L621.7 201.5L611.7 187.1L600 171.9L592.3 159.9L588.9 155.9Z"/>
<path fill="#00ffc6" fill-rule="evenodd" d="M367.7 149.9L378.3 149.9L382.5 167.9L384.7 173.9L392.8 191.9L400.8 207.9L403.5 211.9L407.7 215.8L411.7 218.2L417.7 220.5L431.7 223L435.7 224.1L439.7 226.2L443.6 229.9L447.7 236.3L458.2 255.9L460 261.9L460.4 269.9L461 273.9L461.8 275.9L463.1 277.9L465 279.9L467.6 281.9L475.7 286.8L479.9 289.9L483.7 294.4L491.6 305.9L495.7 310.8L497.7 312.4L503.7 315.1L507.7 317.3L511.7 320.7L515.8 325.9L517.7 329.6L520.3 335.9L524.8 343.9L527.5 347.9L531 351.9L535.7 355.8L549 365.9L557.7 371.2L567.7 375.4L589.7 382.5L598.5 385.9L606 389.9L617.7 397.8L633.7 404.4L633.7 405.9L367.7 405.9ZM586.5 149.9L633.7 149.9L633.7 211.8L624 201.9L622.4 199.9L613.7 186.3L603 171.9L595.7 159.5L592.8 155.9ZM465.2 161.9L465.7 159.9L466.2 161.9L465.7 162.6Z"/>
<path fill="#00ffb9" fill-rule="evenodd" d="M367.7 149.9L377.5 149.9L381.7 168.3L383.7 174.5L389.7 188.5L397.9 205.9L399.9 209.9L402.7 213.9L405.7 217L411.7 221.2L417.7 223.9L429.7 228.3L433.7 230.6L437.5 233.9L440.6 237.9L444.6 243.9L449.3 251.9L452.4 257.9L453.8 261.9L454.1 263.9L454.7 273.9L455.7 277.5L457.1 279.9L458.9 281.9L461.4 283.9L473.7 291.3L477.7 294.2L483.7 300.3L491.7 309.9L495.7 313.5L505.7 318.7L509.7 321.5L511.7 323.4L513.7 325.8L515.7 328.9L520.1 337.9L524.9 345.9L529.7 352L533.7 355.6L547.7 366.3L551.7 369.1L557.7 372.5L567.7 376.9L589 383.9L595.7 386.5L601.7 389.6L605.4 391.9L615.7 400.4L617.7 401.3L625.7 403.7L631.6 405.9L367.7 405.9ZM590.5 149.9L633.7 149.9L633.7 209.5L624.6 199.9L621.9 195.9L616.2 185.9L604.6 169.9L598.3 157.9L594.9 153.9Z"/>
<path fill="#00ffac" fill-rule="evenodd" d="M367.7 149.9L376.8 149.9L378.8 157.9L381.1 169.9L382.3 173.9L391.7 196.3L397.7 209.5L400.3 213.9L403.7 217.9L409.7 222.9L415.7 226.4L425.7 231.2L429.8 233.9L432.2 235.9L435.7 239.8L441.6 247.9L445.2 253.9L448 259.9L449.2 263.9L450.4 273.9L451.3 277.9L453.5 281.9L455.4 283.9L461 287.9L469.7 292.9L475.7 296.9L481.7 302.2L489.1 309.9L493.4 313.9L496.3 315.9L505.7 321L509.7 324L513.7 328.6L522.4 343.9L525 347.9L527.7 351.3L533.7 356.9L547.7 367.7L555.7 372.8L563.7 376.7L571.7 379.8L589.7 385.9L595.7 388.4L599.7 390.6L604.6 393.9L613.7 402.2L617.1 403.9L624.5 405.9L367.7 405.9ZM594.4 149.9L633.7 149.9L633.7 207L628.7 201.9L625.5 197.9L617.8 183.9L607.5 169.9L605.3 165.9L601.7 158L600.4 155.9L598.8 153.9Z"/>
<path fill="#00ff9f" fill-rule="evenodd" d="M367.7 149.9L376 149.9L378 157.9L380.1 169.9L381.7 175.4L389.7 195.4L395.7 209.2L398.1 213.9L401 217.9L405.7 222.7L411.7 227.3L421.7 232.9L426.2 235.9L430.5 239.9L435.7 246.1L441.1 253.9L444.2 259.9L446.1 265.9L448 277.9L449.5 281.9L451 283.9L455.9 287.9L473.7 298.7L479.7 303.4L488.6 311.9L493.4 315.9L503.7 321.9L509.1 325.9L511.7 328.7L513.7 331.4L521.1 343.9L523.8 347.9L526.9 351.9L531.7 356.5L546.1 367.9L553.7 373L563.7 378.2L571.7 381.4L587.7 386.9L595.7 390.5L599.7 392.9L603.7 395.9L612.3 403.9L616 405.9L367.7 405.9ZM598.1 149.9L633.7 149.9L633.7 204.3L629.7 199.9L627.7 197.2L625.8 193.9L622.1 185.9L619.7 182L613.2 173.9L609.7 169.1L606.9 163.9L603.4 155.9L601.7 153.4Z"/>
<path fill="#00ff93" fill-rule="evenodd" d="M367.7 149.9L375.3 149.9L377.3 157.9L379.2 169.9L380.7 175.9L389.7 199.4L395 211.9L397 215.9L400 219.9L407.7 227.4L411.7 230.4L420.9 235.9L425.7 239.8L431.4 245.9L435.7 251.3L438.9 255.9L442 261.9L443.8 267.9L445.9 279.9L447.6 283.9L449.4 285.9L454.8 289.9L473.7 301.4L479.7 306.1L491 315.9L493.8 317.9L503.7 323.9L507.7 326.9L511.7 331.3L521.1 345.9L525.7 352L531.7 357.8L545.7 368.9L553.7 374.3L563.7 379.6L571.7 382.9L587.7 388.7L594.5 391.9L600.4 395.9L609.1 403.9L611.7 405.9L367.7 405.9ZM601.3 149.9L633.7 149.9L633.7 201.2L629.7 195.9L623.7 183L621.4 179.9L614.4 171.9L611.7 168.2L609.2 163.9L604.8 153.9Z"/>
<path fill="#00ff86" fill-rule="evenodd" d="M367.7 149.9L374.5 149.9L376.6 157.9L378.6 171.9L379.5 175.9L388.2 199.9L393.7 213.6L395.7 217.6L398.9 221.9L404.7 227.9L409.7 232L418.9 237.9L421.7 240.1L427.7 246L434.5 253.9L438.4 259.9L440.3 263.9L442.1 269.9L444.2 281.9L445 283.9L446.3 285.9L448.4 287.9L451.2 289.9L473.7 303.7L491.4 317.9L501.7 324.4L505.7 327.4L508.4 329.9L511.7 333.8L521.2 347.9L526.1 353.9L531.7 359.1L545.7 370.3L553.7 375.7L563.7 381.1L571.7 384.5L586.3 389.9L591.7 392.4L597.7 396.3L608.4 405.9L367.7 405.9ZM603.9 149.9L633.7 149.9L633.7 197.5L630.5 191.9L627.7 184.8L626.2 181.9L622.9 177.9L617.1 171.9L613.7 167.7L610.3 161.9L606.8 153.9L605.7 152Z"/>
<path fill="#00ff79" fill-rule="evenodd" d="M367.7 149.9L373.8 149.9L375.9 157.9L377.5 171.9L378.4 175.9L382.7 187.9L386.4 199.9L393.7 218.5L395.9 221.9L403.4 229.9L407.7 233.5L417.7 240.3L421.7 243.6L427.7 249.5L433.7 256.4L437.2 261.9L439 265.9L440.7 271.9L441.9 279.9L442.9 283.9L443.8 285.9L445.5 287.9L451.2 291.9L471.7 304.4L477.7 308.7L489.7 318.3L503.9 327.9L507.7 331.4L509.7 333.6L519.8 347.9L525.7 354.9L531.7 360.4L545.7 371.6L553.7 377L563.7 382.5L571.7 386.1L585.7 391.5L590.7 393.9L596.5 397.9L605.4 405.9L367.7 405.9ZM606 149.9L633.7 149.9L633.7 192.6L629.7 183.2L627.8 179.9L617.9 169.9L614.7 165.9L612.2 161.9L607.7 152.4Z"/>
<path fill="#00ff6c" fill-rule="evenodd" d="M367.7 149.9L373 149.9L374.8 155.9L375.6 159.9L376.6 171.9L377.3 175.9L381.4 187.9L385.2 201.9L388.4 209.9L391.8 219.9L394.4 223.9L400.1 229.9L404.6 233.9L419.7 244.9L427.7 252.4L432.5 257.9L435.7 262.8L438 267.9L439.6 273.9L441.1 283.9L441.7 285.9L443.1 287.9L445.3 289.9L448.4 291.9L473.7 307.6L489.7 319.8L498.7 325.9L503.7 329.7L509.6 335.9L520 349.9L525.3 355.9L531.7 361.7L545.7 373L553.7 378.4L563.7 384L571.7 387.8L585.7 393.4L589.7 395.4L595.7 399.8L602.5 405.9L367.7 405.9ZM607.8 149.9L633.7 149.9L633.7 186.8L631.5 181.9L629.7 179L626.8 175.9L619.7 169.2L615.7 164.5L612.9 159.9L609.7 153.2Z"/>
<path fill="#00ff60" fill-rule="evenodd" d="M367.7 149.9L372.2 149.9L373.5 153.9L374.8 159.9L375.6 171.9L376.2 175.9L380.2 187.9L383.1 201.9L386.3 209.9L388.4 217.9L390 221.9L392.9 225.9L399 231.9L403.9 235.9L413.7 242.8L419.7 247.6L427.7 255L431.7 259.6L434.5 263.9L437.1 269.9L438.6 275.9L439.7 284.5L440.1 285.9L441.7 288.8L442.8 289.9L445.7 291.9L473.7 309.4L487.7 319.9L501.8 329.9L507.7 335.8L518.7 349.9L523.9 355.9L531.7 363.1L545.7 374.3L555.7 381L565.7 386.6L573.7 390.4L583.7 394.4L587.7 396.4L592.8 399.9L599.7 405.9L367.7 405.9ZM609.3 149.9L633.7 149.9L633.7 181.9L631.7 178.7L629.7 176.3L620.8 167.9L617.2 163.9L614.6 159.9Z"/>
<path fill="#00ff53" fill-rule="evenodd" d="M367.7 149.9L371.4 149.9L373.3 155.9L374.1 159.9L374.7 171.9L375.2 175.9L379.3 189.9L381.2 203.9L384.6 211.9L385.7 217.9L387.1 221.9L389.8 225.9L395.8 231.9L400.8 235.9L417.7 248.2L425.7 255.3L430 259.9L432.9 263.9L435.7 269.9L437.3 275.9L438.7 285.9L439.3 287.9L440.7 289.9L443.3 291.9L471.7 309.6L499.6 329.9L505.9 335.9L519 351.9L524.5 357.9L535.7 367.7L545.7 375.7L555.7 382.4L565.7 388.3L571.7 391.3L582.8 395.9L586.7 397.9L591.7 401.5L596.8 405.9L367.7 405.9ZM610.8 149.9L633.7 149.9L633.7 178.6L629.7 173.9L621.7 166.7L619.1 163.9L615.7 159.2Z"/>
<path fill="#00ff46" fill-rule="evenodd" d="M367.7 149.9L370.6 149.9L373.1 157.9L373.5 161.9L373.7 171.9L374.2 175.9L377.1 185.9L378.3 191.9L378.4 195.9L378.1 205.9L378.5 207.9L380.8 211.9L381.5 213.9L382.4 217.9L383.2 219.9L385.6 223.9L387.1 225.9L393 231.9L397.9 235.9L417.7 250.3L425.7 257.3L429.7 261.7L432.6 265.9L435.2 271.9L436.6 277.9L437.4 285.9L437.9 287.9L439 289.9L441.7 292.3L471.7 311.1L497.7 330L504 335.9L517.6 351.9L523.1 357.9L533.7 367.4L543.7 375.6L553.7 382.6L565.7 390L571.7 393.2L581.7 397.4L585.7 399.5L593.8 405.9L367.7 405.9ZM612.1 149.9L633.7 149.9L633.7 175.9L619.7 162.5L616.4 157.9Z"/>
<path fill="#00ff39" fill-rule="evenodd" d="M367.7 149.9L369.7 149.9L372.4 157.9L373.2 175.9L376.4 187.9L376.9 191.9L376.7 195.9L375.9 199.9L374.4 203.9L372.4 207.9L372 209.9L372.6 211.9L374.2 213.9L377.7 217.2L384.6 225.9L390.5 231.9L397.9 237.9L417.7 252.2L423.7 257.3L428.3 261.9L431.7 266.8L434 271.9L435.5 277.9L436.8 287.9L437.7 290.1L439.3 291.9L441.7 293.6L447.7 297.2L457.6 303.9L471.7 312.5L495.7 330L502.1 335.9L517.9 353.9L523.7 359.9L535.7 370.5L543.7 376.9L553.7 384.1L563.7 390.5L573.7 396.2L583.7 400.6L590.7 405.9L367.7 405.9ZM613.5 149.9L633.7 149.9L633.7 173.7L621 161.9L617.7 157.6Z"/>
<path fill="#00ff2d" fill-rule="evenodd" d="M367.7 149.9L368.8 149.9L371.6 157.9L372.2 175.9L375.4 189.9L375.3 193.9L374.3 197.9L372.3 201.9L369.4 205.9L368.3 207.9L367.8 209.9L368.3 211.9L369.7 213.9L377.7 220.8L384.2 227.9L391.7 234.9L415.7 252.3L423.7 258.9L427.7 263L431.1 267.9L432.9 271.9L434.6 277.9L435.7 287.9L436.4 289.9L437.7 291.9L440.2 293.9L445.7 297.1L455.4 303.9L471.7 313.9L495.7 331.6L501.7 337.4L516.5 353.9L522.3 359.9L535.7 371.8L543.7 378.3L553.7 385.6L567.7 394.9L573.7 398.4L581.8 401.9L587.4 405.9L367.7 405.9ZM614.8 149.9L633.7 149.9L633.7 171.6L621.7 160.8L618.1 155.9Z"/>
<path fill="#00ff20" fill-rule="evenodd" d="M367.7 149.9L368 149.9L369.5 153.9L370.8 157.9L371.1 161.9L370.9 171.9L371.2 175.9L374.1 189.9L373.7 193.8L373 195.9L370.9 199.9L367.7 204.2ZM616.1 149.9L633.7 149.9L633.7 169.8L625.7 163L622.5 159.9L619.4 155.9ZM367.7 215.9L367.7 214.6L375.7 221.3L384.3 229.9L391.7 236.6L415.7 253.8L421.7 258.7L425.7 262.5L429.7 267.6L431.9 271.9L433.6 277.9L435.4 289.9L436.5 291.9L437.7 293.2L439.7 294.7L445.7 298.2L453.7 304.1L471.7 315.2L491.7 329.9L498.6 335.9L516.9 355.9L521.7 360.7L539.7 376.6L553.7 387.1L569.7 398.3L573.7 400.9L583.5 405.9L367.7 405.9Z"/>
<path fill="#00ff13" fill-rule="evenodd" d="M367.7 151.9L369.9 157.9L370.2 161.9L370 171.9L370.2 175.9L372.7 189.9L372.5 191.9L371.7 194.6L369.9 197.9L367.7 200.9ZM617.3 149.9L633.7 149.9L633.7 168L623.7 159.5L620.8 155.9ZM367.7 217.9L367.7 216.5L375.7 223.1L382.5 229.9L391.3 237.9L415.7 255.2L421.7 260.2L425.6 263.9L428.7 267.9L430.9 271.9L432.8 277.9L434.5 289.9L435.4 291.9L437.7 294.3L445.7 299.4L453.7 305.3L465.7 312.5L471.7 316.5L492.4 331.9L496.8 335.9L519.5 359.9L535.7 374.6L543.7 381.2L571.7 402.1L575.7 404.8L577.9 405.9L367.7 405.9Z"/>
<path fill="#00ff06" fill-rule="evenodd" d="M618.6 149.9L633.7 149.9L633.7 166.3L627.7 161.6L623.8 157.9L620.8 153.9ZM367.7 155.9L367.7 154.1L368.9 157.9L369.2 159.9L369.1 175.9L371.3 189.9L370.2 193.9L367.7 198ZM367.7 219.9L367.7 218L375.7 224.6L389.7 238L395.7 242.5L413.7 255L421.7 261.5L424.3 263.9L427.7 268.1L430.7 273.9L432.4 279.9L433.7 289.9L434.6 291.9L435.7 293.5L437.7 295.3L444.8 299.9L452.8 305.9L469.7 316.4L491.7 332.8L495.7 336.5L518 359.9L533.7 374.3L541.7 381.1L563.5 397.9L573.2 405.9L367.7 405.9Z"/>
<path fill="#06ff00" fill-rule="evenodd" d="M619.9 149.9L633.7 149.9L633.7 164.7L627.7 160.1L625.4 157.9L622.2 153.9ZM367.7 157.9L367.7 157L367.9 157.9L368.3 161.9L368.1 175.9L369.7 187.9L369.7 189.9L369.2 191.9L367.7 194.8ZM367.7 219.9L367.7 219.1L373.7 224.2L390.4 239.9L413.7 256.3L421.7 262.7L424.9 265.9L427.8 269.9L430.6 275.9L431.6 279.9L432.7 287.9L433.7 291.9L435.7 294.5L437.7 296.3L443.7 300.3L451.7 306.3L470.2 317.9L491.2 333.9L495.4 337.9L514.6 357.9L522.9 365.9L539.7 380.9L563.5 399.9L570.3 405.9L367.7 405.9Z"/>
<path fill="#13ff00" fill-rule="evenodd" d="M621.2 149.9L633.7 149.9L633.7 163.2L629.3 159.9L625.7 156.6L623.5 153.9ZM367.7 183.9L368.1 187.9L367.7 190.6ZM367.7 221.9L367.7 220.2L374.3 225.9L389.7 240.5L396.9 245.9L413.7 257.5L419.7 262.2L423.7 265.9L426.8 269.9L429.7 275.9L430.8 279.9L432 287.9L433.1 291.9L435.7 295.4L437.7 297.3L451.7 307.4L463.7 314.7L469.7 318.7L489.4 333.9L493.7 337.8L501.7 346.4L521.7 366.2L537.7 380.7L561 399.9L567.8 405.9L367.7 405.9Z"/>
<path fill="#20ff00" fill-rule="evenodd" d="M622.4 149.9L633.7 149.9L633.7 161.7L629.7 158.8L626.6 155.9L624.9 153.9ZM367.7 221.9L367.7 221.2L373.1 225.9L389.7 241.7L395.7 246.2L413.7 258.6L419.7 263.3L423.7 267.1L427.1 271.9L428.9 275.9L430.1 279.9L431.4 287.9L432.5 291.9L433.7 294L437.7 298.3L450.8 307.9L461.7 314.5L469.7 319.9L487.6 333.9L492.1 337.9L501.6 347.9L521.7 367.6L537.7 382.3L565.5 405.9L367.7 405.9Z"/>
<path fill="#2dff00" fill-rule="evenodd" d="M623.7 149.9L633.7 149.9L633.7 160.2L627.7 155.5L625.7 153.1ZM367.7 223.9L367.7 222.2L373.7 227.5L389.7 242.8L396.5 247.9L413.7 259.6L419.7 264.3L423.3 267.9L426.2 271.9L428.1 275.9L429.4 279.9L430.9 287.9L432 291.9L433.7 294.9L437.7 299.3L449.3 307.9L461.7 315.5L468.2 319.9L485.9 333.9L491.7 339.1L500.1 347.9L514.2 361.9L531.7 378.3L547.7 392.6L563.3 405.9L367.7 405.9Z"/>
<path fill="#39ff00" fill-rule="evenodd" d="M625.1 149.9L633.7 149.9L633.7 158.8L629.8 155.9L627.8 153.9ZM367.7 223.9L367.7 223.1L370.9 225.9L389.7 243.9L395.7 248.5L413.7 260.6L419.7 265.3L422.3 267.9L425.3 271.9L427.4 275.9L428.7 279.9L430.3 287.9L431.7 292.5L433.7 295.8L437.7 300.3L447.8 307.9L461.7 316.5L467.7 320.6L484.3 333.9L490.9 339.9L499.7 349L514.9 363.9L535.7 383.5L547.7 394.4L561.2 405.9L367.7 405.9Z"/>
<path fill="#46ff00" fill-rule="evenodd" d="M626.5 149.9L633.7 149.9L633.7 157.2L629.4 153.9ZM367.7 225.9L367.7 223.9L389.7 245L396.2 249.9L413.7 261.6L417.7 264.7L421.7 268.4L424.5 271.9L426.6 275.9L428 279.9L430.3 289.9L431.7 293.5L433.7 296.7L437.7 301.3L446.4 307.9L465.7 320.2L473.1 325.9L482.7 333.9L489.4 339.9L511.4 361.9L537.7 387L547.7 396.2L559.1 405.9L367.7 405.9Z"/>
<path fill="#53ff00" fill-rule="evenodd" d="M627.9 149.9L633.7 149.9L633.7 155.7L629.7 152.4ZM367.7 225.9L367.7 224.8L369 225.9L385.7 242.4L391.7 247.6L413.7 262.5L418 265.9L421.7 269.5L424.8 273.9L426.7 277.9L429.7 289.9L431.4 293.9L433.7 297.6L437.7 302.4L445 307.9L459.7 317.1L465.7 321.3L471.7 325.9L481.2 333.9L487.8 339.9L510 361.9L541.7 392.4L547.7 397.9L557.1 405.9L367.7 405.9Z"/>
<path fill="#60ff00" fill-rule="evenodd" d="M629.6 149.9L633.7 149.9L633.7 154L631.1 151.9ZM367.7 225.9L367.7 225.6L370.2 227.9L383.7 241.5L389.7 247L395.7 251.6L413.7 263.5L417.7 266.6L421.1 269.9L424 273.9L426 277.9L429.2 289.9L430.9 293.9L433.7 298.5L437.7 303.5L443.6 307.9L463.7 320.8L470.4 325.9L477.4 331.9L487.7 341.2L498.3 351.9L543.7 396L555.2 405.9L367.7 405.9Z"/>
<path fill="#6cff00" fill-rule="evenodd" d="M631.5 149.9L633.7 149.9L633.7 152.1ZM367.7 227.9L367.7 226.4L385.7 244.4L391.7 249.7L413.7 264.4L417.7 267.5L420.2 269.9L423.2 273.9L425.3 277.9L426.6 281.9L428.8 289.9L430.4 293.9L433.7 299.5L437.7 304.5L442.2 307.9L461.7 320.3L467.7 324.8L473.7 329.9L487 341.9L541.7 395.7L553.3 405.9L367.7 405.9Z"/>
<path fill="#79ff00" fill-rule="evenodd" d="M367.7 227.9L367.7 227.2L368.5 227.9L383.7 243.4L389.7 249L395.7 253.5L413.7 265.2L419.7 270.4L422.5 273.9L424.6 277.9L426 281.9L428.3 289.9L429.9 293.9L433.7 300.5L435.7 303.4L437.7 305.5L441 307.9L461.7 321.3L472.5 329.9L485.7 342L524.5 379.9L541.7 397.2L551.5 405.9L367.7 405.9Z"/>
<path fill="#86ff00" fill-rule="evenodd" d="M367.7 229.9L367.7 228L385.7 246.4L389.7 250L395.7 254.4L411.7 264.7L418.3 269.9L420.2 271.9L422.9 275.9L424.7 279.9L427.8 289.9L429.4 293.9L433.7 301.5L435.7 304.4L437.1 305.9L439.7 307.9L459.7 320.8L465.7 325.2L471.2 329.9L485.7 343.4L523.2 379.9L541.7 398.7L549.7 405.9L367.7 405.9Z"/>
<path fill="#93ff00" fill-rule="evenodd" d="M367.7 229.9L367.7 228.8L385.7 247.4L389.7 251L395.7 255.3L411.7 265.5L415.7 268.5L419.3 271.9L421.7 275.2L423.7 279.1L427.3 289.9L428.9 293.9L433.7 302.6L436.1 305.9L438.6 307.9L459.7 321.6L470 329.9L482.9 341.9L517.8 375.9L539.7 398.2L548 405.9L367.7 405.9Z"/>
<path fill="#9fff00" fill-rule="evenodd" d="M367.7 229.9L367.7 229.5L370 231.9L385.7 248.4L389.7 252L395.2 255.9L411.7 266.4L415.7 269.4L418.4 271.9L420.1 273.9L422.5 277.9L428.5 293.9L433.7 303.7L435.7 306.4L437.7 308.1L458.9 321.9L468.8 329.9L518.6 377.9L538 397.9L546.5 405.9L367.7 405.9Z"/>
<path fill="#acff00" fill-rule="evenodd" d="M367.7 231.9L367.7 230.4L385.7 249.3L389.7 252.9L395.7 257.1L411.7 267.2L417.5 271.9L419.7 274.5L421.8 277.9L423.7 282.3L426.3 289.9L428 293.9L433.7 304.8L435.7 307.2L457.7 321.9L467.7 329.9L517.4 377.9L537.7 398.9L545 405.9L367.7 405.9Z"/>
<path fill="#b9ff00" fill-rule="evenodd" d="M367.7 231.9L367.7 231.2L383.7 248.2L389.7 253.8L395.5 257.9L411.7 268.1L415.7 271.1L417.7 273.1L419.9 275.9L421.7 279.1L427.5 293.9L433.7 305.8L435.5 307.9L456.6 321.9L466.6 329.9L516.2 377.9L524.2 385.9L535.7 398.1L543.6 405.9L367.7 405.9Z"/>
<path fill="#c6ff00" fill-rule="evenodd" d="M367.7 233.9L367.7 232L383.7 249.2L389.7 254.8L395.7 258.9L409.7 267.6L415.7 272L417.7 274L420.4 277.9L422.3 281.9L427 293.9L432 303.9L433.7 306.8L434.7 307.9L437.3 309.9L455.4 321.9L465.5 329.9L515.1 377.9L542.3 405.9L367.7 405.9Z"/>
<path fill="#d2ff00" fill-rule="evenodd" d="M367.7 233.9L367.7 232.8L383.7 250.2L387.7 254.1L393.7 258.4L409.7 268.4L415.7 272.9L418.3 275.9L420.7 279.9L425.6 291.9L431.7 304.3L433.9 307.9L436.4 309.9L454.4 321.9L464.5 329.9L514 377.9L541.1 405.9L367.7 405.9Z"/>
<path fill="#dfff00" fill-rule="evenodd" d="M367.7 233.9L367.7 233.6L369.8 235.9L383.7 251.1L387.7 255L393.7 259.3L409.7 269.2L415.8 273.9L417.7 276.1L420 279.9L425.1 291.9L431.7 305.4L433.7 308.4L435.7 310.1L453.3 321.9L463.7 330.1L512.9 377.9L540 405.9L367.7 405.9Z"/>
<path fill="#ecff00" fill-rule="evenodd" d="M367.7 235.9L367.7 234.4L383.7 252.1L387.7 255.9L393.7 260.2L409.7 270.1L415.7 274.8L417.7 277.2L419.7 280.6L424.6 291.9L427.8 297.9L431.4 305.9L433.7 309.1L452.3 321.9L459.7 327.6L464.6 331.9L513.7 379.7L539 405.9L367.7 405.9Z"/>
<path fill="#f9ff00" fill-rule="evenodd" d="M367.7 235.9L367.7 235.3L383.7 253.1L387.7 256.8L393.7 261L409.7 270.9L413.7 273.8L415.7 275.7L417.7 278.4L419.7 282L424.1 291.9L427.3 297.9L431.7 307.4L433.7 309.7L451.3 321.9L459.1 327.9L463.6 331.9L479.8 347.9L511.7 378.7L538 405.9L367.7 405.9Z"/>
<path fill="#fff900" fill-rule="evenodd" d="M367.7 237.9L367.7 236.1L383.7 254L387.7 257.7L393.7 261.9L409.7 271.8L414.9 275.9L416.5 277.9L418.9 281.9L430.5 305.9L431.7 308.2L433.2 309.9L450.3 321.9L458.1 327.9L462.7 331.9L479.7 348.8L511.7 379.7L537 405.9L367.7 405.9Z"/>
<path fill="#ffec00" fill-rule="evenodd" d="M367.7 237.9L367.7 237L383.7 254.9L387.7 258.5L393.7 262.7L408.6 271.9L413.9 275.9L415.7 277.9L418.2 281.9L423 291.9L427.3 299.9L430 305.9L431 307.9L432.6 309.9L449.4 321.9L457.1 327.9L461.7 331.9L479.7 349.8L510.9 379.9L536.1 405.9L367.7 405.9Z"/>
<path fill="#ffdf00" fill-rule="evenodd" d="M367.7 237.9L381.9 253.9L385.7 257.7L393.7 263.6L409.7 273.5L412.8 275.9L414.8 277.9L418.6 283.9L422.5 291.9L425.8 297.9L429.7 306.3L432 309.9L451.1 323.9L460.7 331.9L478.9 349.9L510 379.9L535.2 405.9L367.7 405.9Z"/>
<path fill="#ffd200" fill-rule="evenodd" d="M367.7 239.9L367.7 238.8L382.9 255.9L387.7 260.3L395.7 265.8L408.9 273.9L413.7 277.8L417.7 283.6L425.7 298.7L429.7 307.2L431.7 310.1L450.2 323.9L461.7 333.7L477.9 349.9L509.7 380.5L534.3 405.9L367.7 405.9Z"/>
<path fill="#ffc600" fill-rule="evenodd" d="M367.7 239.9L375.2 247.9L381.7 255.6L385.7 259.5L393.7 265.4L407.7 274L412.7 277.9L415.7 281.6L417.7 284.8L425.7 299.6L429.6 307.9L431.7 310.6L449.3 323.9L461 333.9L477.7 350.6L509.7 381.4L533.5 405.9L367.7 405.9Z"/>
<path fill="#ffb900" fill-rule="evenodd" d="M367.7 241.9L367.7 240.6L381.7 256.5L387.7 262L395.7 267.6L407.7 274.9L411.7 277.9L415 281.9L417.7 286.1L425.3 299.9L429.2 307.9L431.7 311.1L448.4 323.9L460.1 333.9L477.7 351.5L509.3 381.9L532.6 405.9L367.7 405.9Z"/>
<path fill="#ffac00" fill-rule="evenodd" d="M367.7 241.9L367.7 241.5L373.5 247.9L381.7 257.4L385.7 261.2L393.7 267.2L407.7 275.8L411.7 279L415.7 284.1L424.8 299.9L428.8 307.9L430.1 309.9L431.7 311.6L447.6 323.9L459.2 333.9L477.2 351.9L508.5 381.9L531.8 405.9L367.7 405.9Z"/>
<path fill="#ff9f00" fill-rule="evenodd" d="M367.7 243.9L367.7 242.4L381.7 258.3L387.7 263.8L393.7 268.1L406.5 275.9L411.5 279.9L415.7 285.3L423.7 298.9L428.3 307.9L429.6 309.9L431.5 311.9L446.8 323.9L458.3 333.9L476.3 351.9L507.7 382L531 405.9L367.7 405.9Z"/>
<path fill="#ff9300" fill-rule="evenodd" d="M367.7 243.9L367.7 243.3L380.5 257.9L385.7 263L391.7 267.6L405.7 276.3L410.3 279.9L413.7 283.7L415.7 286.6L423.7 299.8L427.9 307.9L429.2 309.9L430.9 311.9L445.9 323.9L457.4 333.9L475.7 352.1L507.7 382.9L530.2 405.9L367.7 405.9Z"/>
<path fill="#ff8600" fill-rule="evenodd" d="M367.7 245.9L367.7 244.2L381.5 259.9L387.7 265.6L393.7 269.9L405.7 277.3L409.7 280.4L412.9 283.9L415.7 287.8L423.7 300.8L427.5 307.9L430.4 311.9L445.2 323.9L456.5 333.9L475.7 353L505.9 381.9L529.4 405.9L367.7 405.9Z"/>
<path fill="#ff7900" fill-rule="evenodd" d="M367.7 245.9L367.7 245.1L379.7 258.9L385.7 264.8L391.7 269.4L405.2 277.9L409.7 281.5L412 283.9L415.7 289L422.6 299.9L427.7 309L429.9 311.9L446.7 325.9L457.7 335.8L475.7 353.8L505.7 382.5L528.6 405.9L367.7 405.9Z"/>
<path fill="#ff6c00" fill-rule="evenodd" d="M367.7 247.9L367.7 246.1L379.8 259.9L383.7 263.9L387.7 267.4L393.7 271.6L403.8 277.9L409.7 282.6L412.6 285.9L415.7 290.1L421.7 299.3L427.8 309.9L429.4 311.9L445.9 325.9L456.9 335.9L474.9 353.9L505.7 383.4L527.8 405.9L367.7 405.9Z"/>
<path fill="#ff6000" fill-rule="evenodd" d="M367.7 247.9L367.7 247L379.7 260.7L385.7 266.6L391.7 271.2L405.3 279.9L409.7 283.7L415.7 291.3L421.7 300.3L427.4 309.9L428.9 311.9L445.1 325.9L456 335.9L474 353.9L505.4 383.9L527 405.9L367.7 405.9Z"/>
<path fill="#ff5300" fill-rule="evenodd" d="M367.7 247.9L379.7 261.6L385.7 267.5L391.7 272.1L404 279.9L409.7 284.8L415.7 292.4L421.7 301.2L426.9 309.9L428.5 311.9L444.4 325.9L455.2 335.9L473.7 354.4L504.6 383.9L526.2 405.9L367.7 405.9Z"/>
<path fill="#ff4600" fill-rule="evenodd" d="M367.7 249.9L367.7 248.8L379.7 262.6L385.7 268.5L391.7 273L403.7 280.7L407.7 283.9L413.7 290.7L421.7 302.1L428 311.9L454.3 335.9L473.7 355.2L503.7 383.9L525.4 405.9L367.7 405.9Z"/>
<path fill="#ff3900" fill-rule="evenodd" d="M367.7 249.9L371.5 253.9L379.7 263.5L385.7 269.4L391.7 273.9L403.7 281.6L407.7 285L411.7 289.3L415.7 294.5L421.7 302.9L427.7 312.1L453.4 335.9L473.7 356.1L503.7 384.7L524.6 405.9L367.7 405.9Z"/>
<path fill="#ff2d00" fill-rule="evenodd" d="M367.7 251.9L367.7 250.6L379.7 264.4L385.7 270.3L390.4 273.9L402.7 281.9L407.7 286L413.7 292.9L419.7 300.9L427 311.9L428.8 313.9L433.6 317.9L452.6 335.9L473.7 356.9L503.7 385.5L523.8 405.9L367.7 405.9Z"/>
<path fill="#ff2000" fill-rule="evenodd" d="M367.7 251.9L367.7 251.5L369.9 253.9L379.7 265.4L385.7 271.3L389.7 274.3L401.7 282.1L407.7 287.1L413.7 293.9L421.7 304.6L426.5 311.9L428.3 313.9L433 317.9L441.4 325.9L473.7 357.8L497.1 379.9L523 405.9L367.7 405.9Z"/>
<path fill="#ff1300" fill-rule="evenodd" d="M367.7 253.9L367.7 252.4L379.7 266.4L385.7 272.2L389.7 275.2L401.7 283L407.7 288.1L413.7 294.9L419.7 302.7L426 311.9L427.7 313.9L432.4 317.9L473 357.9L502.4 385.9L522.2 405.9L367.7 405.9Z"/>
<path fill="#ff0600" fill-rule="evenodd" d="M367.7 253.9L367.7 253.4L368.2 253.9L377.7 265.1L384.3 271.9L389.4 275.9L401.7 284L407.7 289.1L411.7 293.5L417.7 301L427.2 313.9L431.8 317.9L472.1 357.9L501.7 386L521.4 405.9L367.7 405.9Z"/>
<path fill="#ffffff" fill-rule="evenodd" d="M367.7 255.9L367.7 254.3L379.3 267.9L385.5 273.9L401.7 284.9L407.7 290.2L411.7 294.5L417.7 301.9L426.6 313.9L433.2 319.9L471.7 358.4L502.8 387.9L520.5 405.9L367.7 405.9Z"/>
</g>
<polyline fill="none" stroke="#e6139c" stroke-width="2.4" stroke-linecap="round" stroke-linejoin="round" points="411.5,165.7 415.3,165.0 419.0,164.3 422.8,163.6 426.6,163.1 430.4,162.5 434.2,162.0 438.0,161.6 441.8,161.2 445.6,160.8 449.4,160.5 453.2,160.2 457.1,159.9 460.9,159.6 464.7,159.4 468.5,159.2 472.3,159.0 476.2,158.8 480.0,158.7 483.8,158.6 487.7,158.5 491.5,158.4 495.3,158.4 499.1,158.3 503.0,158.3 506.8,158.3 510.6,158.3 514.4,158.3 518.3,158.4 522.1,158.6 526.0,158.8 529.8,159.3 533.5,160.2 537.0,161.8 540.1,164.1 542.5,167.1 544.2,170.5 545.4,174.2 546.3,177.9 547.0,181.7 547.4,185.5 547.8,189.3 548.1,193.1 548.4,197.0 548.7,200.8 548.9,204.6 549.1,208.4 549.2,212.2 549.3,216.1 549.4,219.9 549.5,223.7 549.6,227.6 549.8,231.4 550.0,235.2 550.2,239.0 550.5,242.8 550.8,246.7 551.2,250.5 551.9,254.3 553.2,257.9 555.3,261.1 558.1,263.7 561.2,265.9 564.6,267.8 568.0,269.5 571.5,271.2 575.0,272.7 578.6,274.1 582.1,275.4 585.7,276.7 589.4,278.0 593.0,279.1 596.7,280.2 600.4,281.2 604.1,282.1 607.7,283.4 611.0,285.5 613.5,288.3 615.3,291.7 616.6,295.4 617.7,299.1 618.6,302.8 619.3,306.5 619.8,310.3 620.1,314.1 620.2,318.0 620.3,321.8 620.3,325.7 620.4,329.5 620.5,333.3"/>
<rect x="370.7" y="152.9" width="259.0" height="248.4" fill="none" stroke="#000" stroke-width="1.4"/>
<line x1="420.7" y1="401.3" x2="420.7" y2="406.3" stroke="#000" stroke-width="1.4"/>
<text x="420.7" y="419.9" font-size="12.3" class="b" text-anchor="middle">6</text>
<line x1="473.5" y1="401.3" x2="473.5" y2="406.3" stroke="#000" stroke-width="1.4"/>
<text x="473.5" y="419.9" font-size="12.3" class="b" text-anchor="middle">7</text>
<line x1="526.3" y1="401.3" x2="526.3" y2="406.3" stroke="#000" stroke-width="1.4"/>
<text x="526.3" y="419.9" font-size="12.3" class="b" text-anchor="middle">8</text>
<line x1="579.1" y1="401.3" x2="579.1" y2="406.3" stroke="#000" stroke-width="1.4"/>
<text x="579.1" y="419.9" font-size="12.3" class="b" text-anchor="middle">9</text>
<line x1="394.3" y1="401.3" x2="394.3" y2="404.3" stroke="#000" stroke-width="1.4"/>
<line x1="447.1" y1="401.3" x2="447.1" y2="404.3" stroke="#000" stroke-width="1.4"/>
<line x1="499.9" y1="401.3" x2="499.9" y2="404.3" stroke="#000" stroke-width="1.4"/>
<line x1="552.7" y1="401.3" x2="552.7" y2="404.3" stroke="#000" stroke-width="1.4"/>
<line x1="605.5" y1="401.3" x2="605.5" y2="404.3" stroke="#000" stroke-width="1.4"/>
<line x1="365.7" y1="200.9" x2="370.7" y2="200.9" stroke="#000" stroke-width="1.4"/>
<text x="362.2" y="205.3" font-size="12.3" class="b" text-anchor="end">9</text>
<line x1="365.7" y1="251.7" x2="370.7" y2="251.7" stroke="#000" stroke-width="1.4"/>
<text x="362.2" y="256.1" font-size="12.3" class="b" text-anchor="end">8</text>
<line x1="365.7" y1="302.5" x2="370.7" y2="302.5" stroke="#000" stroke-width="1.4"/>
<text x="362.2" y="306.9" font-size="12.3" class="b" text-anchor="end">7</text>
<line x1="365.7" y1="353.3" x2="370.7" y2="353.3" stroke="#000" stroke-width="1.4"/>
<text x="362.2" y="357.7" font-size="12.3" class="b" text-anchor="end">6</text>
<line x1="367.7" y1="175.5" x2="370.7" y2="175.5" stroke="#000" stroke-width="1.4"/>
<line x1="367.7" y1="226.3" x2="370.7" y2="226.3" stroke="#000" stroke-width="1.4"/>
<line x1="367.7" y1="277.1" x2="370.7" y2="277.1" stroke="#000" stroke-width="1.4"/>
<line x1="367.7" y1="327.9" x2="370.7" y2="327.9" stroke="#000" stroke-width="1.4"/>
<line x1="367.7" y1="378.7" x2="370.7" y2="378.7" stroke="#000" stroke-width="1.4"/>
<linearGradient id="gcb1" x1="0" y1="1" x2="0" y2="0"><stop offset="0.00" stop-color="#0000ff"/><stop offset="0.05" stop-color="#0033ff"/><stop offset="0.10" stop-color="#0066ff"/><stop offset="0.15" stop-color="#0099ff"/><stop offset="0.20" stop-color="#00ccff"/><stop offset="0.25" stop-color="#00ffff"/><stop offset="0.30" stop-color="#00ffcc"/><stop offset="0.35" stop-color="#00ff99"/><stop offset="0.40" stop-color="#00ff66"/><stop offset="0.45" stop-color="#00ff33"/><stop offset="0.50" stop-color="#00ff00"/><stop offset="0.55" stop-color="#33ff00"/><stop offset="0.60" stop-color="#66ff00"/><stop offset="0.65" stop-color="#99ff00"/><stop offset="0.70" stop-color="#ccff00"/><stop offset="0.75" stop-color="#ffff00"/><stop offset="0.80" stop-color="#ffcc00"/><stop offset="0.85" stop-color="#ff9900"/><stop offset="0.90" stop-color="#ff6600"/><stop offset="0.95" stop-color="#ff3300"/><stop offset="1.00" stop-color="#ff0000"/></linearGradient><rect x="636.3" y="152.9" width="18.2" height="248.4" fill="url(#gcb1)"/>
<line x1="654.5" y1="401.3" x2="660.0" y2="401.3" stroke="#000" stroke-width="1.4"/>
<text x="661.5" y="405.9" font-size="12.8" class="b">0</text>
<line x1="654.5" y1="351.7" x2="660.0" y2="351.7" stroke="#000" stroke-width="1.4"/>
<text x="661.5" y="356.3" font-size="12.8" class="b">1</text>
<line x1="654.5" y1="302.1" x2="660.0" y2="302.1" stroke="#000" stroke-width="1.4"/>
<text x="661.5" y="306.7" font-size="12.8" class="b">2</text>
<line x1="654.5" y1="252.5" x2="660.0" y2="252.5" stroke="#000" stroke-width="1.4"/>
<text x="661.5" y="257.1" font-size="12.8" class="b">3</text>
<line x1="654.5" y1="202.9" x2="660.0" y2="202.9" stroke="#000" stroke-width="1.4"/>
<text x="661.5" y="207.5" font-size="12.8" class="b">4</text>
<line x1="654.5" y1="153.3" x2="660.0" y2="153.3" stroke="#000" stroke-width="1.4"/>
<text x="661.5" y="157.9" font-size="12.8" class="b">5</text>
<text x="573.2" y="146.8" font-size="12.8" class="b">&#916;<tspan class="i">G</tspan> (kcal/mol)</text>
<text x="501.0" y="148.0" font-size="14" text-anchor="middle">WT</text>
<text x="395.0" y="149.5" font-size="15.5"><tspan class="i">S</tspan><tspan font-size="9.5" dy="0.5" class="b">1</tspan></text>
<text x="393.5" y="172.3" font-size="14.3">III</text>
<text x="551.0" y="177.5" font-size="14.3">II</text>
<text x="617.3" y="352.0" font-size="14.3">I</text>
<text x="596.0" y="340.5" font-size="15"><tspan class="i">S</tspan><tspan font-size="9" class="b">0</tspan></text>
<text x="421.5" y="194.0" font-size="13">~1.8 kcal/mol</text>
<line x1="461.5" y1="163.0" x2="461.5" y2="181.0" stroke="#000" stroke-width="1"/>
<text x="427.5" y="242.0" font-size="13">~0.3 kcal/mol</text>
<line x1="511.0" y1="235.7" x2="544.5" y2="219.7" stroke="#000" stroke-width="1"/>
<text x="494.2" y="434.2" font-size="15" text-anchor="middle"><tspan class="i b">d</tspan><tspan class="b" font-size="10" dy="2">1</tspan><tspan class="b" dy="-2"> (&#197;)</tspan></text>
<text transform="translate(347.6 270) rotate(-90)" font-size="16.3" text-anchor="middle"><tspan class="i" font-size="17">&#958;</tspan><tspan class="b" font-size="10.5" dy="2.5">1</tspan><tspan class="b" dy="-2.5" letter-spacing="0.6">(&#197;)</tspan></text>
<text x="4.3" y="238.5" font-size="22">c</text>
<line x1="48.0" y1="231.3" x2="48.0" y2="394.9" stroke="#000" stroke-width="1.5"/>
<line x1="47.2" y1="394.2" x2="291.7" y2="394.2" stroke="#000" stroke-width="1.5"/>
<line x1="42.0" y1="394.2" x2="48.0" y2="394.2" stroke="#000" stroke-width="1.4"/>
<text x="40.2" y="398.3" font-size="11.5" class="b" text-anchor="end" letter-spacing="0.5">0.0</text>
<line x1="42.0" y1="361.8" x2="48.0" y2="361.8" stroke="#000" stroke-width="1.4"/>
<text x="40.2" y="365.9" font-size="11.5" class="b" text-anchor="end" letter-spacing="0.5">0.5</text>
<line x1="42.0" y1="329.3" x2="48.0" y2="329.3" stroke="#000" stroke-width="1.4"/>
<text x="40.2" y="333.4" font-size="11.5" class="b" text-anchor="end" letter-spacing="0.5">1.0</text>
<line x1="42.0" y1="296.9" x2="48.0" y2="296.9" stroke="#000" stroke-width="1.4"/>
<text x="40.2" y="301.0" font-size="11.5" class="b" text-anchor="end" letter-spacing="0.5">1.5</text>
<line x1="42.0" y1="264.4" x2="48.0" y2="264.4" stroke="#000" stroke-width="1.4"/>
<text x="40.2" y="268.5" font-size="11.5" class="b" text-anchor="end" letter-spacing="0.5">2.0</text>
<line x1="42.0" y1="232.0" x2="48.0" y2="232.0" stroke="#000" stroke-width="1.4"/>
<text x="40.2" y="236.1" font-size="11.5" class="b" text-anchor="end" letter-spacing="0.5">2.5</text>
<line x1="48.0" y1="394.2" x2="48.0" y2="400.2" stroke="#000" stroke-width="1.4"/>
<text x="48.2" y="414.4" font-size="11.5" class="b" text-anchor="middle" letter-spacing="0.5">0.0</text>
<line x1="96.6" y1="394.2" x2="96.6" y2="400.2" stroke="#000" stroke-width="1.4"/>
<text x="96.8" y="414.4" font-size="11.5" class="b" text-anchor="middle" letter-spacing="0.5">0.2</text>
<line x1="145.2" y1="394.2" x2="145.2" y2="400.2" stroke="#000" stroke-width="1.4"/>
<text x="145.4" y="414.4" font-size="11.5" class="b" text-anchor="middle" letter-spacing="0.5">0.4</text>
<line x1="193.8" y1="394.2" x2="193.8" y2="400.2" stroke="#000" stroke-width="1.4"/>
<text x="194.0" y="414.4" font-size="11.5" class="b" text-anchor="middle" letter-spacing="0.5">0.6</text>
<line x1="242.4" y1="394.2" x2="242.4" y2="400.2" stroke="#000" stroke-width="1.4"/>
<text x="242.7" y="414.4" font-size="11.5" class="b" text-anchor="middle" letter-spacing="0.5">0.8</text>
<line x1="291.0" y1="394.2" x2="291.0" y2="400.2" stroke="#000" stroke-width="1.4"/>
<text x="291.2" y="414.4" font-size="11.5" class="b" text-anchor="middle" letter-spacing="0.5">1.0</text>
<text x="170.5" y="431.3" font-size="13.5" class="b i" text-anchor="middle">S</text>
<text transform="translate(14.3 312.8) rotate(-90)" font-size="12.5" letter-spacing="0.55" text-anchor="middle" class="b">&#916;<tspan class="i">G</tspan> (kcal/mol)</text>
<polyline fill="none" stroke="#000" stroke-width="1.9" stroke-linejoin="round" points="48.0,379.9 49.7,384.1 51.5,387.5 53.2,390.1 55.0,392.0 56.7,393.2 58.5,393.9 60.2,394.2 62.0,394.2 63.7,393.9 65.5,393.4 67.2,392.6 69.0,391.8 70.7,391.1 72.5,390.6 74.2,390.4 76.0,390.5 77.7,390.7 79.5,390.9 81.2,391.1 83.0,391.1 84.7,391.1 86.5,391.2 88.2,391.5 90.0,391.7 91.7,392.0 93.5,392.2 95.2,392.3 96.9,392.1 98.7,391.8 100.4,391.3 102.2,390.7 103.9,389.9 105.7,389.0 107.4,388.0 109.2,386.7 110.9,385.4 112.7,383.9 114.4,382.5 116.2,381.1 117.9,380.0 119.7,378.9 121.4,378.1 123.2,377.4 124.9,376.8 126.7,376.3 128.4,376.0 130.2,375.8 131.9,375.6 133.7,375.5 135.4,375.5 137.2,375.4 138.9,375.3 140.7,375.2 142.4,375.1 144.2,375.0 145.9,375.1 147.6,375.3 149.4,375.4 151.1,375.3 152.9,375.1 154.6,374.7 156.4,374.3 158.1,373.9 159.9,373.5 161.6,373.2 163.4,373.0 165.1,372.7 166.9,372.5 168.6,372.4 170.4,372.4 172.1,372.5 173.9,372.7 175.6,373.0 177.4,373.5 179.1,374.0 180.9,374.8 182.6,375.6 184.4,376.4 186.1,377.2 187.9,377.8 189.6,378.4 191.4,379.0 193.1,379.6 194.8,380.4 196.6,381.3 198.3,382.3 200.1,383.3 201.8,384.2 203.6,385.0 205.3,385.6 207.1,386.0 208.8,386.1 210.6,386.0 212.3,385.6 214.1,384.8 215.8,383.7 217.6,382.2 219.3,380.1 221.1,377.4 222.8,373.8 224.6,369.2 226.3,363.7 228.1,357.5 229.8,350.6 231.6,343.2 233.3,335.4 235.1,327.5 236.8,319.6 238.6,312.0 240.3,304.8 242.1,298.2 243.8,292.2 245.5,287.1 247.3,282.8 249.0,279.2 250.8,276.2 252.5,273.6 254.3,271.4 256.0,269.6 257.8,268.3 259.5,267.7 261.3,267.7 263.0,269.0 264.8,271.7 266.5,275.7 268.3,280.3 270.0,285.5 271.8,291.1 273.5,297.1 275.3,303.0 277.0,308.3 278.8,312.8 280.5,316.3 282.3,319.0 284.0,320.9 285.8,322.0 287.5,322.5 289.3,322.3 291.0,321.5"/>
<line x1="59.8" y1="373.5" x2="59.8" y2="384.5" stroke="#333" stroke-width="1.3"/><path d="M56.2 382.0 L63.4 382.0 L59.8 389.5 Z" fill="#333"/>
<text x="59.8" y="367.3" font-size="14.3" text-anchor="middle">I</text>
<line x1="208.5" y1="366.0" x2="208.5" y2="376.0" stroke="#333" stroke-width="1.3"/><path d="M204.9 373.5 L212.1 373.5 L208.5 381.0 Z" fill="#333"/>
<text x="208.5" y="359.3" font-size="14.3" text-anchor="middle">II</text>
<line x1="287.0" y1="303.0" x2="287.0" y2="313.5" stroke="#333" stroke-width="1.3"/><path d="M283.4 311.0 L290.6 311.0 L287.0 318.5 Z" fill="#333"/>
<text x="287.0" y="296.3" font-size="14.3" text-anchor="middle">III</text>
<text x="96.5" y="362.8" font-size="13">~0.3 kcal/mol</text>
<text x="222.5" y="254.2" font-size="13">~1.8 kcal/mol</text>
<line x1="135.0" y1="375.5" x2="135.0" y2="391.5" stroke="#000" stroke-width="1.3" stroke-dasharray="1.7 1.2"/>
<line x1="131.3" y1="391.6" x2="138.7" y2="391.6" stroke="#000" stroke-width="1.2"/>
<line x1="259.3" y1="268.0" x2="259.3" y2="385.5" stroke="#000" stroke-width="1.3" stroke-dasharray="1.7 1.2"/>
<line x1="255.6" y1="385.5" x2="263.0" y2="385.5" stroke="#000" stroke-width="1.2"/>
<line x1="255.6" y1="267.5" x2="263.0" y2="267.5" stroke="#000" stroke-width="1.2"/>
<text x="5.1" y="490.3" font-size="21.5">d</text>
<clipPath id="cpa"><rect x="47.2" y="475.5" width="242.8" height="232.8"/></clipPath>
<g clip-path="url(#cpa)">
<path fill="#0006ff" fill-rule="evenodd" d="M44.2 472.5L294.2 472.5L294.2 712.5L44.2 712.5Z"/>
<path fill="#0013ff" fill-rule="evenodd" d="M44.2 472.5L294.2 472.5L294.2 712.5L44.2 712.5Z"/>
<path fill="#0020ff" fill-rule="evenodd" d="M44.2 472.5L294.2 472.5L294.2 712.5L44.2 712.5ZM198.2 609.6L196.2 610.6L193.9 612.5L192.2 614.7L190.2 619.1L189.6 622.5L189.7 626.5L190.2 628.5L192.2 630.4L194.2 630.6L196.2 630.2L200.2 627.7L202.2 625.8L204.8 622.5L206.2 620.2L207.7 616.5L208.1 614.5L207.9 612.5L206.2 610.1L204.2 609.2L202.2 608.9L200.2 609.1Z"/>
<path fill="#002dff" fill-rule="evenodd" d="M44.2 472.5L294.2 472.5L294.2 712.5L44.2 712.5ZM198.2 601.8L194.2 603.6L192.2 605.2L190.2 607.3L188.1 610.5L186.3 614.5L185.8 616.5L185 622.5L185.5 628.5L186 630.5L186.9 632.5L188.2 634.2L190.2 635.3L192.2 635.7L194.2 635.6L198.2 634.6L202 632.5L204.6 630.5L208.8 626.5L212.1 622.5L214.6 618.5L216.2 614.8L216.9 612.5L217.2 608.5L216.7 606.5L215.5 604.5L214.2 603.4L212.5 602.5L210.2 601.8L206.2 601.3L202.2 601.2Z"/>
<path fill="#0039ff" fill-rule="evenodd" d="M44.2 472.5L294.2 472.5L294.2 712.5L44.2 712.5ZM196.2 596.4L192.2 598.4L190.2 600.1L188.1 602.5L186.2 605.4L184.2 609.5L182.3 616.5L182 620.5L182.1 624.5L182.7 628.5L183.8 632.5L184.7 634.5L186.2 636.6L188.2 637.9L190.2 638.5L194.9 638.5L200.2 637.2L205.3 634.5L210.4 630.5L214.7 626.5L218.2 621.9L220.9 616.5L222.6 610.5L222.7 606.5L222.2 604.1L220.2 600.5L217.8 598.5L214.2 597L206.2 596L200.2 595.7Z"/>
<path fill="#0046ff" fill-rule="evenodd" d="M44.2 472.5L294.2 472.5L294.2 712.5L44.2 712.5ZM198.2 590.3L194.2 591.2L192.2 592.1L190.2 593.5L188.2 595.4L186.2 598L182.8 604.5L181.3 608.5L180.2 612.6L179.6 618.5L179.9 624.5L180.5 628.5L182.2 634.2L183.4 636.5L185 638.5L186.2 639.4L188.2 640.2L190.2 640.6L194.2 640.8L197.6 640.5L200.2 639.9L204.2 638.6L207.9 636.5L216.3 630.5L220.2 626.9L222.2 624L224.6 618.5L226.1 612.5L226.3 606.5L225.6 602.5L223.4 598.5L220.2 595L218.2 593.6L216.2 592.7L208.2 591.7L202.2 590.5Z"/>
<path fill="#0053ff" fill-rule="evenodd" d="M44.2 472.5L294.2 472.5L294.2 712.5L44.2 712.5ZM196.2 584.4L192.2 586L188.3 588.5L186.2 590.6L184.2 593.4L182.2 597.6L179.6 604.5L178.2 609.8L177.6 614.5L177.6 620.5L178.3 626.5L179.8 632.5L181.5 636.5L182.7 638.5L184.8 640.5L188.2 641.9L192.2 642.6L196.2 642.7L200.2 642.2L206.2 640.6L220.9 632.5L223.8 630.5L225.7 628.5L226.9 626.5L228.8 618.5L229.3 614.5L228.9 606.5L228.3 602.5L227.6 600.5L224.2 595.2L220.2 590.3L218.2 588.5L216.2 587.5L212.2 587.9L210.2 587.8L204.2 585.3L200.2 584.1Z"/>
<path fill="#0060ff" fill-rule="evenodd" d="M44.2 472.5L294.2 472.5L294.2 712.5L44.2 712.5ZM194.2 578.5L186.2 584L184.2 586L182.4 588.5L179.8 594.5L176.5 606.5L175.6 614.5L176 622.5L176.6 626.5L178.2 632.5L179.8 636.5L181 638.5L182.6 640.5L184.2 641.8L188.2 643.5L194.2 644.4L202.2 644L208.9 642.5L216.2 638.8L229.2 634.5L232.8 632.5L234.7 630.5L235.5 628.5L235.6 626.5L233.1 618.5L230.2 601.9L228.2 597.5L223.5 590.5L218.7 582.5L218.2 581.9L216.2 580.8L210.2 580.8L200.2 577.9L198.2 577.6L196.2 577.8Z"/>
<path fill="#006cff" fill-rule="evenodd" d="M44.2 472.5L294.2 472.5L294.2 712.5L44.2 712.5ZM192.2 573.6L188.2 576L184.2 579.5L182.2 581.8L180.2 584.8L178.2 589.3L177.2 592.5L174.7 604.5L174.1 608.5L173.7 614.5L174.3 622.5L176.8 632.5L178.3 636.5L180.2 639.7L183.1 642.5L186.2 644.2L188.2 644.8L194.2 645.9L202.2 646L208.2 645.4L212.2 644.5L220.2 641.7L234.2 638.5L238.5 636.5L240.2 634.6L241 632.5L241.2 628.5L240.6 624.5L239.8 622.5L237 618.5L235.1 614.5L232 602.5L230.6 598.5L224.6 588.5L220.2 580.2L218.2 578.5L208.2 576.5L198.2 572.8L196.2 572.6L194.2 572.8Z"/>
<path fill="#0079ff" fill-rule="evenodd" d="M44.2 472.5L294.2 472.5L294.2 712.5L44.2 712.5ZM190.2 570.3L186.2 572.3L184.2 573.9L180.1 578.5L178.2 581.6L176.2 586.2L174.2 594.5L172.3 608.5L172.1 614.5L172.3 618.5L173.2 624.5L174.8 630.5L176.9 636.5L179.3 640.5L182.2 643.3L184.2 644.6L188.2 646.1L194.2 647.4L202.2 647.7L210.2 647.6L214.2 647.2L226.2 643.8L238.2 641.8L242.2 640.3L244.2 638.5L245 636.5L245.2 634.5L244.8 630.5L243.4 624.5L242.2 621.7L238.6 616.5L236.5 612.5L232.1 598.5L222.2 580.5L220.7 578.5L218.2 576.9L208.2 574.1L198.2 569.6L194.2 569.4Z"/>
<path fill="#0086ff" fill-rule="evenodd" d="M44.2 472.5L294.2 472.5L294.2 712.5L44.2 712.5ZM188.2 567.9L186.2 568.6L183 570.5L180.2 573.1L178.2 575.7L176.2 579.3L174.2 584.3L172.2 593.4L170.7 608.5L170.6 614.5L170.8 618.5L171.8 624.5L174.1 632.5L176.2 637.8L178.2 641.1L180.2 643.2L182.2 644.7L186.2 646.7L190.2 648L198.2 649.2L212.2 649.8L216.2 649.4L222.2 647.5L228.2 646.3L243.5 644.5L246.2 643.5L247.9 642.5L249.2 640.5L249.5 638.5L249.2 636.5L248.2 632.5L245.5 624.5L243.5 620.5L238.4 612.5L236.8 608.5L234.3 600.5L232.5 596.5L224.8 582.5L222.2 578.5L220.2 576.6L218.2 575.6L208.2 572L198.2 567.3L194.2 566.9Z"/>
<path fill="#0093ff" fill-rule="evenodd" d="M44.2 472.5L294.2 472.5L294.2 712.5L44.2 712.5ZM184.2 566.5L180.9 568.5L178.2 571.1L176.2 573.9L174.2 577.8L172.5 582.5L171.4 586.5L170 596.5L169.1 610.5L169.3 616.5L169.7 620.5L171 626.5L173.6 634.5L175.3 638.5L177.9 642.5L180 644.5L182.2 646L186.2 647.9L190.2 649.3L196.2 650.5L212.2 651.6L216.2 651.4L224.2 649.3L228.2 648.6L244.2 647.7L248.2 647.2L250.8 646.5L253.8 644.5L254.5 642.5L254.3 640.5L247.4 624.5L245.3 620.5L241.4 614.5L239.2 610.5L234.8 598.5L232.8 594.5L226.2 582.5L223.5 578.5L221.6 576.5L218.2 574.4L210.2 571.2L200.9 566.5L198.2 565.5L194.2 564.9L190.2 565L186.2 565.8Z"/>
<path fill="#009fff" fill-rule="evenodd" d="M44.2 472.5L294.2 472.5L294.2 712.5L44.2 712.5ZM184.2 563.8L180.2 565.7L178.2 567.3L176.2 569.6L174.2 572.8L172.2 577.1L170.5 582.5L168.8 592.5L167.8 610.5L167.9 616.5L168.4 620.5L169.8 626.5L172.2 633.9L174.2 638.9L176.4 642.5L178.3 644.5L181 646.5L186.2 649.1L190.2 650.5L196.2 651.8L212.2 653.1L216.2 653L224.2 651.2L230.2 650.4L246.2 650.5L250.2 650.2L254.2 649.6L258 648.5L260.2 646.6L260.1 644.5L258.2 640.5L253.3 632.5L246.9 620.5L240.8 610.5L236 598.5L233.1 592.5L227.5 582.5L224.7 578.5L222.9 576.5L220.2 574.4L218.2 573.3L210.2 569.6L202.2 565.4L198.2 563.9L194.2 563.1L190.2 562.9Z"/>
<path fill="#00acff" fill-rule="evenodd" d="M44.2 472.5L294.2 472.5L294.2 712.5L44.2 712.5ZM182.2 561.8L180.2 562.7L178.2 564L176.2 565.9L174.2 568.5L172.2 572.2L170.2 577.2L168.7 582.5L167.9 586.5L167.3 592.5L166.5 610.5L166.7 616.5L167.2 620.5L168.6 626.5L172.2 636.9L174.2 641.2L176.7 644.5L179.1 646.5L182.2 648.4L190.2 651.8L196.2 653.2L210.2 654.4L216.2 654.3L224.2 652.8L230.2 652.2L248.2 652.9L264.2 651.9L270.2 652.6L272.2 652.5L274.2 651.2L274.6 650.5L273.4 648.5L268.2 645.9L264.2 643.2L260.2 638.8L256.2 633.3L242.3 610.5L236.4 596.5L231.1 586.5L227.4 580.5L224.1 576.5L221.8 574.5L218.2 572.2L200.2 563L196.2 561.8L190.2 561L186.2 561Z"/>
<path fill="#00b9ff" fill-rule="evenodd" d="M44.2 472.5L294.2 472.5L294.2 712.5L44.2 712.5ZM180.2 559.9L178.2 560.9L176.2 562.5L174.4 564.5L172.2 567.9L170.2 572.2L168.2 578.2L167.2 582.5L166.2 588.4L165.9 592.5L165.4 612.5L165.8 618.5L166.4 622.5L168 628.5L172.2 639.7L174.2 643.3L176.2 645.6L180.3 648.5L188.2 652.4L194.2 654.2L200.2 655L214.2 655.7L226.2 654.1L230.2 653.8L236.2 654L248.2 655.1L262.2 654.5L270.2 654.9L274.2 654.4L276.2 653.1L276.8 652.5L277.2 650.5L276.4 648.5L274.2 646.4L268.2 643L264.2 639.8L260.2 635.4L255.2 628.5L243.8 610.5L237.6 596.5L232.5 586.5L228.7 580.5L225.3 576.5L222.2 573.8L218.2 571.1L204.2 563.3L200.2 561.5L194.2 559.8L188.2 559L184.2 559Z"/>
<path fill="#00c6ff" fill-rule="evenodd" d="M44.2 472.5L294.2 472.5L294.2 712.5L44.2 712.5ZM178.2 558L175 560.5L172.2 564.1L170.2 567.8L168.4 572.5L165.8 582.5L164.9 588.5L164.5 594.5L164.2 612.5L164.7 618.5L165.3 622.5L166.9 628.5L171.4 640.5L173.6 644.5L175.5 646.5L180.2 649.6L188.2 653.7L192.2 655.1L198.2 656.2L214.2 656.9L226.2 655.5L230.2 655.3L236.2 655.7L246.2 657L252.2 657.2L262.2 656.5L272.2 656.6L276.2 655.7L278.3 654.5L279.4 652.5L279.4 650.5L278.6 648.5L276.2 646L268.2 640.6L265.6 638.5L262.2 635L258.2 630L246.4 612.5L244.2 608.5L238.9 596.5L233.8 586.5L229.9 580.5L226.5 576.5L222.2 572.7L218.2 570L206.2 562.9L200.2 560L194.2 558.2L186.2 556.9L182.2 556.8Z"/>
<path fill="#00d2ff" fill-rule="evenodd" d="M44.2 472.5L294.2 472.5L294.2 712.5L44.2 712.5ZM182.2 554.4L178.2 555L176.2 556L173.7 558.5L170.2 563.9L168.2 568.4L166.2 574.6L164.5 582.5L163.7 588.5L163.2 612.5L164.2 622.5L165.8 628.5L170.3 640.5L172.2 644.5L173.8 646.5L176.2 648.5L178.2 649.7L188.2 655L192.2 656.5L198.2 657.5L214.2 658L226.2 656.8L230.2 656.8L236.2 657.3L246.2 658.8L252.2 659.1L262.2 658.2L274.2 657.9L278.2 657L280.2 655.9L281.4 654.5L281.9 652.5L281.6 650.5L280.7 648.5L278.2 645.7L270.8 640.5L266.2 636.6L262.4 632.5L258.2 627.2L247.8 612.5L244.6 606.5L240.1 596.5L235.1 586.5L231.3 580.5L227.8 576.5L222.2 571.7L218.2 568.8L208.2 562.6L202.2 559.4L198.2 557.8L192.2 556.1L186.2 554.8Z"/>
<path fill="#00dfff" fill-rule="evenodd" d="M44.2 472.5L294.2 472.5L294.2 712.5L44.2 712.5ZM178.2 551.9L176.2 552.6L174.2 554.1L172.2 556.7L170.2 560L168.2 564.2L166.2 569.7L164.2 577.5L163 584.5L162.4 590.5L162.2 612.5L163.2 622.5L164.7 628.5L169.2 640.5L170.9 644.5L172.2 646.5L174.2 648.5L176.2 649.9L188.2 656.5L192.2 658L196.2 658.8L212.2 659.2L226.2 658.1L230.2 658.1L236.2 658.8L246.2 660.5L252.2 660.9L262.2 659.8L272.2 659.6L278.2 659L280.5 658.5L282.2 657.7L283.5 656.5L284.3 654.5L284.3 652.5L283.9 650.5L282.9 648.5L281.3 646.5L279.1 644.5L273.2 640.5L266.4 634.5L260.2 627.2L252.2 616.7L249.3 612.5L247 608.5L241.4 596.5L235.3 584.5L232.6 580.5L229.1 576.5L222.2 570.6L218.2 567.6L208.2 561.1L202.2 557.9L196.2 555.6L188.2 553.3L182.2 552.1Z"/>
<path fill="#00ecff" fill-rule="evenodd" d="M44.2 472.5L294.2 472.5L294.2 712.5L44.2 712.5ZM174.2 549.8L172.2 552.2L170.2 555.9L168.2 560.1L165.8 566.5L164.2 572.2L162.5 580.5L161.7 586.5L161.3 592.5L161.3 612.5L162.2 622.6L163.7 628.5L168.8 642.5L170.2 645.6L172.5 648.5L175.1 650.5L182.2 654.3L188.2 658L192.2 659.6L196.2 660.2L212.2 660.3L228.2 659.4L234.2 659.9L248.2 662.5L252.2 662.6L262.2 661.3L281.6 660.5L284.2 659.8L285.8 658.5L286.7 656.5L287 654.5L286.8 652.5L286.2 650.5L285.2 648.5L283.7 646.5L281.6 644.5L275.5 640.5L268.7 634.5L264.2 629.5L252.2 614.5L248.2 608L236.7 584.5L234.1 580.5L230.6 576.5L220.2 567.8L208.2 559.6L202.2 556.4L192.2 552.7L180.2 549.2L178.2 548.8L176.2 548.9Z"/>
<path fill="#00f9ff" fill-rule="evenodd" d="M44.2 472.5L294.2 472.5L294.2 712.5L44.2 712.5ZM174.2 545.3L172.2 546.6L171.1 548.5L165 564.5L162.1 576.5L160.9 584.5L160.4 590.5L160.3 612.5L161.2 622.5L162.7 628.5L165.8 636.5L167.7 642.5L169.4 646.5L170.8 648.5L174.2 651.3L180.3 654.5L188.2 659.7L192.2 661.3L194.2 661.6L210.2 661.5L228.2 660.6L234.2 661.3L248.2 664.1L252.2 664.3L264.2 662.6L276.2 662.2L284.2 662.5L286.2 661.9L288.1 660.5L289.1 658.5L289.5 654.5L288.7 650.5L287.7 648.5L286.3 646.5L284.3 644.5L276.2 639.2L271.1 634.5L267.3 630.5L252.4 612.5L248.2 605L238.1 584.5L235.6 580.5L232.1 576.5L218.2 565L210.2 559.2L204.2 555.7L200.2 553.9L178.2 545.8L176.2 545.3Z"/>
<path fill="#00fff9" fill-rule="evenodd" d="M44.2 472.5L294.2 472.5L294.2 712.5L44.2 712.5ZM172.2 542.3L170.2 544.1L169.1 546.5L167.5 552.5L163.7 564.5L162.2 570.6L160.8 578.5L159.5 590.5L159.6 614.5L160.7 624.5L162.2 630.1L164.7 636.5L167.3 644.5L168.2 646.5L170.2 649.5L173.8 652.5L180.2 655.9L188.2 661.5L190.2 662.4L194.2 663.3L198.2 663.3L224.2 661.8L228.2 661.8L234.2 662.6L248.2 665.6L252.2 665.8L264.2 664.1L274.2 663.7L282.2 664.4L286.2 664.3L288.2 663.6L289.6 662.5L291 660.5L291.7 658.5L292 656.5L291.8 652.5L291.3 650.5L290.2 648.2L289.1 646.5L286.2 643.6L284.2 642.1L278.2 638.8L275.5 636.5L269.8 630.5L254.2 612.5L250.2 605.8L239.7 584.5L237.2 580.5L233.8 576.5L226.2 570.5L220.2 565L212.2 558.9L206.2 555.1L202.2 553.1L185.5 546.5L176.6 542.5L174.2 542Z"/>
<path fill="#00ffec" fill-rule="evenodd" d="M44.2 472.5L294.2 472.5L294.2 651.4L293.2 648.5L292.1 646.5L290.2 644.1L286.2 640.8L278.2 636.4L272.6 630.5L254.8 610.5L252.2 606.1L240.2 582.5L237.5 578.5L235.7 576.5L232.2 573.4L228.1 570.5L220.2 563.4L210.2 555.7L202.2 551.3L188.2 545.6L178.2 540.8L174.2 539.7L172.2 539.8L170.2 540.6L168.4 542.5L167.4 544.5L165.1 554.5L162.2 565.5L160.4 574.5L159 584.5L158.6 592.5L158.7 614.5L159.4 622.5L160.7 628.5L164.2 638L166.2 644.5L168.1 648.5L170.2 651.1L174.2 654.2L178.6 656.5L184.2 660.9L188.2 663.5L192.2 664.9L196.2 665.1L218.2 663.2L228.2 663L234.2 663.9L246.2 666.7L252.2 667.3L264.2 665.6L272.2 665.3L276.2 665.3L284.2 666.1L288.2 665.5L290.2 664.5L292.3 662.5L293.4 660.5L294.2 658.2L294.2 712.5L44.2 712.5Z"/>
<path fill="#00ffdf" fill-rule="evenodd" d="M44.2 472.5L294.2 472.5L294.2 644.6L292.5 642.5L290.2 640.5L287.2 638.5L280.2 634.7L278.2 633L268.9 622.5L257.3 610.5L254.2 605.9L240.9 580.5L238.2 576.9L235.8 574.5L228.2 568.9L220.2 561.5L214.2 556.5L210.2 553.7L204.2 550.3L188.2 543.6L178.2 538.9L174.2 537.8L172.2 537.7L170.2 538.2L168.2 539.4L166.1 542.5L165 546.5L163.6 554.5L160.1 570.5L158.2 584L157.7 592.5L157.9 614.5L158.6 622.5L160.2 630L165.9 646.5L168.2 650.5L170.2 652.7L172.2 654.3L178.8 658.5L184.2 663L188.2 665.6L192.2 666.8L196.2 667L214.2 664.6L226.2 664.1L232.2 664.8L246.2 668.1L252.2 668.8L256.2 668.5L264.2 667.2L270.2 666.9L274.2 666.8L282.2 667.5L286.2 667.5L290.2 666.4L292.9 664.5L294.2 663.1L294.2 712.5L44.2 712.5Z"/>
<path fill="#00ffd2" fill-rule="evenodd" d="M44.2 472.5L294.2 472.5L294.2 639.8L290.2 636.6L283.1 632.5L280.5 630.5L271.3 620.5L262.2 612.1L258.7 608.5L256.2 605L254.2 601.6L243.2 580.5L240.2 576.5L238.2 574.4L228.2 566.9L216.2 555.8L210.2 551.4L204.2 548.2L178.2 537.1L174.2 536L172.2 535.8L169 536.5L166.2 538.6L164.3 542.5L158.3 576.5L157.2 586.5L157 592.5L157.3 616.5L158.4 626.5L160.1 632.5L164.9 646.5L167 650.5L170.2 654.2L178.2 660.1L183.3 664.5L186 666.5L188.2 667.7L192.2 668.9L196.2 669L208.2 666.6L214.2 665.8L224.2 665.2L232.2 666L248.2 669.8L254.2 670.2L264.2 668.9L270.2 668.5L286.2 668.9L290.2 667.9L294.2 665.6L294.2 712.5L44.2 712.5Z"/>
<path fill="#00ffc6" fill-rule="evenodd" d="M44.2 472.5L294.2 472.5L294.2 634.5L286.3 628.5L276 618.5L264.2 609.6L260.2 605.7L256.2 600L247 582.5L244.6 578.5L242.2 575.5L239.2 572.5L230.2 566.1L218.2 554.8L214.2 551.6L210.2 549L204.2 546L176.2 534.7L172.2 534L170.2 534L168.2 534.5L165.6 536.5L164.2 538.4L163.3 540.5L162.2 544.8L160.9 554.5L158 572.5L156.5 584.5L156.2 592.5L156.5 616.5L156.9 622.5L157.9 628.5L164.2 647.4L166.2 651.2L168.2 653.8L170.2 655.8L176.2 660.5L184.2 667.5L188.2 669.8L192.2 671L196.2 671L210.2 667.6L220.2 666.4L226.2 666.5L230.2 666.9L246.2 670.7L252.2 671.6L256.2 671.5L270.2 670.1L286.2 670.2L290.2 669.4L294.2 667.5L294.2 712.5L44.2 712.5Z"/>
<path fill="#00ffb9" fill-rule="evenodd" d="M44.2 472.5L294.2 472.5L294.2 626.2L291.3 620.5L289 612.5L288.1 610.5L286.2 609.2L284.2 609L276.2 609.5L272.2 608.7L268.2 607L264.2 604.2L260.7 600.5L258.2 597L249.3 580.5L245.1 574.5L240.8 570.5L232.2 564.7L230.2 563L221.5 554.5L216.9 550.5L212.2 547.4L206.2 544.4L180.2 534.5L174.2 532.6L170.2 532.1L168.2 532.3L166.2 533.2L164.2 535.1L162.2 539L160.9 544.5L156.9 574.5L155.8 584.5L155.4 592.5L155.8 616.5L156.4 624.5L158.2 632.5L162.2 644.7L164.7 650.5L168.2 655.4L182.2 668.1L185.6 670.5L188.2 671.8L190.2 672.6L194.2 673.2L198.2 672.8L206.2 670L212 668.5L220.2 667.6L226.2 667.6L230.2 668.1L248.2 672.4L254.2 673L270.2 671.8L286.2 671.5L290.2 670.7L294.2 669.2L294.2 712.5L44.2 712.5Z"/>
<path fill="#00ffac" fill-rule="evenodd" d="M44.2 472.5L294.2 472.5L294.2 607.5L292 604.5L290.2 603.2L288.2 602.4L284.2 601.8L276.2 601.8L272.2 601.3L269.5 600.5L266.2 598.6L262.2 594.7L260.2 591.9L258.1 588.5L253.1 578.5L249.1 572.5L244.6 568.5L234.9 562.5L232.2 560.5L222.2 550.9L216.4 546.5L212.2 544.2L206.2 541.7L192.2 537.2L176.2 531.5L170.2 530.1L168.2 530.2L166.2 530.8L164.2 532.2L162.2 535.1L160.4 540.5L155.8 576.5L154.9 586.5L154.7 592.5L155.1 616.5L155.6 624.5L157.3 632.5L161.2 644.5L163.7 650.5L166.2 654.6L170.2 658.9L180.2 668.5L182.6 670.5L186.2 672.8L190.2 674.5L194.2 675.3L198.2 674.9L208.2 670.9L212.2 669.7L220.2 668.7L226.2 668.8L230.2 669.3L248.2 673.7L254.2 674.4L270.2 673.4L284.2 673L290.2 672.1L294.2 670.8L294.2 712.5L44.2 712.5Z"/>
<path fill="#00ff9f" fill-rule="evenodd" d="M44.2 472.5L294.2 472.5L294.2 601.9L292.2 600.4L288.2 598.5L278.2 596L273.9 594.5L270.2 592.3L266.3 588.5L263.8 584.5L262.3 580.5L261.5 574.5L262.5 566.5L262.3 564.5L260.2 562.2L256.2 561.1L246.2 560.3L240.2 558.7L236.2 556.6L234.2 555.2L223.9 546.5L220.8 544.5L216.2 542.2L208.2 539.4L188.2 534L172.2 528.6L168.2 527.9L165.7 528.5L164.2 529.3L163.1 530.5L162.2 531.6L160.8 534.5L159.6 538.5L158.6 544.5L154.9 578.5L154 592.5L154.4 616.5L154.8 624.5L156.2 631.7L160.2 644.4L162.7 650.5L166.2 656.2L170.2 660.5L180.2 670.5L184.2 673.4L188.2 675.5L192.2 676.9L196.2 677.3L200.2 676.5L208.2 672.5L212.2 671.1L216.2 670.2L220.2 669.8L224.2 669.9L230.2 670.5L248.2 675L254.2 675.8L260.2 675.7L284.2 674.3L290.2 673.4L294.2 672.3L294.2 712.5L44.2 712.5Z"/>
<path fill="#00ff93" fill-rule="evenodd" d="M44.2 472.5L294.2 472.5L294.2 598.3L290.2 596L280.2 591.5L276.2 588.5L274.5 586.5L273.2 584.5L272.4 582.5L271.9 578.5L272.6 574.5L275 566.5L275.2 564.5L274.9 562.5L274 560.5L272.5 558.5L270.2 556.5L267 554.5L262.2 552.2L252.9 548.5L228.9 540.5L218.2 537.9L200.2 534.9L190.2 532.7L182.2 530.4L170.2 526L168.2 525.6L166.2 525.6L164.2 526.4L162.2 528.3L160.2 532L158.4 538.5L154.2 577.6L153.3 592.5L153.7 618.5L154.1 624.5L155.6 632.5L158.7 642.5L161.7 650.5L165.3 656.5L168.2 660.1L176.2 668.5L180.2 672.3L184.2 675.1L188.2 677.2L192.2 678.6L196.2 679.3L198.2 679.2L200.8 678.5L207.6 674.5L212.2 672.4L216.2 671.4L220.2 671L224.2 671L230.2 671.7L236.2 673L248.2 676.2L252.2 676.9L256.2 677.2L280.2 676L288.2 675L294.2 673.7L294.2 712.5L44.2 712.5Z"/>
<path fill="#00ff86" fill-rule="evenodd" d="M44.2 472.5L294.2 472.5L294.2 595L286.1 590.5L283.2 588.5L281 586.5L279.6 584.5L278.7 582.5L278.2 580.5L278.2 576.5L280.3 568.5L280.8 564.5L280.2 561.8L278.4 558.5L274.2 554.6L271 552.5L254.2 543.5L242.2 536.1L236.2 533.2L234.2 532.5L230.2 531.8L226.2 531.7L216.2 532.7L208.2 532.8L200.2 532.3L192.2 531.2L186.2 529.9L180.2 528.2L175.8 526.5L170.2 523.8L168.2 523L166.2 522.7L164.2 523.1L162.2 524.8L161.1 526.5L159.3 530.5L157.7 536.5L156.5 544.5L153.4 578.5L152.6 592.5L153.4 624.5L154.8 632.5L157.8 642.5L160.8 650.5L164.2 656.6L168.2 661.6L178.5 672.5L184 676.5L188.2 678.7L194.2 680.8L198.2 681.2L200.2 681L202.2 680.2L208.2 676L212.2 673.8L216.2 672.7L220.2 672.2L224.2 672.2L230.2 672.9L236.2 674.2L248.2 677.5L252.2 678.2L256.2 678.6L266.2 678.5L276.2 677.9L284.2 677L294.2 675.2L294.2 712.5L44.2 712.5Z"/>
<path fill="#00ff79" fill-rule="evenodd" d="M44.2 472.5L294.2 472.5L294.2 591.8L288.9 588.5L286.3 586.5L284.5 584.5L283.3 582.5L282.7 580.5L282.6 576.5L284.5 568.5L284.8 564.5L284.4 562.5L283.7 560.5L282.4 558.5L280.7 556.5L275.7 552.5L258.2 542.2L244.2 532.1L238.2 528.3L232.2 525.9L228.2 525.3L224.2 525.6L214.2 528.2L208.2 529.3L200.2 529.7L192.2 529.2L186.2 528.2L179.8 526.5L175.3 524.5L168.2 519.9L166.2 519.1L164.2 519.2L162.2 520.7L160.2 523.9L158.2 529.2L157 534.5L155.6 544.5L152.4 582.5L152 592.5L152.6 624.5L154 632.5L156.2 640.3L160.2 651.2L164.2 658.2L174.2 669.8L178.2 673.8L182.2 676.7L188.2 680L194.2 682.4L198.2 683.1L200.2 683L202.2 682.6L204.2 681.5L210.2 676.5L212.2 675.3L216.2 674L220.2 673.5L224.2 673.5L230.2 674.1L236.2 675.3L250.2 679.1L258.2 680L266.2 680.1L274.2 679.7L294.2 676.6L294.2 712.5L44.2 712.5Z"/>
<path fill="#00ff6c" fill-rule="evenodd" d="M44.2 472.5L294.2 472.5L294.2 588.4L289 584.5L287.3 582.5L286.5 580.5L286.2 578.5L286.3 576.5L288 568.5L288.1 564.5L286.8 560.5L283.9 556.5L281.8 554.5L276.4 550.5L258.2 539.3L244.2 528.2L236.2 523L230.2 520.6L226.2 520.1L222.2 520.7L210.2 525.1L204.4 526.5L196.2 527.2L188.2 526.7L182.2 525.6L178.2 524.2L175.3 522.5L172.9 520.5L168.2 515.9L166.2 514.5L164.2 514.2L162.2 515.5L160.2 518.9L158.2 524.5L156.2 532.7L154.7 544.5L151.8 582.5L151.3 592.5L151.9 624.5L153.2 632.5L156.1 642.5L160 652.5L163.4 658.5L168.2 664.6L174.2 671.4L177.4 674.5L183 678.5L190.2 682.2L196.2 684.4L200.2 685L202.2 684.8L204.2 684.2L206.2 682.7L210.2 678.5L213 676.5L216.2 675.3L220.2 674.7L224.2 674.7L230.2 675.3L238.2 677L250.2 680.4L254.2 681L262.2 681.5L268.2 681.7L274.2 681.4L294.2 678L294.2 712.5L44.2 712.5Z"/>
<path fill="#00ff60" fill-rule="evenodd" d="M44.2 472.5L294.2 472.5L294.2 584.7L291.8 582.5L290.2 580.4L289.8 578.5L291 568.5L290.8 564.5L289.5 560.5L286.6 556.5L282.2 552.6L279.3 550.5L260.2 538.3L244.2 525.1L236.2 519.4L230.2 516.5L226.2 515.7L224.2 515.7L220.2 516.6L208.2 521.9L202.2 523.7L194.2 524.8L188.2 524.8L184.2 524.3L180.2 523.3L178.2 522.4L176.2 520.9L173.9 518.5L168.2 510.4L166.2 508.7L164.2 508L162.2 508.9L160.2 512.4L158.2 518.7L155.3 532.5L154 542.5L151.1 582.5L150.7 592.5L151.3 624.5L152.5 632.5L155.3 642.5L158.2 650.5L160.2 654.8L162.3 658.5L166.2 663.7L172.2 670.7L175.9 674.5L178.2 676.5L184.5 680.5L192.2 684.3L198.2 686.3L202.2 686.8L204.2 686.6L206.2 685.8L208.2 683.9L210.6 680.5L212.7 678.5L214.2 677.5L216.2 676.7L220.2 676.1L224.2 676L230.2 676.5L236.2 677.6L252.2 681.9L268.2 683.3L276.2 682.9L288.2 680.3L294.2 679.5L294.2 712.5L44.2 712.5Z"/>
<path fill="#00ff53" fill-rule="evenodd" d="M44.2 472.5L294.2 472.5L294.2 578.5L293.8 576.5L293.8 568.5L293.2 564.5L291.9 560.5L289 556.5L281.9 550.5L262.2 537.7L244.2 522.3L234.2 515.1L228.2 512.3L224.2 511.7L222.2 511.8L218.2 513L207.2 518.5L200.2 521L192.2 522.4L184.2 522.4L180.2 521.4L178.2 520.1L175.4 516.5L172.2 510.5L170.2 507.4L167.4 504.5L166.2 503.6L164.2 502.7L162.2 502.9L160.2 505.1L159.7 506.5L158.2 511.4L154.6 530.5L153.3 542.5L150.5 582.5L150.1 592.5L150.6 624.5L151.8 632.5L154.2 641.5L158.2 652.3L162.2 659.8L165.7 664.5L172.2 672.1L176.7 676.5L182.7 680.5L194.2 686.3L200.2 688.2L204.2 688.7L206.2 688.6L208.2 687.6L210.2 685.1L213 680.5L214.2 679.4L216.2 678.3L220.2 677.5L226.2 677.4L232.2 678L238.2 679.3L252.2 683.1L270.2 685.1L276.2 684.8L288.2 681.8L294.2 681L294.2 712.5L44.2 712.5Z"/>
<path fill="#00ff46" fill-rule="evenodd" d="M44.2 472.5L294.2 472.5L294.2 561.2L292.7 558.5L291.1 556.5L286.6 552.5L281.2 548.5L263.1 536.5L242.2 518.3L234.2 512.2L230.2 509.8L226.2 508.2L224.2 507.9L220.2 508.3L216.2 509.8L206.2 515.2L200.2 517.7L192.2 519.6L188.2 520L184.2 520L182.2 519.6L179.9 518.5L178.2 516.1L174.5 508.5L172.2 505.2L170.2 503L166.2 499.7L164.2 498.6L162.2 498.2L160.2 499.3L158.2 503.6L156.2 514L153.7 530.5L152.5 542.5L149.5 592.5L150.1 626.5L151.6 634.5L153.8 642.5L158.2 654.1L161.7 660.5L166.2 666.4L172.2 673.4L175.4 676.5L181 680.5L192.2 686.5L198.2 688.9L206.2 690.8L208.2 690.8L210.2 689.9L211.2 688.5L214 682.5L215.8 680.5L218.2 679.6L222.2 678.9L228.2 678.8L234.2 679.5L240.2 680.9L250.2 683.8L268.2 686.6L272.2 687L278.2 686.4L288.2 683.4L294.2 682.6L294.2 712.5L44.2 712.5Z"/>
<path fill="#00ff39" fill-rule="evenodd" d="M44.2 472.5L294.2 472.5L294.2 558L290.9 554.5L285.9 550.5L264.2 535.7L240.2 514.4L232.2 508.2L228.2 505.8L224.2 504.4L220.2 504.5L216.2 506L204.2 512.3L198.2 514.7L190.2 516.5L185 516.5L184.2 516.3L182.2 515.1L180.3 512.5L176.9 506.5L175.3 504.5L171.2 500.5L164.2 495.4L162.2 494.5L160.2 494.6L158.2 497.1L156.2 505.2L152.9 530.5L151.7 542.5L148.9 592.5L149.5 626.5L150.4 632.5L153.1 642.5L157.6 654.5L162.1 662.5L172.1 674.5L176.2 678.3L182.8 682.5L194.2 688.4L206.2 692.6L210.2 693.2L212.2 692.4L213.4 690.5L215.6 684.5L217.2 682.5L220.2 681L224.2 680.3L230.2 680.2L236.2 681L250.2 684.8L272.2 689L276.2 688.9L278.2 688.6L290.2 684.6L294.2 684.5L294.2 712.5L44.2 712.5Z"/>
<path fill="#00ff2d" fill-rule="evenodd" d="M44.2 472.5L294.2 472.5L294.2 555.9L290.3 552.5L285 548.5L264.6 534.5L238.2 510.6L230.2 504.1L226.2 501.8L224.2 501.1L222.2 500.8L220.2 500.9L216.2 502.2L206.2 507.4L200.2 510L194.2 511.6L190.2 511.9L188.2 511.7L186.2 510.9L184.2 509.4L179.4 504.5L174.9 500.5L164.2 492.5L162.2 491.3L160.2 490.6L158.2 491.8L157.1 494.5L156.2 497.7L154.8 506.5L152.1 530.5L151 542.5L148.3 592.5L148.9 626.5L150.2 634.4L152.4 642.5L156.2 652.9L160.2 661L164.2 666.6L171 674.5L175.2 678.5L181.3 682.5L194.2 689.3L208.2 694.8L212.2 695.8L214.4 694.5L217.3 686.5L218.7 684.5L220.2 683.3L221.9 682.5L226.2 681.6L232.2 681.6L238.2 682.5L250.2 685.8L258.2 687.3L270.2 690.6L274.2 691.3L276.2 691.3L280.2 690.6L290.2 686.8L294.2 686.7L294.2 712.5L44.2 712.5Z"/>
<path fill="#00ff20" fill-rule="evenodd" d="M44.2 472.5L294.2 472.5L294.2 554.3L286.2 548.2L269.1 536.5L264.2 532.7L238.2 508.5L230.2 501.6L226.2 498.8L224.2 497.8L222.2 497.3L220.2 497.3L216.2 498.6L206.2 503.6L200.2 506.1L196.2 507L192.2 507.1L188.2 505.9L182.2 502.5L168.2 493.1L160.2 486.7L158.2 486.6L156.2 491L155.5 494.5L153.8 506.5L151.4 530.5L150.3 542.5L147.7 592.5L148.2 626.5L149.6 634.5L152.2 644.1L156.2 654.6L160.2 662.4L163.1 666.5L168.3 672.5L174 678.5L180.2 682.7L194.2 690.2L212.2 698.1L214.2 698.6L216.2 696.4L218.2 689.8L220.2 686.2L222.2 684.5L224.2 683.7L228.2 682.9L234.2 683L240.2 684L250.2 686.7L260.2 689L270.2 692.7L274.2 693.8L276.2 694L280.2 693.5L290.2 689.8L294.2 689.5L294.2 712.5L44.2 712.5Z"/>
<path fill="#00ff13" fill-rule="evenodd" d="M44.2 472.5L294.2 472.5L294.2 553.1L265.6 532.5L232.2 501L228.2 497.5L224.2 494.6L222.2 493.7L220.2 493.5L218.2 494L202.2 501.5L196.2 502.9L192.2 502.7L188.2 501.7L184.2 500L174.2 494.8L170.2 492.3L166.2 489.3L163.3 486.5L160.2 482.5L158.2 481.6L157 482.5L156.2 483.5L154.2 494.5L150.7 530.5L149.7 542.5L147.1 592.5L147.7 626.5L148.6 632.5L151.1 642.5L156.2 656.2L160.2 663.7L163.8 668.5L169 674.5L173 678.5L178.2 682.2L185.6 686.5L193.1 690.5L208.2 697.4L214.2 700.9L216.2 701L216.6 700.5L219.8 690.5L220.9 688.5L222.2 687L224.2 685.6L226.2 684.8L230.2 684.1L234.2 684.1L238.2 684.6L256.2 689L262.2 691L272.2 695.8L276.2 696.9L278.2 697L282.2 696.5L290.2 693.8L294.2 693.3L294.2 712.5L44.2 712.5Z"/>
<path fill="#00ff06" fill-rule="evenodd" d="M44.2 472.5L157 472.5L158.2 474.5L158.7 476.5L158.2 476.8L157.4 478.5L156.2 479.6L154.8 482.5L152.1 506.5L149.1 542.5L146.6 592.5L146.9 622.5L147.6 630.5L149.4 638.5L151.7 646.5L154.8 654.5L158.2 661.7L160.2 665L162.9 668.5L169.9 676.5L174.4 680.5L180.7 684.5L191.7 690.5L202.2 695.3L208.2 698.5L210.2 699.6L214.2 702.6L216.2 703.2L217.6 702.5L218.2 701.6L219.3 696.5L220.6 692.5L222.2 689.6L224.2 687.6L226.2 686.4L230.2 685.4L236.2 685.4L242.2 686.4L258.2 690.7L264.2 693.3L272.2 698.3L276.2 699.9L278.2 700.3L282.2 700.4L294.2 698.4L294.2 712.5L44.2 712.5ZM163.1 474.5L165.6 472.5L294.2 472.5L294.2 552L270.2 534.8L266.2 531.7L230.2 496.9L224.2 491.4L222.2 490.1L220.2 489.3L218.2 489.3L204.2 496.6L198.2 498.7L194.2 499L188.2 498.1L182.2 496.1L174.2 492.6L170.2 490.3L166.2 487.2L164 484.5L162.8 482.5L161.3 478.5L161.3 476.5Z"/>
<path fill="#06ff00" fill-rule="evenodd" d="M44.2 472.5L155.2 472.5L156.1 474.5L156 476.5L154.2 480.5L153.7 482.5L153.3 488.5L152.5 494.5L150.3 518.5L148.4 542.5L146 590.5L146.3 622.5L147.1 630.5L150.2 643.8L154.2 654.7L158.2 663L162 668.5L167.2 674.5L171 678.5L174.2 681.1L179.5 684.5L190.3 690.5L200.2 695.1L208.2 699.3L214.2 703.5L216.2 704.5L218.3 704.5L219.3 702.5L221.2 694.5L222.2 692.4L224.2 689.7L226.2 688.1L228.2 687.2L232.2 686.4L236.2 686.5L244.2 687.8L254.2 690.4L258.2 691.8L263.7 694.5L272.2 700.9L276.2 702.7L284.2 704.4L288.2 704.7L294.2 704.5L294.2 712.5L44.2 712.5ZM166.5 474.5L169.7 472.5L180.2 472.5L186.2 473.2L190.2 473L192.7 472.5L294.2 472.5L294.2 551.1L271.3 534.5L266.2 530.4L243.5 508.5L224.2 488.6L219.1 484.5L216.2 480.4L214.2 478.6L210.2 476.5L206.2 475.1L205.1 476.5L206.7 480.5L207.5 484.5L207.5 486.5L207 488.5L206.2 489.6L205.6 490.5L203.1 492.5L200.2 493.9L196.2 495L192.2 495.1L186.2 494.1L176.2 491.2L172.2 489.5L168.2 486.9L165.9 484.5L164.8 482.5L164.1 480.5L164 478.5L164.7 476.5Z"/>
<path fill="#13ff00" fill-rule="evenodd" d="M44.2 472.5L154 472.5L154.7 474.5L154.7 476.5L152.9 482.5L147.8 542.5L145.5 590.5L145.7 622.5L146.5 630.5L148.2 638.5L149.8 644.5L154.2 656.3L158.2 664.3L161.1 668.5L168.1 676.5L172.2 680.4L175.1 682.5L181.7 686.5L192.2 692.2L206.2 699L210.2 701.4L214.2 704.5L220.2 706.8L220.5 706.5L220.6 702.5L221.2 698.5L222.6 694.5L224.2 691.8L226.2 689.9L228.7 688.5L232.2 687.6L236.2 687.5L240.2 687.9L246.2 689.2L254.2 691.4L258.2 692.8L261.4 694.5L264.4 696.5L270.2 701.8L272.2 703.3L278.2 706L286.2 708.7L290.2 709.7L294.2 709.8L294.2 712.5L224.8 712.5L225 710.5L224.2 709L222.2 707.6L221.2 708.5L221.5 710.5L222.2 711.9L222.8 712.5L44.2 712.5ZM169.9 474.5L172.2 473.8L174.2 473.7L176.2 474L184.2 477.1L188.2 477.8L192.2 477.5L196.2 476.7L198.2 476.7L200.2 477.4L202.2 479.7L202.6 480.5L203 482.5L202.8 484.5L202.1 486.5L200.4 488.5L198.2 489.8L195.5 490.5L192.2 490.7L189.1 490.5L178.2 489.2L174.2 488.3L170.2 486.4L168.2 484.8L166.5 482.5L166.2 481.6L165.9 480.5L166.2 478L167.1 476.5ZM209.2 472.5L294.2 472.5L294.2 550.2L272.7 534.5L266.2 529.2L239.1 502.5L226.2 488.5L220.3 482.5L216.2 477.7Z"/>
<path fill="#20ff00" fill-rule="evenodd" d="M44.2 472.5L153.3 472.5L153.7 474.5L153.6 476.5L152.1 482.5L147.3 542.5L144.9 590.5L145.2 624.5L146.2 632L148.7 642.5L150.2 647.6L153.7 656.5L158.2 665.5L161.9 670.5L169.2 678.5L174.1 682.5L180.6 686.5L191.6 692.5L206.2 699.7L214.2 705.1L216.9 706.5L219.4 708.5L221.6 712.5L44.2 712.5ZM212.4 472.5L294.2 472.5L294.2 549.4L272.2 533.1L266.2 528L242.4 504.5L222.2 482.5L218.2 477.8ZM169.9 476.5L172.2 475.9L174.2 476L176.2 476.6L179.2 478.5L181.4 480.5L182.6 482.5L181.9 484.5L178.2 485.9L176.2 486.1L172.2 485.3L170.2 484.3L168.3 482.5L167.6 480.5L167.9 478.5ZM227.7 690.5L230.2 689.4L232.2 688.9L238.2 688.7L246.2 690.1L254.8 692.5L259.3 694.5L262.4 696.5L264.8 698.5L270.2 703.9L272.2 705.3L278.2 708.5L287.5 712.5L225.9 712.5L226.1 710.5L225 708.5L223.1 706.5L222 704.5L221.6 702.5L221.8 700.5L222.9 696.5L223.9 694.5L225.4 692.5Z"/>
<path fill="#2dff00" fill-rule="evenodd" d="M44.2 472.5L152.5 472.5L152.9 474.5L152.8 476.5L151.6 482.5L146.7 542.5L144.4 590.5L144.7 624.5L145.8 632.5L148.2 642.9L152.2 654.5L156.9 664.5L160.2 669.5L168.4 678.5L173.1 682.5L179.5 686.5L190.5 692.5L200.2 697.2L208.2 701.5L218.2 708.5L220.9 712.5L44.2 712.5ZM214.6 472.5L294.2 472.5L294.2 548.5L284.2 541.3L272.8 532.5L265.9 526.5L241.9 502.5L218.2 476ZM171.3 478.5L173 478.5L174.2 479.3L175.3 480.5L174.5 482.5L172.2 482.7L170.2 481.4L169.7 480.5L170.2 479.1ZM230.8 690.5L236.2 689.6L242.2 690.1L250.2 691.9L256.2 694.1L260.2 696.3L262.2 697.8L268.2 703.9L272.2 707.2L281.3 712.5L226.7 712.5L226.8 710.5L226.2 708.7L223.1 704.5L222.6 702.5L222.7 700.5L224.1 696.5L226.2 693.4L228.2 691.7Z"/>
<path fill="#39ff00" fill-rule="evenodd" d="M44.2 472.5L151.9 472.5L152 476.5L151 482.5L146.1 542.5L143.9 590.5L144.2 624.9L145.7 634.5L148.2 644.9L152.5 656.5L157.4 666.5L160.2 670.5L167.6 678.5L172.2 682.5L178.4 686.5L189.3 692.5L204.2 699.9L210.2 703.4L217.4 708.5L220.1 712.5L44.2 712.5ZM216.4 472.5L294.2 472.5L294.2 547.8L286.8 542.5L274.1 532.5L266.2 525.7L243.1 502.5ZM229.5 692.5L232.2 691.4L234.2 690.9L240.2 690.8L248.2 692.3L254.2 694.2L258.2 696.2L261.4 698.5L270.2 707.5L277.3 712.5L227.3 712.5L227.4 710.5L226.9 708.5L224.1 704.5L223.5 702.5L223.7 700.5L224.3 698.5L226.2 695.3L228.2 693.3Z"/>
<path fill="#46ff00" fill-rule="evenodd" d="M44.2 472.5L151.4 472.5L151.4 476.5L150.3 484.5L145.6 542.5L143.4 590.5L143.5 620.5L143.8 626.5L145.6 636.5L148.1 646.5L152.2 657.2L156.7 666.5L160.2 671.5L168.2 679.8L174.2 684.5L180.8 688.5L208.2 702.7L216.6 708.5L219.5 712.5L44.2 712.5ZM217.9 472.5L294.2 472.5L294.2 547.1L285.2 540.5L275.3 532.5L266.2 524.5L242.5 500.5ZM232.6 692.5L236.2 691.8L242.2 692L248.2 693.1L254.2 695.1L256.9 696.5L260.2 698.9L268.2 707.4L274.2 712.5L228 712.5L228.1 710.5L227.7 708.5L225.2 704.5L224.4 702.5L224.7 700.5L226.2 697.3L228.2 694.9L230.2 693.5Z"/>
<path fill="#53ff00" fill-rule="evenodd" d="M44.2 472.5L150.8 472.5L150.8 476.5L149.9 482.5L147.8 506.5L145.1 542.5L142.8 590.5L143 620.5L143.3 626.5L144.7 634.5L147.6 646.5L152.2 658.6L156.2 666.8L160.2 672.4L168.2 680.5L173.3 684.5L180.2 688.7L208.2 703.3L215.8 708.5L219 712.5L44.2 712.5ZM219.2 472.5L294.2 472.5L294.2 546.4L286.3 540.5L274 530.5L266.2 523.4L243.6 500.5ZM231.1 694.5L234.2 693.3L240.2 692.8L244.2 693.2L248.2 694L254.2 696.1L258.2 698.5L260.5 700.5L268.2 709.2L271.8 712.5L228.7 712.5L228.8 710.5L228.5 708.5L225.5 702.5L225.8 700.5L226.8 698.5L228.4 696.5Z"/>
<path fill="#60ff00" fill-rule="evenodd" d="M44.2 472.5L150.3 472.5L150.2 476.5L147.3 506.5L144.5 542.5L142.3 590.5L142.6 624.5L144.2 634.5L147.1 646.5L148.4 650.5L152.2 659.8L156.2 667.9L160.2 673.2L167.4 680.5L172.2 684.3L178.8 688.5L208.2 703.8L215.2 708.5L217.1 710.5L218.4 712.5L44.2 712.5ZM220.4 472.5L294.2 472.5L294.2 545.7L287.2 540.5L275.1 530.5L266.2 522.4L244.8 500.5ZM234.3 694.5L238.2 693.8L244.2 694.1L250.2 695.4L254.2 697.1L259 700.5L269.7 712.5L229.3 712.5L229.3 708.5L226.8 702.5L227.2 700.5L228.3 698.5L230.2 696.6L232.2 695.4Z"/>
<path fill="#6cff00" fill-rule="evenodd" d="M44.2 472.5L149.8 472.5L149.7 476.5L146.8 506.5L144.1 540.5L141.8 590.5L142.1 624.5L143.7 634.5L146.6 646.5L148.2 651.3L152 660.5L156.2 668.9L160.2 674L166.6 680.5L171.6 684.5L178.2 688.7L188.9 694.5L204.2 702.1L210.2 705.5L214.5 708.5L216.5 710.5L217.9 712.5L44.2 712.5ZM221.6 472.5L294.2 472.5L294.2 545L288.1 540.5L276.2 530.5L266.2 521.3L245.9 500.5ZM232.9 696.5L236.2 695.3L242.2 694.8L248.2 695.7L252.2 697.1L254.9 698.5L258.2 701.1L267.8 712.5L230 712.5L230 708.5L228.3 702.5L228.8 700.5L230.2 698.5Z"/>
<path fill="#79ff00" fill-rule="evenodd" d="M44.2 472.5L149.4 472.5L149.2 476.5L146.3 506.5L143.6 540.5L142.6 556.5L141.3 590.5L141.3 610.5L141.7 624.5L142.9 632.5L146.2 646.9L150.6 658.5L154.2 666.3L156.2 669.9L159.9 674.5L165.9 680.5L172.2 685.5L180.2 690.4L202.2 701.6L210.2 706L214.2 708.7L216 710.5L217.4 712.5L44.2 712.5ZM222.6 472.5L294.2 472.5L294.2 544.4L289 540.5L275 528.5L260.4 514.5L245.1 498.5ZM236.3 696.5L240.2 695.8L244.2 695.9L248.2 696.6L253.1 698.5L256.1 700.5L258.3 702.5L266.1 712.5L230.8 712.5L230.9 708.5L230 702.5L230.6 700.5L232.3 698.5Z"/>
<path fill="#86ff00" fill-rule="evenodd" d="M44.2 472.5L148.9 472.5L148.8 476.5L145.1 514.5L143 540.5L142.1 556.5L140.7 590.5L140.8 612.5L141.2 624.5L142.8 634.5L146.2 648.5L151 660.5L156 670.5L160.2 675.6L165.2 680.5L172.2 686.1L179.4 690.5L204.2 703.1L212.2 707.7L215.5 710.5L217 712.5L44.2 712.5ZM223.7 472.5L294.2 472.5L294.2 543.7L287.5 538.5L273.8 526.5L261.5 514.5L246.2 498.5ZM235 698.5L238.2 697.3L240.2 696.9L244.2 696.8L248.2 697.5L252.2 699L254.6 700.5L256.9 702.5L260.2 706.5L264.5 712.5L231.6 712.5L231.6 702.5L232.6 700.5Z"/>
<path fill="#93ff00" fill-rule="evenodd" d="M44.2 472.5L148.5 472.5L144.7 512.5L142.5 540.5L141.5 556.5L140.2 590.5L140.2 612.5L140.7 624.5L142.2 633.8L145.7 648.5L150.2 659.9L154.2 668.5L156.2 671.7L158.2 674.1L164.5 680.5L172 686.5L178.5 690.5L210.2 706.9L214.2 709.7L216.5 712.5L44.2 712.5ZM224.7 472.5L294.2 472.5L294.2 543.1L288.4 538.5L274.9 526.5L260.5 512.5L245.4 496.5ZM238.4 698.5L242.2 697.8L246.2 698L248.4 698.5L252.2 700.1L255.5 702.5L257.4 704.5L263 712.5L232.6 712.5L232.9 704.5L233.4 702.5L234.8 700.5Z"/>
<path fill="#9fff00" fill-rule="evenodd" d="M44.2 472.5L148 472.5L144.2 512.5L142 540.5L141 556.5L139.7 588.5L139.7 612.5L140.3 624.5L142.2 635.9L145.3 648.5L150 660.5L154.2 669.5L157.9 674.5L163.8 680.5L170.2 685.7L178.2 690.8L210.2 707.3L214.2 710.2L216 712.5L44.2 712.5ZM225.6 472.5L294.2 472.5L294.2 542.4L289.3 538.5L274.2 524.9L261.5 512.5L246.5 496.5ZM237.4 700.5L240.2 699.3L244.2 698.9L248.2 699.4L251 700.5L254 702.5L256 704.5L261.5 712.5L233.6 712.5L234.3 704.5L235.2 702.5Z"/>
<path fill="#acff00" fill-rule="evenodd" d="M44.2 472.5L147.6 472.5L143.7 512.5L141.6 538.5L140.4 556.5L139.2 586.5L139.2 612.5L139.8 624.5L140.3 628.5L141.9 636.5L144.8 648.5L149.5 660.5L154.2 670.4L157.3 674.5L163.1 680.5L170.2 686.3L176.2 690.2L184 694.5L210.2 707.8L214 710.5L215.6 712.5L44.2 712.5ZM226.6 472.5L294.2 472.5L294.2 541.8L290.2 538.5L274.8 524.5L260.6 510.5L247.5 496.5ZM240.8 700.5L244.2 699.9L246.2 700L248.5 700.5L252.2 702.3L254.6 704.5L256.2 706.5L260 712.5L234.7 712.5L235.4 706.5L236 704.5L237.3 702.5Z"/>
<path fill="#b9ff00" fill-rule="evenodd" d="M44.2 472.5L147.1 472.5L143.2 512.5L141 538.5L139.8 556.5L138.6 586.5L138.7 612.5L139.4 624.5L139.9 628.5L141.5 636.5L144.4 648.5L149.1 660.5L153.8 670.5L156.7 674.5L162.4 680.5L169.8 686.5L175.9 690.5L183 694.5L210.2 708.2L213.5 710.5L215.1 712.5L44.2 712.5ZM227.5 472.5L294.2 472.5L294.2 541.1L288.8 536.5L273.7 522.5L257.7 506.5L246.2 494ZM239.8 702.5L242.2 701.5L244.2 701.1L248.2 701.5L250.2 702.3L253.1 704.5L254.8 706.5L258.4 712.5L235.9 712.5L236.9 706.5L237.8 704.5Z"/>
<path fill="#c6ff00" fill-rule="evenodd" d="M44.2 472.5L146.7 472.5L142.9 510.5L140.4 538.5L139.3 556.5L138 586.5L138.2 612.5L138.9 624.5L140.2 632.5L144 648.5L148.6 660.5L153.3 670.5L156.2 674.7L161.7 680.5L169.1 686.5L176.2 691.2L182.2 694.6L210.2 708.6L213 710.5L214.7 712.5L44.2 712.5ZM228.4 472.5L294.2 472.5L294.2 540.4L274.7 522.5L258.2 506L247.7 494.5ZM243.7 702.5L246.2 702.3L248.2 702.6L251.5 704.5L254.2 707.8L256.8 712.5L237.3 712.5L238 708.5L238.6 706.5L240.2 704.3L242.2 703Z"/>
<path fill="#d2ff00" fill-rule="evenodd" d="M44.2 472.5L146.3 472.5L143.1 502.5L139.9 538.5L138.7 556.5L137.4 586.5L137.7 612.5L138.5 624.5L140.2 634.3L143.6 648.5L148.2 660.6L152.8 670.5L155.5 674.5L161.1 680.5L168.4 686.5L176.2 691.7L182.2 695L210.2 709L212.4 710.5L214.3 712.5L44.2 712.5ZM229.3 472.5L294.2 472.5L294.2 539.7L274.2 521L257.8 504.5ZM242.8 704.5L244.2 703.9L246.2 703.6L248.2 703.9L249.4 704.5L252.2 707.3L255.1 712.5L238.9 712.5L240.2 707.3L240.7 706.5Z"/>
<path fill="#dfff00" fill-rule="evenodd" d="M44.2 472.5L145.8 472.5L142.6 502.5L140.2 530.5L139.3 538.5L136.8 584.5L137.3 612.5L138.2 625.8L140.3 636.5L143.2 648.5L147.8 660.5L152.3 670.5L155 674.5L160.5 680.5L168.2 686.9L176.2 692.1L182.2 695.5L210.2 709.5L212.2 710.8L213.8 712.5L44.2 712.5ZM230.2 472.5L294.2 472.5L294.2 539L274.7 520.5L258.2 503.9ZM243.4 706.5L246.2 705.3L248.2 705.7L250.2 707.4L252.2 710.5L253.1 712.5L240.8 712.5L241.9 708.5Z"/>
<path fill="#ecff00" fill-rule="evenodd" d="M44.2 472.5L145.3 472.5L142.1 502.5L139.6 530.5L138.8 536.5L136.2 584.5L136.9 614.5L137.9 626.5L140.2 638.1L142.8 648.5L147.4 660.5L152.2 671.1L154.5 674.5L160.2 680.8L168.2 687.4L176.2 692.6L182.2 696L210.2 709.9L212.2 711.3L213.3 712.5L44.2 712.5ZM231.2 472.5L294.2 472.5L294.2 538.3L268.2 513.1L258.2 502.9ZM245.9 708.5L246.2 708.3L248.2 708.9L250.5 712.5L243.5 712.5L244.2 710.2Z"/>
<path fill="#f9ff00" fill-rule="evenodd" d="M44.2 472.5L144.9 472.5L141.5 502.5L139 530.5L138.2 536.5L137.7 548.5L136.8 558.5L136 578.5L135.4 584.5L136.4 614.5L137.5 626.5L139.9 638.5L142.4 648.5L147 660.5L152.2 671.9L154.2 674.8L160.2 681.4L169.1 688.5L178.2 694.3L210.2 710.3L212.9 712.5L44.2 712.5ZM232.1 472.5L294.2 472.5L294.2 537.4L268.2 512.1L258.2 501.8Z"/>
<path fill="#fff900" fill-rule="evenodd" d="M44.2 472.5L144.4 472.5L141.2 500.5L138.4 530.5L137.5 536.5L137.2 548.5L136.2 558.5L134.7 584.5L135.9 614.5L137.1 626.5L139.6 638.5L142.2 649.2L146.6 660.5L152.1 672.5L156.2 677.8L160.8 682.5L168.4 688.5L177.8 694.5L209.7 710.5L212.4 712.5L44.2 712.5ZM233 472.5L294.2 472.5L294.2 536.6L268.2 511.1L258.2 500.8Z"/>
<path fill="#ffec00" fill-rule="evenodd" d="M44.2 472.5L143.9 472.5L140.7 500.5L137.9 528.5L136.7 536.5L136.6 548.5L135.4 560.5L133.9 584.5L135.5 614.5L136.7 626.5L139.2 638.5L142.2 650.5L146.2 660.6L151.7 672.5L154.6 676.5L160.2 682.5L168.2 688.8L177 694.5L208.8 710.5L211.8 712.5L44.2 712.5ZM234 472.5L294.2 472.5L294.2 535.7L268.2 510L259 500.5Z"/>
<path fill="#ffdf00" fill-rule="evenodd" d="M44.2 472.5L143.3 472.5L142.4 482.5L140.1 500.5L138.2 520.3L136 536.5L136 548.5L134.7 560.5L133.1 584.5L133.9 592.5L135.1 614.5L136.3 626.5L138.8 638.5L141.8 650.5L146.2 661.5L151.3 672.5L154.2 676.6L160.2 683L169.9 690.5L178.2 695.7L208 710.5L211.1 712.5L44.2 712.5ZM234.9 472.5L294.2 472.5L294.2 534.8L260 500.5Z"/>
<path fill="#ffd200" fill-rule="evenodd" d="M44.2 472.5L142.8 472.5L142.1 480.5L139.5 500.5L137.8 518.5L135.3 534.5L135.4 548.5L133.8 562.5L132.2 584.5L133.2 592.5L134.7 614.5L135.9 626.5L138.4 638.5L141.5 650.5L146.2 662.4L151 672.5L154.2 677.2L160.2 683.5L169.2 690.5L178.2 696.1L207 710.5L210.5 712.5L44.2 712.5ZM235.8 472.5L294.2 472.5L294.2 533.8L261.1 500.5Z"/>
<path fill="#ffc600" fill-rule="evenodd" d="M44.2 472.5L142.2 472.5L141.5 480.5L138.9 500.5L137.2 518.5L134.4 534.5L134.8 548.5L132.9 562.5L131.2 582.5L131.5 586.5L132.5 592.5L134.2 614.5L135.6 626.5L138.1 638.5L141.2 650.5L145.9 662.5L150.6 672.5L154.2 677.7L160.2 684L168.5 690.5L178.1 696.5L209.7 712.5L44.2 712.5ZM236.8 472.5L294.2 472.5L294.2 532.8L284.3 522.5L262.1 500.5Z"/>
<path fill="#ffb900" fill-rule="evenodd" d="M44.2 472.5L141.6 472.5L141 480.5L138.3 500.5L136.6 518.5L135.5 524.5L133.2 534.5L134.2 548.5L131.2 568.5L130.2 582.5L130.2 584.5L132 594.5L135.2 626.5L137.7 638.5L140.3 648.5L141.5 652.5L144.7 660.5L150.2 672.5L154.2 678.3L158.2 682.7L168.2 690.7L176.2 695.9L208.8 712.5L44.2 712.5ZM237.7 472.5L294.2 472.5L294.2 531.7L285.4 522.5L271 508.5L262.2 499.5Z"/>
<path fill="#ffac00" fill-rule="evenodd" d="M44.2 472.5L141 472.5L140.4 480.5L137.6 500.5L135.9 518.5L134.7 524.5L132.7 530.5L131.9 534.5L133.4 544.5L133.6 548.5L133.2 552.5L130.9 562.5L129.9 568.5L129.1 582.5L129.2 584.5L131.3 594.5L134.8 626.5L136.9 636.5L139.9 648.5L141.2 652.5L144.3 660.5L149.9 672.5L153.9 678.5L158.2 683.2L168.2 691.2L176.2 696.3L207.9 712.5L44.2 712.5ZM238.7 472.5L294.2 472.5L294.2 530.7L286.2 522.2L272.1 508.5L262.3 498.5Z"/>
<path fill="#ff9f00" fill-rule="evenodd" d="M44.2 472.5L140.3 472.5L140 478.5L137.1 498.5L135.3 518.5L133.9 524.5L130.3 532.5L130.2 534.5L132.2 542.5L132.9 548.5L132.2 554L128.7 566.5L128.3 570.5L128 580.5L128.1 584.5L130.7 594.5L134.8 628.5L139.6 648.5L140.8 652.5L144 660.5L149.5 672.5L152.2 676.9L158.2 683.7L168.2 691.6L176.2 696.8L206.9 712.5L44.2 712.5ZM102.2 530.1L100.2 530.7L99.1 532.5L98.8 534.5L99.3 536.5L100.2 538L102.2 539.5L104.2 540L106.2 539.4L107.1 538.5L108 536.5L107.8 534.5L106.2 532.1L104.2 530.6ZM239.6 472.5L294.2 472.5L294.2 529.5L286.2 521L272.2 507.5L263.4 498.5Z"/>
<path fill="#ff9300" fill-rule="evenodd" d="M44.2 472.5L139.6 472.5L139.3 478.5L136.4 498.5L135.1 514.5L134.2 520.5L132.2 526.2L130.2 529L128.5 530.5L127.1 532.5L127.6 534.5L130.2 539.5L131.2 542.5L132.1 546.5L132.2 548.5L132.1 550.5L131.2 554.5L127.3 564.5L126.8 566.5L126.5 570.5L127.1 584.5L129 590.5L130.2 595.8L134.4 628.5L139.3 648.5L140.5 652.5L143.6 660.5L149.2 672.5L152.2 677.5L158.2 684.2L168.2 692.1L176.2 697.2L205.9 712.5L44.2 712.5ZM98.2 527.8L96.8 530.5L96.5 532.5L97.1 536.5L98.2 538.8L100.2 541.1L102.2 542.6L104.2 543.5L106.2 543.7L108.2 542.9L110.4 540.5L111.4 538.5L111.9 536.5L111.7 534.5L110.7 532.5L108.2 530L104.2 527.4L102.2 526.7L100.2 526.7ZM240.5 472.5L294.2 472.5L294.2 528.3L286.8 520.5L274.2 508.3L264.2 498.2Z"/>
<path fill="#ff8600" fill-rule="evenodd" d="M44.2 472.5L138.8 472.5L138.4 480.5L135.6 498.5L134.4 514.5L133.4 520.5L132.2 524L130.2 527L128.2 528.5L123.5 530.5L121.8 532.5L122.4 534.5L126.2 536.9L128.2 539L130.2 542.5L131.3 546.5L131.4 550.5L130.4 554.5L128.2 559.1L124.5 564.5L124.1 566.5L124.2 568.5L126.2 584.5L128.8 592.5L130 598.5L134.1 628.5L138.4 646.5L141.7 656.5L147.8 670.5L151.1 676.5L156.2 682.8L160.2 686.5L166.2 691.1L174.2 696.5L180.2 699.9L204.9 712.5L44.2 712.5ZM98.2 523.7L96.2 525.4L95.6 526.5L94.6 530.5L94.9 534.5L96.2 538.4L98.2 541.6L102.2 545.4L106.2 547.5L108.2 547.7L110.2 546.5L112.2 543.5L116.2 536.5L116.8 534.5L115.3 532.5L106.2 525.8L102.2 523.8L100.2 523.4ZM114.2 558.1L113.9 558.5L114.1 560.5L116.2 561.1L116.8 560.5L116.2 559.1ZM241.5 472.5L294.2 472.5L294.2 527.1L288 520.5L265.6 498.5Z"/>
<path fill="#ff7900" fill-rule="evenodd" d="M44.2 472.5L138 472.5L138 478.5L134.8 498.5L133.5 516.5L132.2 521.8L130.2 525.3L128.2 526.9L126.2 527.8L120.2 529.8L118.2 530L116.2 529.6L114.2 528.7L106.2 523.3L102.2 521L100.2 520.3L98.2 520.1L96.2 520.8L94.6 522.5L93.7 524.5L92.8 528.5L92.8 530.5L93.4 534.5L94.7 538.5L96.2 541.3L100.2 546.3L107.1 552.5L108.5 554.5L110.1 558.5L112.2 561.9L114.2 563.8L118.2 566L120.2 567.5L122.2 571.1L123.2 574.5L125.2 584.5L128 592.5L129 596.5L133.7 628.5L137.5 644.5L139.8 652.5L142.1 658.5L145.5 666.5L150.2 675.6L153.7 680.5L157.4 684.5L168.2 693L178.2 699.2L203.9 712.5L44.2 712.5ZM242.4 472.5L294.2 472.5L294.2 525.8L287.3 518.5L276.2 508L266.2 498ZM121 538.5L122.2 538.3L124.2 538.6L126.2 539.6L128.2 541.5L129.8 544.5L130.4 546.5L130.6 550.5L130.2 552.7L129.4 554.5L128.2 556.7L126.2 558.9L124.2 560.1L122.2 560.1L120.2 558.8L115.9 554.5L114.4 552.5L113.5 550.5L113.5 548.5L114 546.5L115.9 542.5L118.2 539.8L120.2 538.6Z"/>
<path fill="#ff6c00" fill-rule="evenodd" d="M44.2 472.5L137.2 472.5L137.2 478.5L133.9 498.5L132.7 516.5L131.8 520.5L130.2 523.6L128.2 525.5L126.2 526.5L122.2 527.6L118.2 527.9L116.2 527.4L112.2 525.4L102.2 518.1L100.2 517.2L98.2 516.7L96.2 516.9L93.9 518.5L92.7 520.5L91.9 522.5L91.1 528.5L92 534.5L94.2 540.4L96.7 544.5L105.4 554.5L110.5 562.5L112.2 564.4L117.3 568.5L119.2 570.5L121.4 574.5L124.2 584.5L127.2 592.5L128.2 596L130.4 608.5L133.3 628.5L137.7 646.5L140.2 654.5L143.4 662.5L150.2 676.3L153.2 680.5L156.9 684.5L160.2 687.4L168.2 693.5L178.2 699.7L202.8 712.5L44.2 712.5ZM243.4 472.5L294.2 472.5L294.2 524.5L288.5 518.5L276.2 506.9L267.7 498.5ZM119.2 542.5L120.2 541.7L122.2 540.9L124.2 541L126.2 541.8L128.6 544.5L129.9 548.5L129.8 550.5L128.2 554.7L126.2 556.7L124.2 557.4L122.2 557.1L120.2 555.7L117.4 552.5L116.6 550.5L116.4 548.5L116.7 546.5L117.5 544.5Z"/>
<path fill="#ff6000" fill-rule="evenodd" d="M44.2 472.5L136.3 472.5L136.4 478.5L133.8 492.5L132.9 498.5L131.9 516.5L130.9 520.5L129.8 522.5L127.7 524.5L124.2 525.9L120.2 526.4L116.2 525.6L114.2 524.7L111 522.5L102.2 515L100.2 513.8L98.2 513L96.2 513L94.2 513.8L92.2 515.9L90.3 520.5L89.6 524.5L89.5 528.5L90.6 534.5L93 540.5L96.2 546.2L103.1 554.5L110.2 564.4L116.6 570.5L118.2 572.4L120.4 576.5L123.2 584.5L126.4 592.5L127.6 596.5L130.2 609.9L133.4 630.5L137.4 646.5L139.9 654.5L143 662.5L145.8 668.5L150.2 676.9L152.8 680.5L156.3 684.5L160.2 687.9L168.2 694L178.2 700.1L201.8 712.5L44.2 712.5ZM244.3 472.5L294.2 472.5L294.2 523.1L289.8 518.5L278.2 507.7L268.2 497.8ZM120.6 544.5L122.2 543.5L124.2 543.2L126.2 544L128.2 546.3L128.9 548.5L128.9 550.5L128.2 552.5L126.2 554.7L124.2 555.3L122.2 554.7L119.9 552.5L119 550.5L118.7 548.5L119.2 546.5Z"/>
<path fill="#ff5300" fill-rule="evenodd" d="M44.2 472.5L135.4 472.5L135.7 474.5L135.6 478.5L133.1 490.5L131.9 498.5L131 516.5L130.2 519.8L128.5 522.5L126.2 524.2L122.2 525.1L118.2 524.7L116.2 524L113.7 522.5L111.2 520.5L102.2 511.3L100.2 509.7L98.2 508.6L96.2 508.2L94.2 508.8L92.2 510.4L90.2 513.8L89.3 516.5L88.4 520.5L88 524.5L88.1 528.5L88.8 532.5L90 536.5L92.2 541.6L96.2 548.5L102.7 556.5L108.6 564.5L116.2 572.5L118.2 575.4L120.2 579.5L125.6 592.5L126.9 596.5L130.2 612.6L133 630.5L137.6 648.5L140.2 656.4L143.6 664.5L150.2 677.5L152.3 680.5L156.2 684.9L160.2 688.4L168.2 694.4L176.2 699.5L200.8 712.5L44.2 712.5ZM245.3 472.5L294.2 472.5L294.2 521.7L290.2 517.6L278.2 506.6L268.2 496.7ZM122.1 546.5L124.2 545.6L126.4 546.5L127.5 548.5L127.6 550.5L126.2 552.7L124.2 553.1L122.2 551.8L121.4 550.5L121.2 548.5Z"/>
<path fill="#ff4600" fill-rule="evenodd" d="M44.2 472.5L134.4 472.5L134.8 474.5L134.7 478.5L131.9 490.5L130.9 496.5L130.2 516.2L129.7 518.5L128.2 521.3L126.2 523L124.2 523.7L122.2 523.9L118.2 523.2L116.2 522.3L113.6 520.5L109.7 516.5L100.2 503.8L98.2 502.1L96.2 501.6L94.2 502.2L92.2 503.9L90.2 506.8L88.2 511.9L87.2 516.5L86.6 522.5L86.7 528.5L87.5 532.5L90.2 539.8L94.2 547.8L96.2 550.7L107 564.5L115.8 574.5L118.3 578.5L124.2 591L126.2 596.4L127.7 602.5L130.1 614.5L132.6 630.5L136.7 646.5L139.9 656.5L143.2 664.5L150.2 678.1L153.5 682.5L156.2 685.4L159.8 688.5L168.2 694.9L176.2 699.9L199.8 712.5L44.2 712.5ZM246.2 472.5L294.2 472.5L294.2 520.4L270.2 497.6Z"/>
<path fill="#ff3900" fill-rule="evenodd" d="M44.2 472.5L133.4 472.5L133.9 474.5L133.8 478.5L130.9 488.5L129.7 494.5L129.2 500.5L129.3 514.5L128.6 518.5L127.5 520.5L126.2 521.8L124.2 522.6L120.6 522.5L118.2 521.7L116.2 520.5L113.8 518.5L110.6 514.5L108.1 510.5L105.3 504.5L102.2 496.2L100.2 492.4L98.2 490.6L96.2 490.9L94.2 492.7L92.2 495.4L90.2 498.8L88.2 503.3L86.6 508.5L85.7 514.5L85.1 522.5L85.4 528.5L86.3 532.5L90.2 542.4L94.2 550.1L105.5 564.5L112.5 572.5L115.6 576.5L118.2 580.9L124 592.5L126.1 598.5L127.6 604.5L129.6 614.5L132.7 632.5L136.3 646.5L139.5 656.5L142.8 664.5L150 678.5L153 682.5L156.2 685.9L168.2 695.4L176.2 700.4L198.8 712.5L44.2 712.5ZM247.2 472.5L294.2 472.5L294.2 519L280.2 506.2L270.2 496.5Z"/>
<path fill="#ff2d00" fill-rule="evenodd" d="M44.2 472.5L97.2 472.5L96.2 473.2L94.2 475.8L92.2 480.5L89.5 490.5L86.2 500.6L84.8 506.5L84 514.5L83.9 526.5L84.5 530.5L86.5 536.5L90.2 545L93 550.5L95.9 554.5L114 576.5L118.2 583.1L123.2 592.5L125.4 598.5L127 604.5L129.2 614.5L132.3 632.5L136 646.5L139.2 656.5L140.8 660.5L144.3 668.5L149.6 678.5L152.5 682.5L156.2 686.5L168.2 695.8L176.2 700.9L197.8 712.5L44.2 712.5ZM104.4 472.5L132.4 472.5L132.9 474.5L132.8 478.5L129.1 488.5L127.6 496.5L127.6 500.5L128.3 512.5L128 516.5L127.3 518.5L126.2 520.4L124.2 521.3L122.2 521.4L120.2 520.9L116.3 518.5L113 514.5L110 508.5L108.8 504.5L107.8 498.5L107.4 492.5L107.3 482.5L106.2 477ZM248.2 472.5L294.2 472.5L294.2 517.6L282.2 506.9L272.2 497.4Z"/>
<path fill="#ff2000" fill-rule="evenodd" d="M44.2 472.5L90.1 472.5L88.5 478.5L86.8 488.5L83.9 500.5L82.8 506.5L82.5 512.5L82.6 524.5L82.9 528.5L83.8 532.5L89.7 546.5L92.2 551.4L94.4 554.5L112.5 576.5L118.2 585.1L122.4 592.5L125.3 600.5L128.2 611.8L131.5 630.5L135 644.5L138.8 656.5L143 666.5L150.2 680.1L154.2 685L157.9 688.5L166.2 694.9L172.2 698.9L196.8 712.5L44.2 712.5ZM109.4 472.5L131.3 472.5L132 474.5L132.1 476.5L131.8 478.5L130.2 482L127.5 486.5L125.3 492.5L125 494.5L125 498.5L126.5 508.5L126.8 514.5L126.2 517.6L125.7 518.5L124.2 519.8L122.2 519.8L120.2 519.1L118.2 517.7L115.5 514.5L113.6 510.5L112.6 506.5L112.2 502.5L113.3 486.5L112.9 484.5L110.9 480.5L109.4 476.5L109.2 474.5ZM249.2 472.5L294.2 472.5L294.2 516.2L282.2 505.8L272.2 496.3Z"/>
<path fill="#ff1300" fill-rule="evenodd" d="M44.2 472.5L86.6 472.5L85.8 476.5L84.6 486.5L81.1 506.5L81.4 524.5L81.8 528.5L82.7 532.5L89.4 548.5L91.5 552.5L94.2 556.2L111.1 576.5L118.2 586.9L122.2 593.9L124.6 600.5L127.9 612.5L131.5 632.5L134.6 644.5L138.5 656.5L142.6 666.5L148.2 677.4L150.1 680.5L153.2 684.5L157.3 688.5L166.2 695.4L172.2 699.4L195.8 712.5L44.2 712.5ZM111.6 472.5L130.3 472.5L131.1 474.5L131.2 476.5L130.7 478.5L128.2 482.3L126.2 484.1L124.2 485.5L122.2 486.1L120.2 485.9L116.2 483.4L113.4 480.5L112.1 478.5L111.3 476.5L111.1 474.5ZM250.2 472.5L294.2 472.5L294.2 514.9L284.2 506.5L278.2 501L269.5 492.5ZM117.7 502.5L118.2 501.7L120.2 501.2L122.2 503.3L124.1 508.5L124.5 510.5L124.6 514.5L124.2 516.5L122.2 517.2L120.6 516.5L118.7 514.5L117.6 512.5L116.6 508.5L116.5 506.5L116.9 504.5Z"/>
<path fill="#ff0600" fill-rule="evenodd" d="M44.2 472.5L84.1 472.5L82.5 486.5L79.6 506.5L80.2 524.5L80.6 528.5L81.5 532.5L88.2 548.5L90.2 552.6L92.9 556.5L98.2 562.5L109.7 576.5L118.2 588.5L121.6 594.5L124.2 601.2L127.3 612.5L131.1 632.5L134.9 646.5L138.8 658.5L143.2 668.5L149.6 680.5L152.7 684.5L156.7 688.5L166.2 695.9L172.2 699.9L194.8 712.5L44.2 712.5ZM113.1 472.5L129.3 472.5L130.1 474.5L130.2 476.5L129.6 478.5L128.2 480.4L126.2 482L124.2 482.9L122.2 483.2L120.2 483L116.2 481.2L113.6 478.5L112.7 476.5L112.5 474.5ZM251.2 472.5L294.2 472.5L294.2 513.7L284.2 505.4L274.2 496Z"/>
<path fill="#ffffff" fill-rule="evenodd" d="M44.2 472.5L82 472.5L80.7 486.5L78.2 506.5L79.3 526.5L80.4 532.5L87.8 550.5L90 554.5L108.3 576.5L118.2 590.1L121.7 596.5L124.2 603.3L126.8 612.5L130.7 632.5L133.9 644.5L138.5 658.5L142.8 668.5L149.2 680.5L152.2 684.5L156.2 688.6L166.2 696.4L170.2 699.1L176.2 702.8L193.9 712.5L44.2 712.5ZM113.7 474.5L114.4 472.5L128.4 472.5L129.3 474.5L129.3 476.5L128.2 478.8L126.2 480.6L124.2 481.6L122.2 481.8L120.2 481.7L118.2 481L116.2 479.7L115 478.5L113.9 476.5ZM252.3 472.5L294.2 472.5L294.2 512.5L284.2 504.3L274.2 494.9Z"/>
</g>
<rect x="47.2" y="475.5" width="242.8" height="232.8" fill="none" stroke="#000" stroke-width="1.4"/>
<line x1="93.8" y1="708.3" x2="93.8" y2="713.3" stroke="#000" stroke-width="1.4"/>
<text x="93.8" y="726.9" font-size="12.3" class="b" text-anchor="middle">6</text>
<line x1="143.3" y1="708.3" x2="143.3" y2="713.3" stroke="#000" stroke-width="1.4"/>
<text x="143.3" y="726.9" font-size="12.3" class="b" text-anchor="middle">7</text>
<line x1="192.8" y1="708.3" x2="192.8" y2="713.3" stroke="#000" stroke-width="1.4"/>
<text x="192.8" y="726.9" font-size="12.3" class="b" text-anchor="middle">8</text>
<line x1="242.3" y1="708.3" x2="242.3" y2="713.3" stroke="#000" stroke-width="1.4"/>
<text x="242.3" y="726.9" font-size="12.3" class="b" text-anchor="middle">9</text>
<line x1="69.0" y1="708.3" x2="69.0" y2="711.3" stroke="#000" stroke-width="1.4"/>
<line x1="118.5" y1="708.3" x2="118.5" y2="711.3" stroke="#000" stroke-width="1.4"/>
<line x1="168.0" y1="708.3" x2="168.0" y2="711.3" stroke="#000" stroke-width="1.4"/>
<line x1="217.5" y1="708.3" x2="217.5" y2="711.3" stroke="#000" stroke-width="1.4"/>
<line x1="267.0" y1="708.3" x2="267.0" y2="711.3" stroke="#000" stroke-width="1.4"/>
<line x1="42.2" y1="520.8" x2="47.2" y2="520.8" stroke="#000" stroke-width="1.4"/>
<text x="38.7" y="525.2" font-size="12.3" class="b" text-anchor="end">9</text>
<line x1="42.2" y1="568.2" x2="47.2" y2="568.2" stroke="#000" stroke-width="1.4"/>
<text x="38.7" y="572.6" font-size="12.3" class="b" text-anchor="end">8</text>
<line x1="42.2" y1="615.5" x2="47.2" y2="615.5" stroke="#000" stroke-width="1.4"/>
<text x="38.7" y="619.9" font-size="12.3" class="b" text-anchor="end">7</text>
<line x1="42.2" y1="662.9" x2="47.2" y2="662.9" stroke="#000" stroke-width="1.4"/>
<text x="38.7" y="667.3" font-size="12.3" class="b" text-anchor="end">6</text>
<line x1="44.2" y1="497.1" x2="47.2" y2="497.1" stroke="#000" stroke-width="1.4"/>
<line x1="44.2" y1="544.5" x2="47.2" y2="544.5" stroke="#000" stroke-width="1.4"/>
<line x1="44.2" y1="591.8" x2="47.2" y2="591.8" stroke="#000" stroke-width="1.4"/>
<line x1="44.2" y1="639.2" x2="47.2" y2="639.2" stroke="#000" stroke-width="1.4"/>
<line x1="44.2" y1="686.6" x2="47.2" y2="686.6" stroke="#000" stroke-width="1.4"/>
<linearGradient id="gcb2" x1="0" y1="1" x2="0" y2="0"><stop offset="0.00" stop-color="#0000ff"/><stop offset="0.05" stop-color="#0033ff"/><stop offset="0.10" stop-color="#0066ff"/><stop offset="0.15" stop-color="#0099ff"/><stop offset="0.20" stop-color="#00ccff"/><stop offset="0.25" stop-color="#00ffff"/><stop offset="0.30" stop-color="#00ffcc"/><stop offset="0.35" stop-color="#00ff99"/><stop offset="0.40" stop-color="#00ff66"/><stop offset="0.45" stop-color="#00ff33"/><stop offset="0.50" stop-color="#00ff00"/><stop offset="0.55" stop-color="#33ff00"/><stop offset="0.60" stop-color="#66ff00"/><stop offset="0.65" stop-color="#99ff00"/><stop offset="0.70" stop-color="#ccff00"/><stop offset="0.75" stop-color="#ffff00"/><stop offset="0.80" stop-color="#ffcc00"/><stop offset="0.85" stop-color="#ff9900"/><stop offset="0.90" stop-color="#ff6600"/><stop offset="0.95" stop-color="#ff3300"/><stop offset="1.00" stop-color="#ff0000"/></linearGradient><rect x="297.4" y="475.5" width="18.0" height="232.8" fill="url(#gcb2)"/>
<line x1="315.4" y1="708.3" x2="320.9" y2="708.3" stroke="#000" stroke-width="1.4"/>
<text x="322.4" y="712.9" font-size="12.8" class="b">0</text>
<line x1="315.4" y1="661.7" x2="320.9" y2="661.7" stroke="#000" stroke-width="1.4"/>
<text x="322.4" y="666.3" font-size="12.8" class="b">1</text>
<line x1="315.4" y1="615.2" x2="320.9" y2="615.2" stroke="#000" stroke-width="1.4"/>
<text x="322.4" y="619.8" font-size="12.8" class="b">2</text>
<line x1="315.4" y1="568.6" x2="320.9" y2="568.6" stroke="#000" stroke-width="1.4"/>
<text x="322.4" y="573.2" font-size="12.8" class="b">3</text>
<line x1="315.4" y1="522.1" x2="320.9" y2="522.1" stroke="#000" stroke-width="1.4"/>
<text x="322.4" y="526.7" font-size="12.8" class="b">4</text>
<line x1="315.4" y1="475.5" x2="320.9" y2="475.5" stroke="#000" stroke-width="1.4"/>
<text x="322.4" y="480.1" font-size="12.8" class="b">5</text>
<text x="234.0" y="468.8" font-size="12.8" class="b">&#916;<tspan class="i">G</tspan> (kcal/mol)</text>
<text x="166.0" y="468.0" font-size="14.5" text-anchor="middle">P268A</text>
<text x="66.3" y="491.5" font-size="14.3">III</text>
<text x="215.5" y="492.0" font-size="14.3">II</text>
<text x="272.3" y="658.5" font-size="14.3">I</text>
<text x="170.0" y="745.3" font-size="15" text-anchor="middle"><tspan class="i b">d</tspan><tspan class="b" font-size="10" dy="2">1</tspan><tspan class="b" dy="-2"> (&#197;)</tspan></text>
<text transform="translate(19.5 586.7) rotate(-90)" font-size="16.3" text-anchor="middle"><tspan class="i" font-size="17">&#958;</tspan><tspan class="b" font-size="10.5" dy="2.5">1</tspan><tspan class="b" dy="-2.5" letter-spacing="0.6">(&#197;)</tspan></text>
<clipPath id="ce"><rect x="432.8" y="458.5" width="201.2" height="137.3"/></clipPath>
<g clip-path="url(#ce)">
<rect x="432" y="458" width="203" height="138" fill="#fcfefc"/>
<g filter="url(#bl3)" opacity="0.8"><path d="M500 470 L540 462 L552 478 L520 540 L498 530 L510 495 Z" fill="#e8e9fa"/><path d="M520 560 L548 500 L575 470 L600 466 L590 500 L560 545 L540 596 L515 596 Z" fill="#e6e7f9"/><path d="M585 480 L634 470 L634 520 L600 530 Z" fill="#e9eafa"/><path d="M455 480 L495 470 L490 520 L460 540 Z" fill="#eef0fb"/><path d="M552 575 L585 530 L634 498 L634 596 L548 596 Z" fill="#d3f1ce"/><path d="M575 575 L600 548 L634 530 L634 560 L600 590 Z" fill="#c6ecc2"/><path d="M440 458 L560 458 L540 472 L450 476 Z" fill="#e6f6f6"/></g>
<g fill="none" stroke-linecap="round" filter="url(#bl2)"><path d="M446 523 C443 545 450 560 466 561 C470 575 466 588 465 596" stroke="#d2f2ce" stroke-width="4"/><path d="M466 498 C470 480 500 478 510 490 C520 500 518 515 508 520 C498 524 486 514 490 505" stroke="#d2f2ce" stroke-width="3.5"/><path d="M470 510 C485 500 505 505 512 520 C520 540 505 560 492 580 L488 596" stroke="#d2f2ce" stroke-width="3.5"/><path d="M505 480 C520 500 545 512 560 508 C580 504 590 490 600 470" stroke="#d2f2ce" stroke-width="3.5"/><path d="M540 458 C548 470 560 480 562 495" stroke="#ccf0dc" stroke-width="3.5"/><path d="M545 540 C570 552 590 540 600 525 C610 510 622 500 634 488" stroke="#cdeed0" stroke-width="3.5"/><path d="M440 470 C470 478 500 466 520 460" stroke="#d6f0f2" stroke-width="3"/><path d="M462 585 L462 596 L474 596 L473 583 Z" stroke="#d2f2ce" fill="#d2f2ce" stroke-width="3"/><path d="M622 560 C626 575 628 585 628 596" stroke="#c6ecc2" stroke-width="3"/></g>
<g fill="none"><circle cx="446.5" cy="521.0" r="2.0" fill="#1820a0"/><circle cx="450.0" cy="509.5" r="2.0" fill="#bc18a2"/><path d="M450.0 509.5 L448.2 515.2" stroke="#bc18a2" stroke-width="4.0"/><path d="M448.2 515.2 L446.5 521.0" stroke="#1820a0" stroke-width="4.0"/><circle cx="446.5" cy="521.0" r="1.6" fill="#2434d8"/><circle cx="450.0" cy="509.5" r="1.6" fill="#e424c6"/><path d="M450.0 509.5 L448.2 515.2" stroke="#e424c6" stroke-width="3.2"/><path d="M448.2 515.2 L446.5 521.0" stroke="#2434d8" stroke-width="3.2"/></g>
<g fill="none"><circle cx="463.0" cy="505.0" r="2.2" fill="#bc18a2"/><circle cx="454.5" cy="514.0" r="2.2" fill="#c43030"/><circle cx="450.0" cy="509.5" r="2.2" fill="#bc18a2"/><circle cx="436.0" cy="508.5" r="2.2" fill="#c43030"/><circle cx="467.5" cy="494.0" r="2.2" fill="#c43030"/><path d="M467.5 494.0 L465.2 499.5" stroke="#c43030" stroke-width="4.4"/><path d="M465.2 499.5 L463.0 505.0" stroke="#bc18a2" stroke-width="4.4"/><path d="M463.0 505.0 L456.5 507.2" stroke="#bc18a2" stroke-width="4.4"/><path d="M456.5 507.2 L450.0 509.5" stroke="#bc18a2" stroke-width="4.4"/><path d="M450.0 509.5 L443.0 509.0" stroke="#bc18a2" stroke-width="4.4"/><path d="M443.0 509.0 L436.0 508.5" stroke="#c43030" stroke-width="4.4"/><path d="M450.0 509.5 L452.2 511.8" stroke="#bc18a2" stroke-width="4.4"/><path d="M452.2 511.8 L454.5 514.0" stroke="#c43030" stroke-width="4.4"/><circle cx="463.0" cy="505.0" r="1.8" fill="#e424c6"/><circle cx="454.5" cy="514.0" r="1.8" fill="#ea4040"/><circle cx="450.0" cy="509.5" r="1.8" fill="#e424c6"/><circle cx="436.0" cy="508.5" r="1.8" fill="#ea4040"/><circle cx="467.5" cy="494.0" r="1.8" fill="#ea4040"/><path d="M467.5 494.0 L465.2 499.5" stroke="#ea4040" stroke-width="3.5"/><path d="M465.2 499.5 L463.0 505.0" stroke="#e424c6" stroke-width="3.5"/><path d="M463.0 505.0 L456.5 507.2" stroke="#e424c6" stroke-width="3.5"/><path d="M456.5 507.2 L450.0 509.5" stroke="#e424c6" stroke-width="3.5"/><path d="M450.0 509.5 L443.0 509.0" stroke="#e424c6" stroke-width="3.5"/><path d="M443.0 509.0 L436.0 508.5" stroke="#ea4040" stroke-width="3.5"/><path d="M450.0 509.5 L452.2 511.8" stroke="#e424c6" stroke-width="3.5"/><path d="M452.2 511.8 L454.5 514.0" stroke="#ea4040" stroke-width="3.5"/></g>
<g fill="none"><circle cx="628.0" cy="533.0" r="1.8" fill="#1820a0"/><circle cx="621.5" cy="534.5" r="1.8" fill="#c2bb20"/><path d="M621.5 534.5 L624.8 533.8" stroke="#c2bb20" stroke-width="3.6"/><path d="M624.8 533.8 L628.0 533.0" stroke="#1820a0" stroke-width="3.6"/><circle cx="628.0" cy="533.0" r="1.4" fill="#2434d8"/><circle cx="621.5" cy="534.5" r="1.4" fill="#e6de28"/><path d="M621.5 534.5 L624.8 533.8" stroke="#e6de28" stroke-width="2.9"/><path d="M624.8 533.8 L628.0 533.0" stroke="#2434d8" stroke-width="2.9"/></g>
<g fill="none"><circle cx="606.0" cy="523.5" r="2.2" fill="#c2bb20"/><circle cx="611.0" cy="555.0" r="2.2" fill="#c43030"/><circle cx="614.5" cy="518.5" r="2.2" fill="#c43030"/><circle cx="617.0" cy="548.0" r="2.2" fill="#c2bb20"/><circle cx="592.5" cy="518.0" r="2.2" fill="#c43030"/><circle cx="621.5" cy="534.5" r="2.2" fill="#c2bb20"/><path d="M592.5 518.0 L599.2 520.8" stroke="#c43030" stroke-width="4.4"/><path d="M599.2 520.8 L606.0 523.5" stroke="#c2bb20" stroke-width="4.4"/><path d="M606.0 523.5 L610.2 521.0" stroke="#c2bb20" stroke-width="4.4"/><path d="M610.2 521.0 L614.5 518.5" stroke="#c43030" stroke-width="4.4"/><path d="M606.0 523.5 L613.8 529.0" stroke="#c2bb20" stroke-width="4.4"/><path d="M613.8 529.0 L621.5 534.5" stroke="#c2bb20" stroke-width="4.4"/><path d="M621.5 534.5 L619.2 541.2" stroke="#c2bb20" stroke-width="4.4"/><path d="M619.2 541.2 L617.0 548.0" stroke="#c2bb20" stroke-width="4.4"/><path d="M617.0 548.0 L614.0 551.5" stroke="#c2bb20" stroke-width="4.4"/><path d="M614.0 551.5 L611.0 555.0" stroke="#c43030" stroke-width="4.4"/><circle cx="606.0" cy="523.5" r="1.8" fill="#e6de28"/><circle cx="611.0" cy="555.0" r="1.8" fill="#ea4040"/><circle cx="614.5" cy="518.5" r="1.8" fill="#ea4040"/><circle cx="617.0" cy="548.0" r="1.8" fill="#e6de28"/><circle cx="592.5" cy="518.0" r="1.8" fill="#ea4040"/><circle cx="621.5" cy="534.5" r="1.8" fill="#e6de28"/><path d="M592.5 518.0 L599.2 520.8" stroke="#ea4040" stroke-width="3.5"/><path d="M599.2 520.8 L606.0 523.5" stroke="#e6de28" stroke-width="3.5"/><path d="M606.0 523.5 L610.2 521.0" stroke="#e6de28" stroke-width="3.5"/><path d="M610.2 521.0 L614.5 518.5" stroke="#ea4040" stroke-width="3.5"/><path d="M606.0 523.5 L613.8 529.0" stroke="#e6de28" stroke-width="3.5"/><path d="M613.8 529.0 L621.5 534.5" stroke="#e6de28" stroke-width="3.5"/><path d="M621.5 534.5 L619.2 541.2" stroke="#e6de28" stroke-width="3.5"/><path d="M619.2 541.2 L617.0 548.0" stroke="#e6de28" stroke-width="3.5"/><path d="M617.0 548.0 L614.0 551.5" stroke="#e6de28" stroke-width="3.5"/><path d="M614.0 551.5 L611.0 555.0" stroke="#ea4040" stroke-width="3.5"/></g>
<line x1="464" y1="507" x2="605" y2="524.5" stroke="#111" stroke-width="1.7" stroke-dasharray="3.2 2.4"/>
</g>
<text x="520.5" y="504.5" font-size="15.4"><tspan class="i">d</tspan><tspan class="b" font-size="10" dy="2">2</tspan><tspan dy="-2"> (&#197;)</tspan></text>
<text x="491.0" y="544.0" font-size="14.4">Substrate free</text>
<text x="432.0" y="545.5" font-size="12.5">D269</text>
<text x="600.0" y="577.5" font-size="12.5">D305</text>
<text x="366.3" y="489.6" font-size="21.5">e</text>
<line x1="411.1" y1="519.7" x2="411.1" y2="699.7" stroke="#000" stroke-width="1.5"/>
<line x1="410.4" y1="699.0" x2="680.6" y2="699.0" stroke="#000" stroke-width="1.5"/>
<line x1="404.1" y1="699.0" x2="411.1" y2="699.0" stroke="#000" stroke-width="1.4"/>
<text x="402.8" y="703.1" font-size="11.5" class="b" text-anchor="end" letter-spacing="0.9">0</text>
<line x1="404.1" y1="639.5" x2="411.1" y2="639.5" stroke="#000" stroke-width="1.4"/>
<text x="402.8" y="643.6" font-size="11.5" class="b" text-anchor="end" letter-spacing="0.9">5</text>
<line x1="404.1" y1="579.9" x2="411.1" y2="579.9" stroke="#000" stroke-width="1.4"/>
<text x="402.8" y="584.0" font-size="11.5" class="b" text-anchor="end" letter-spacing="0.9">10</text>
<line x1="404.1" y1="520.4" x2="411.1" y2="520.4" stroke="#000" stroke-width="1.4"/>
<text x="402.8" y="524.5" font-size="11.5" class="b" text-anchor="end" letter-spacing="0.9">15</text>
<line x1="411.1" y1="699.0" x2="411.1" y2="706.0" stroke="#000" stroke-width="1.4"/>
<text x="411.6" y="721.6" font-size="11.5" class="b" text-anchor="middle" letter-spacing="0.9">20</text>
<line x1="455.9" y1="699.0" x2="455.9" y2="706.0" stroke="#000" stroke-width="1.4"/>
<text x="456.4" y="721.6" font-size="11.5" class="b" text-anchor="middle" letter-spacing="0.9">18</text>
<line x1="500.7" y1="699.0" x2="500.7" y2="706.0" stroke="#000" stroke-width="1.4"/>
<text x="501.1" y="721.6" font-size="11.5" class="b" text-anchor="middle" letter-spacing="0.9">16</text>
<line x1="545.5" y1="699.0" x2="545.5" y2="706.0" stroke="#000" stroke-width="1.4"/>
<text x="546.0" y="721.6" font-size="11.5" class="b" text-anchor="middle" letter-spacing="0.9">14</text>
<line x1="590.3" y1="699.0" x2="590.3" y2="706.0" stroke="#000" stroke-width="1.4"/>
<text x="590.8" y="721.6" font-size="11.5" class="b" text-anchor="middle" letter-spacing="0.9">12</text>
<line x1="635.1" y1="699.0" x2="635.1" y2="706.0" stroke="#000" stroke-width="1.4"/>
<text x="635.6" y="721.6" font-size="11.5" class="b" text-anchor="middle" letter-spacing="0.9">10</text>
<line x1="679.9" y1="699.0" x2="679.9" y2="706.0" stroke="#000" stroke-width="1.4"/>
<text x="680.4" y="721.6" font-size="11.5" class="b" text-anchor="middle" letter-spacing="0.9">8</text>
<text x="545.0" y="744.8" font-size="15" text-anchor="middle"><tspan class="i b">d</tspan><tspan class="b" font-size="10" dy="2">2</tspan><tspan class="b" dy="-2"> (&#197;)</tspan></text>
<text transform="translate(376.3 610) rotate(-90)" font-size="13.2" letter-spacing="1.0" text-anchor="middle" class="b">&#916;<tspan class="i">G</tspan> (kcal/mol)</text>
<polyline fill="none" stroke="#4b9bfa" stroke-width="1.8" stroke-linejoin="round" points="411.1,689.0 413.4,689.6 415.6,690.2 417.9,690.8 420.1,691.4 422.4,691.9 424.7,692.4 426.9,692.8 429.2,693.2 431.4,693.6 433.7,694.0 435.9,694.4 438.2,694.7 440.5,695.1 442.7,695.4 445.0,695.7 447.2,696.0 449.5,696.3 451.8,696.6 454.0,696.9 456.3,697.1 458.5,697.4 460.8,697.7 463.1,697.9 465.3,698.2 467.6,698.4 469.8,698.6 472.1,698.7 474.3,698.8 476.6,698.9 478.9,698.9 481.1,698.8 483.4,698.7 485.6,698.6 487.9,698.4 490.2,698.2 492.4,697.9 494.7,697.6 496.9,697.2 499.2,696.9 501.5,696.5 503.7,696.1 506.0,695.6 508.2,695.2 510.5,694.7 512.7,694.3 515.0,693.8 517.3,693.3 519.5,692.8 521.8,692.4 524.0,691.9 526.3,691.4 528.6,691.0 530.8,690.6 533.1,690.2 535.3,689.8 537.6,689.4 539.9,689.1 542.1,688.8 544.4,688.6 546.6,688.4 548.9,688.3 551.1,688.2 553.4,688.2 555.7,688.1 557.9,688.1 560.2,688.2 562.4,688.2 564.7,688.2 567.0,688.3 569.2,688.3 571.5,688.3 573.7,688.4 576.0,688.4 578.3,688.4 580.5,688.4 582.8,688.4 585.0,688.3 587.3,688.3 589.5,688.3 591.8,688.3 594.1,688.2 596.3,688.2 598.6,688.1 600.8,688.0 603.1,687.8 605.4,687.7 607.6,687.5 609.9,687.2 612.1,686.9 614.4,686.6 616.7,686.2 618.9,685.8 621.2,685.3 623.4,684.8 625.7,684.3 627.9,683.6 630.2,682.9 632.5,682.2 634.7,681.3 637.0,680.3 639.2,679.2 641.5,678.1 643.8,676.8 646.0,675.4 648.3,673.9 650.5,672.3 652.8,670.6 655.1,668.8 657.3,667.0 659.6,665.1 661.8,663.1 664.1,661.1 666.3,659.0 668.6,656.8 670.9,654.6 673.1,652.3 675.4,649.9 677.6,647.4 679.9,644.8"/>
<polyline fill="none" stroke="#f8588f" stroke-width="1.8" stroke-linejoin="round" points="411.1,672.8 413.4,674.3 415.6,675.8 417.9,677.2 420.1,678.6 422.4,680.0 424.7,681.3 426.9,682.5 429.2,683.7 431.4,684.9 433.7,686.0 435.9,687.1 438.2,688.1 440.5,689.1 442.7,690.0 445.0,690.9 447.2,691.7 449.5,692.5 451.8,693.2 454.0,693.9 456.3,694.6 458.5,695.2 460.8,695.7 463.1,696.2 465.3,696.7 467.6,697.1 469.8,697.5 472.1,697.8 474.3,698.1 476.6,698.4 478.9,698.6 481.1,698.7 483.4,698.9 485.6,699.0 487.9,699.0 490.2,699.0 492.4,699.0 494.7,699.0 496.9,699.0 499.2,699.0 501.5,699.0 503.7,698.9 506.0,698.9 508.2,698.8 510.5,698.7 512.7,698.6 515.0,698.5 517.3,698.3 519.5,698.2 521.8,697.9 524.0,697.7 526.3,697.4 528.6,697.1 530.8,696.8 533.1,696.4 535.3,696.0 537.6,695.6 539.9,695.2 542.1,694.7 544.4,694.2 546.6,693.8 548.9,693.2 551.1,692.7 553.4,692.2 555.7,691.6 557.9,691.0 560.2,690.3 562.4,689.6 564.7,688.8 567.0,688.0 569.2,687.2 571.5,686.3 573.7,685.3 576.0,684.2 578.3,683.2 580.5,682.0 582.8,680.8 585.0,679.5 587.3,678.2 589.5,676.8 591.8,675.4 594.1,673.9 596.3,672.3 598.6,670.6 600.8,668.6 603.1,666.5 605.4,664.3 607.6,662.0 609.9,659.8 612.1,657.8 614.4,656.0 616.7,654.5 618.9,653.1 621.2,651.8 623.4,650.5 625.7,649.0 627.9,647.4 630.2,645.6 632.5,643.5 634.7,641.1 637.0,638.3 639.2,635.2 641.5,631.6 643.8,627.7 646.0,623.4 648.3,618.6 650.5,613.6 652.8,608.3 655.1,602.7 657.3,597.1 659.6,591.4 661.8,585.6 664.1,579.9 666.3,574.1 668.6,568.3 670.9,562.5 673.1,556.7 675.4,550.9 677.6,545.2 679.9,539.5"/>
<line x1="450.0" y1="612.5" x2="469.0" y2="612.5" stroke="#4b9bfa" stroke-width="1.8"/>
<line x1="450.0" y1="636.6" x2="469.0" y2="636.6" stroke="#f8588f" stroke-width="1.8"/>
<text x="479.5" y="618.0" font-size="15">WT</text>
<text x="479.5" y="641.6" font-size="15">P268A</text>
</svg>
</body></html>
